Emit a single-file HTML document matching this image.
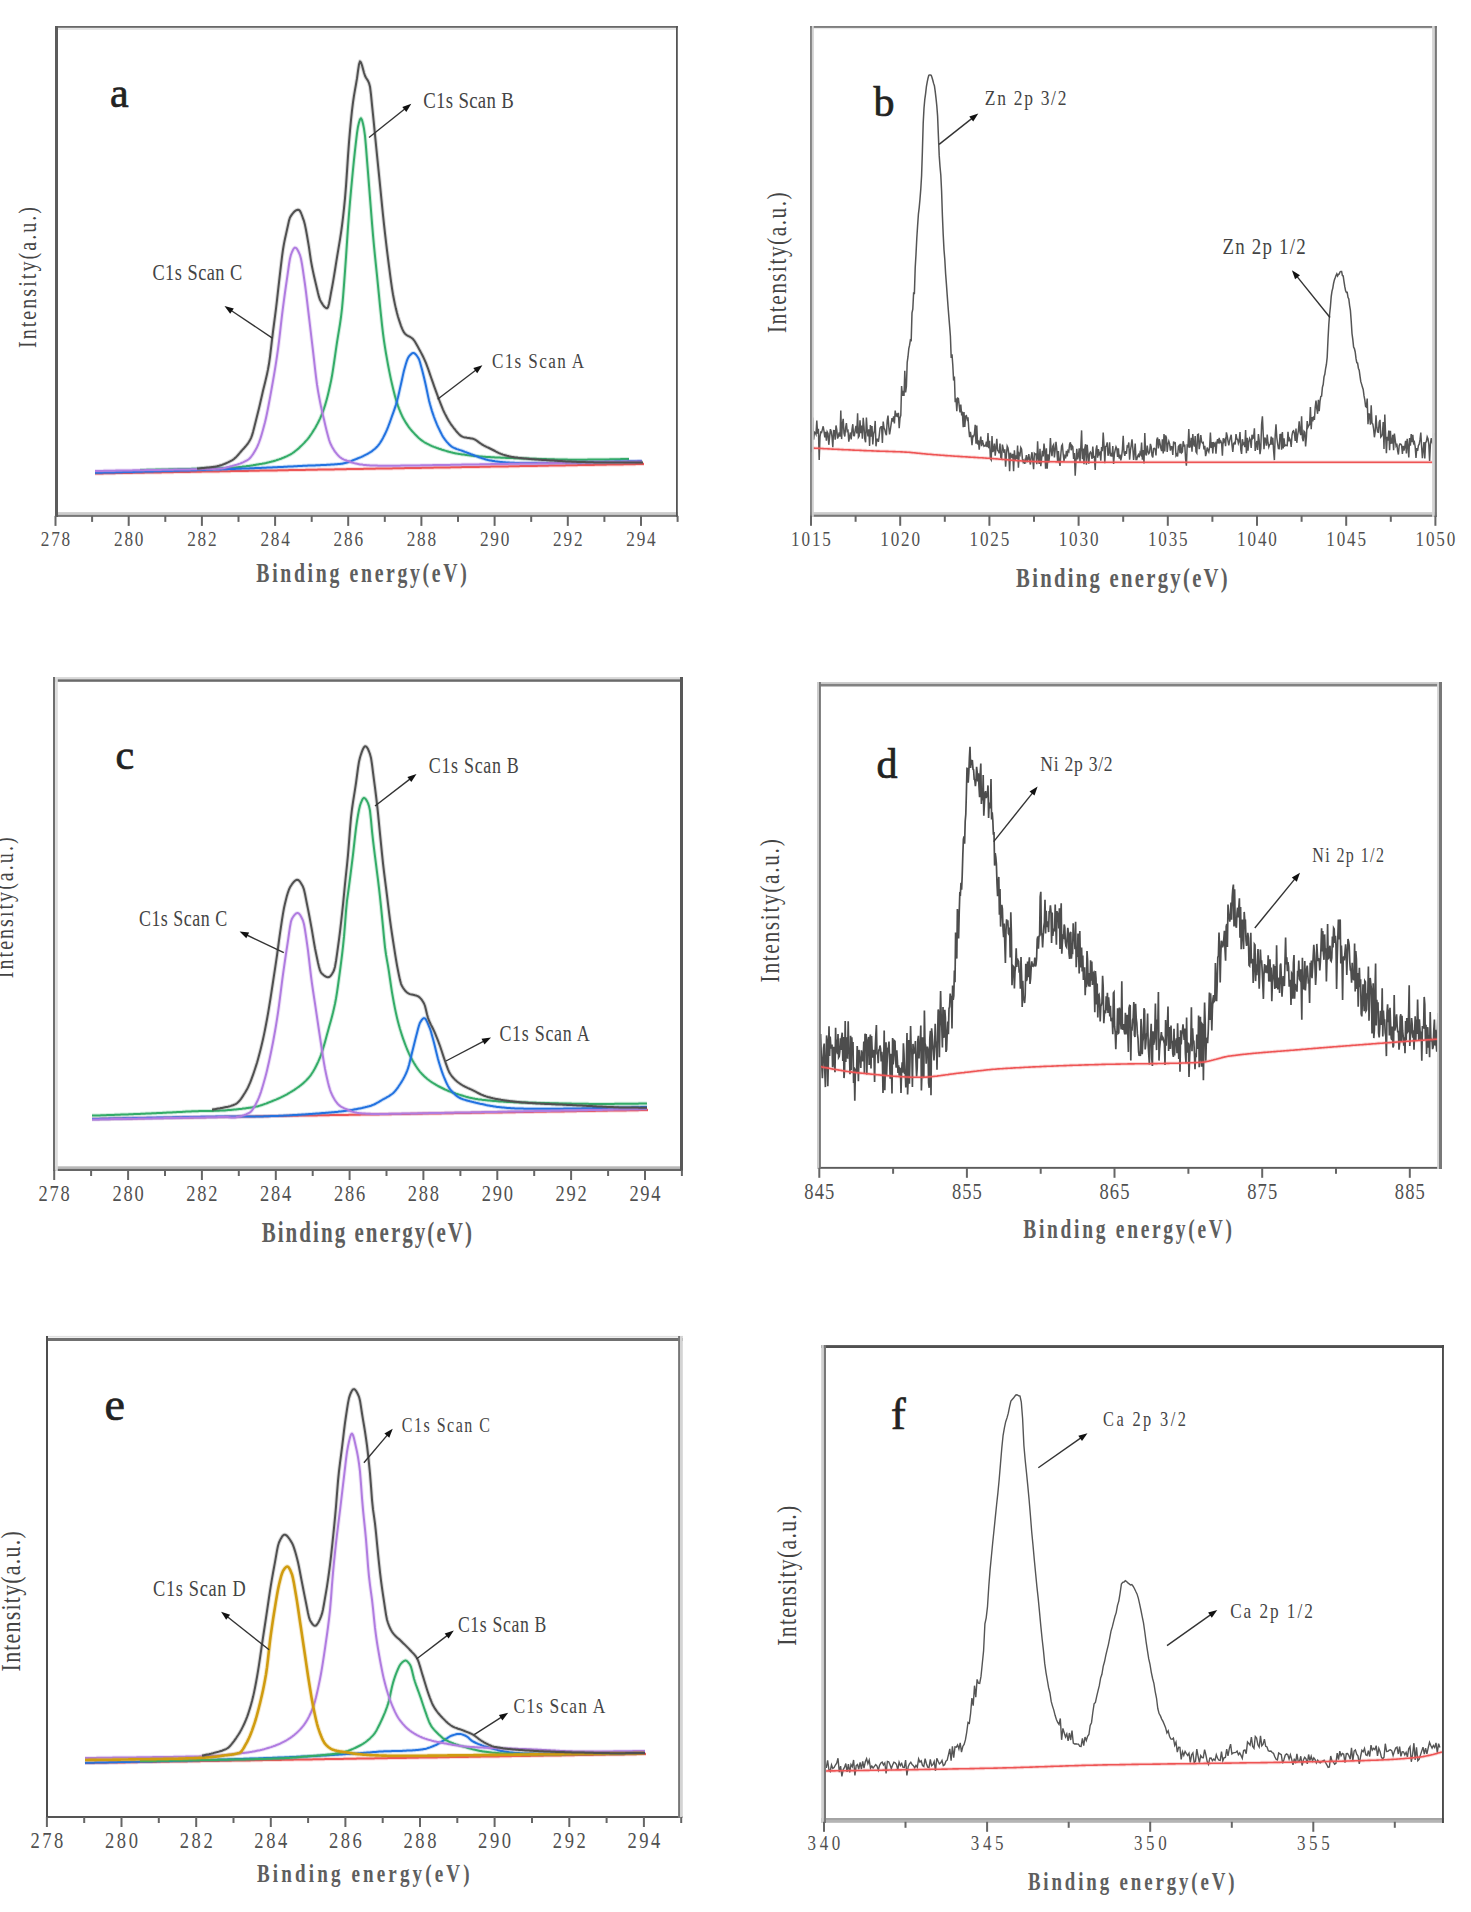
<!DOCTYPE html>
<html><head><meta charset="utf-8"><title>XPS spectra</title>
<style>html,body{margin:0;padding:0;background:#fff;width:1471px;height:1912px;overflow:hidden}svg{display:block}</style>
</head><body><div id="w">
<svg width="1471" height="1912" viewBox="0 0 1471 1912" font-family="Liberation Serif, serif">
<rect width="1471" height="1912" fill="#fff"/>
<defs><path id="p1" d="M95,473.5 L96,473.5 L97,473.5 L98,473.4 L99,473.4 L100,473.4 L101,473.4 L102,473.4 L103,473.4 L104,473.3 L105,473.3 L106,473.3 L107,473.3 L108,473.3 L109,473.3 L110,473.2 L111,473.2 L112,473.2 L113,473.2 L114,473.2 L115,473.2 L116,473.1 L117,473.1 L118,473.1 L119,473.1 L120,473.1 L121,473.1 L122,473 L123,473 L124,473 L125,473 L126,473 L127,472.9 L128,472.9 L129,472.9 L130,472.9 L131,472.9 L132,472.9 L133,472.8 L134,472.8 L135,472.8 L136,472.8 L137,472.8 L138,472.8 L139,472.7 L140,472.7 L141,472.7 L142,472.7 L143,472.7 L144,472.7 L145,472.6 L146,472.6 L147,472.6 L148,472.6 L149,472.6 L150,472.5 L151,472.5 L152,472.5 L153,472.5 L154,472.5 L155,472.5 L156,472.4 L157,472.4 L158,472.4 L159,472.4 L160,472.4 L161,472.4 L162,472.3 L163,472.3 L164,472.3 L165,472.3 L166,472.3 L167,472.3 L168,472.2 L169,472.2 L170,472.2 L171,472.2 L172,472.2 L173,472.2 L174,472.1 L175,472.1 L176,472.1 L177,472.1 L178,472.1 L179,472 L180,472 L181,472 L182,472 L183,472 L184,472 L185,471.9 L186,471.9 L187,471.9 L188,471.9 L189,471.9 L190,471.9 L191,471.8 L192,471.8 L193,471.8 L194,471.8 L195,471.8 L196,471.8 L197,471.7 L198,471.7 L199,471.7 L200,471.7 L201,471.7 L202,471.6 L203,471.6 L204,471.6 L205,471.6 L206,471.6 L207,471.6 L208,471.5 L209,471.5 L210,471.5 L211,471.5 L212,471.5 L213,471.5 L214,471.4 L215,471.4 L216,471.4 L217,471.4 L218,471.4 L219,471.4 L220,471.3 L221,471.3 L222,471.3 L223,471.3 L224,471.3 L225,471.3 L226,471.2 L227,471.2 L228,471.2 L229,471.2 L230,471.2 L231,471.1 L232,471.1 L233,471.1 L234,471.1 L235,471.1 L236,471.1 L237,471 L238,471 L239,471 L240,471 L241,471 L242,471 L243,470.9 L244,470.9 L245,470.9 L246,470.9 L247,470.9 L248,470.9 L249,470.8 L250,470.8 L251,470.8 L252,470.8 L253,470.8 L254,470.7 L255,470.7 L256,470.7 L257,470.7 L258,470.7 L259,470.7 L260,470.6 L261,470.6 L262,470.6 L263,470.6 L264,470.6 L265,470.6 L266,470.5 L267,470.5 L268,470.5 L269,470.5 L270,470.5 L271,470.5 L272,470.4 L273,470.4 L274,470.4 L275,470.4 L276,470.4 L277,470.4 L278,470.3 L279,470.3 L280,470.3 L281,470.3 L282,470.3 L283,470.2 L284,470.2 L285,470.2 L286,470.2 L287,470.2 L288,470.2 L289,470.1 L290,470.1 L291,470.1 L292,470.1 L293,470.1 L294,470.1 L295,470 L296,470 L297,470 L298,470 L299,470 L300,470 L301,469.9 L302,469.9 L303,469.9 L304,469.9 L305,469.9 L306,469.8 L307,469.8 L308,469.8 L309,469.8 L310,469.8 L311,469.8 L312,469.7 L313,469.7 L314,469.7 L315,469.7 L316,469.7 L317,469.7 L318,469.6 L319,469.6 L320,469.6 L321,469.6 L322,469.6 L323,469.6 L324,469.5 L325,469.5 L326,469.5 L327,469.5 L328,469.5 L329,469.5 L330,469.4 L331,469.4 L332,469.4 L333,469.4 L334,469.4 L335,469.3 L336,469.3 L337,469.3 L338,469.3 L339,469.3 L340,469.3 L341,469.2 L342,469.2 L343,469.2 L344,469.2 L345,469.2 L346,469.2 L347,469.1 L348,469.1 L349,469.1 L350,469.1 L351,469.1 L352,469.1 L353,469 L354,469 L355,469 L356,469 L357,469 L358,468.9 L359,468.9 L360,468.9 L361,468.9 L362,468.9 L363,468.9 L364,468.8 L365,468.8 L366,468.8 L367,468.8 L368,468.8 L369,468.8 L370,468.7 L371,468.7 L372,468.7 L373,468.7 L374,468.7 L375,468.7 L376,468.6 L377,468.6 L378,468.6 L379,468.6 L380,468.6 L381,468.6 L382,468.5 L383,468.5 L384,468.5 L385,468.5 L386,468.5 L387,468.4 L388,468.4 L389,468.4 L390,468.4 L391,468.4 L392,468.4 L393,468.3 L394,468.3 L395,468.3 L396,468.3 L397,468.3 L398,468.3 L399,468.2 L400,468.2 L401,468.2 L402,468.2 L403,468.2 L404,468.2 L405,468.1 L406,468.1 L407,468.1 L408,468.1 L409,468.1 L410,468 L411,468 L412,468 L413,468 L414,468 L415,468 L416,467.9 L417,467.9 L418,467.9 L419,467.9 L420,467.9 L421,467.9 L422,467.8 L423,467.8 L424,467.8 L425,467.8 L426,467.8 L427,467.8 L428,467.7 L429,467.7 L430,467.7 L431,467.7 L432,467.7 L433,467.7 L434,467.6 L435,467.6 L436,467.6 L437,467.6 L438,467.6 L439,467.5 L440,467.5 L441,467.5 L442,467.5 L443,467.5 L444,467.5 L445,467.4 L446,467.4 L447,467.4 L448,467.4 L449,467.4 L450,467.4 L451,467.3 L452,467.3 L453,467.3 L454,467.3 L455,467.3 L456,467.3 L457,467.2 L458,467.2 L459,467.2 L460,467.2 L461,467.2 L462,467.1 L463,467.1 L464,467.1 L465,467.1 L466,467.1 L467,467.1 L468,467 L469,467 L470,467 L471,467 L472,467 L473,467 L474,466.9 L475,466.9 L476,466.9 L477,466.9 L478,466.9 L479,466.9 L480,466.8 L481,466.8 L482,466.8 L483,466.8 L484,466.8 L485,466.8 L486,466.7 L487,466.7 L488,466.7 L489,466.7 L490,466.7 L491,466.6 L492,466.6 L493,466.6 L494,466.6 L495,466.6 L496,466.6 L497,466.5 L498,466.5 L499,466.5 L500,466.5 L501,466.5 L502,466.5 L503,466.4 L504,466.4 L505,466.4 L506,466.4 L507,466.4 L508,466.4 L509,466.3 L510,466.3 L511,466.3 L512,466.3 L513,466.3 L514,466.2 L515,466.2 L516,466.2 L517,466.2 L518,466.2 L519,466.2 L520,466.1 L521,466.1 L522,466.1 L523,466.1 L524,466.1 L525,466.1 L526,466 L527,466 L528,466 L529,466 L530,466 L531,466 L532,465.9 L533,465.9 L534,465.9 L535,465.9 L536,465.9 L537,465.9 L538,465.8 L539,465.8 L540,465.8 L541,465.8 L542,465.8 L543,465.7 L544,465.7 L545,465.7 L546,465.7 L547,465.7 L548,465.7 L549,465.6 L550,465.6 L551,465.6 L552,465.6 L553,465.6 L554,465.6 L555,465.5 L556,465.5 L557,465.5 L558,465.5 L559,465.5 L560,465.5 L561,465.4 L562,465.4 L563,465.4 L564,465.4 L565,465.4 L566,465.3 L567,465.3 L568,465.3 L569,465.3 L570,465.3 L571,465.3 L572,465.2 L573,465.2 L574,465.2 L575,465.2 L576,465.2 L577,465.2 L578,465.1 L579,465.1 L580,465.1 L581,465.1 L582,465.1 L583,465.1 L584,465 L585,465 L586,465 L587,465 L588,465 L589,465 L590,464.9 L591,464.9 L592,464.9 L593,464.9 L594,464.9 L595,464.8 L596,464.8 L597,464.8 L598,464.8 L599,464.8 L600,464.8 L601,464.7 L602,464.7 L603,464.7 L604,464.7 L605,464.7 L606,464.7 L607,464.6 L608,464.6 L609,464.6 L610,464.6 L611,464.6 L612,464.6 L613,464.5 L614,464.5 L615,464.5 L616,464.5 L617,464.5 L618,464.4 L619,464.4 L620,464.4 L621,464.4 L622,464.4 L623,464.4 L624,464.3 L625,464.3 L626,464.3 L627,464.3 L628,464.3 L629,464.3 L630,464.2 L631,464.2 L632,464.2 L633,464.2 L634,464.2 L635,464.2 L636,464.1 L637,464.1 L638,464.1 L639,464.1 L640,464.1 L641,464.1 L642,464 L643,464 L644,464" fill="none" stroke="#ee5555" stroke-linejoin="round"/></defs>
<use href="#p1" stroke-width="4" opacity="0.22"/>
<use href="#p1" stroke-width="2" opacity="1"/>
<defs><path id="p2" d="M140,470 L141,470 L142,470 L143,469.9 L144,469.9 L145,469.9 L146,469.9 L147,469.8 L148,469.8 L149,469.8 L150,469.8 L151,469.8 L152,469.7 L153,469.7 L154,469.7 L155,469.7 L156,469.6 L157,469.6 L158,469.6 L159,469.6 L160,469.6 L161,469.5 L162,469.5 L163,469.5 L164,469.5 L165,469.4 L166,469.4 L167,469.4 L168,469.4 L169,469.3 L170,469.3 L171,469.3 L172,469.3 L173,469.3 L174,469.2 L175,469.2 L176,469.2 L177,469.2 L178,469.1 L179,469.1 L180,469.1 L181,469.1 L182,469.1 L183,469 L184,469 L185,469 L186,469 L187,468.9 L188,468.9 L189,468.9 L190,468.9 L191,468.9 L192,468.8 L193,468.8 L194,468.8 L195,468.8 L196,468.7 L197,468.7 L198,468.7 L199,468.7 L200,468.7 L201,468.6 L202,468.6 L203,468.6 L204,468.6 L205,468.5 L206,468.5 L207,468.5 L208,468.5 L209,468.5 L210,468.4 L211,468.4 L212,468.4 L213,468.4 L214,468.3 L215,468.3 L216,468.3 L217,468.3 L218,468.2 L219,468.2 L220,468.2 L221,468.2 L222,468.1 L223,468.1 L224,468.1 L225,468.1 L226,468 L227,468 L228,468 L229,467.9 L230,467.9 L231,467.8 L232,467.8 L233,467.7 L234,467.6 L235,467.6 L236,467.4 L237,467.3 L238,467.2 L239,467.1 L240,467 L241,466.9 L242,466.8 L243,466.6 L244,466.5 L245,466.4 L246,466.3 L247,466.1 L248,466 L249,465.9 L250,465.7 L251,465.6 L252,465.4 L253,465.3 L254,465.1 L255,465 L256,464.8 L257,464.6 L258,464.5 L259,464.3 L260,464.1 L261,463.9 L262,463.8 L263,463.6 L264,463.4 L265,463.2 L266,463 L267,462.7 L268,462.5 L269,462.3 L270,462 L271,461.8 L272,461.5 L273,461.3 L274,461 L275,460.7 L276,460.4 L277,460 L278,459.7 L279,459.4 L280,459 L281,458.7 L282,458.3 L283,457.9 L284,457.5 L285,457 L286,456.6 L287,456.2 L288,455.7 L289,455.2 L290,454.7 L291,454.1 L292,453.5 L293,452.8 L294,452.1 L295,451.3 L296,450.5 L297,449.7 L298,448.9 L299,448 L300,447 L301,446.1 L302,445.1 L303,444.1 L304,443.1 L305,442 L306,440.9 L307,439.8 L308,438.6 L309,437.3 L310,435.9 L311,434.5 L312,433 L313,431.4 L314,429.8 L315,428.2 L316,426.4 L317,424.6 L318,422.7 L319,420.7 L320,418.6 L321,416.3 L322,413.9 L323,411.3 L324,408.5 L325,405.4 L326,402 L327,398.4 L328,394.5 L329,390.3 L330,385.8 L331,381.1 L332,375.8 L333,369.7 L334,363 L335,356.1 L336,349.1 L337,342.4 L338,336.1 L339,330.2 L340,324 L341,317 L342,308.5 L343,297.6 L344,284.8 L345,271.2 L346,257.3 L347,242.1 L348,227.1 L349,214 L350,202 L351,190.7 L352,180 L353,169.5 L354,159.6 L355,150.3 L356,141.6 L357,133.1 L358,126.7 L359,122.6 L360,119.4 L361,118.2 L362,119.9 L363,123.7 L364,128.8 L365,135.8 L366,147.2 L367,160 L368,172.3 L369,185.1 L370,197.9 L371,210.5 L372,223.1 L373,235.1 L374,246 L375,256.1 L376,265.8 L377,275.5 L378,285.6 L379,295.7 L380,305.8 L381,315.4 L382,324.8 L383,333.4 L384,340.8 L385,347.4 L386,353.5 L387,359.2 L388,364.7 L389,369.9 L390,374.9 L391,379.6 L392,384 L393,388.2 L394,392.3 L395,396.2 L396,399.8 L397,403 L398,405.9 L399,408.6 L400,411.1 L401,413.5 L402,415.7 L403,417.7 L404,419.5 L405,421.2 L406,422.9 L407,424.4 L408,425.9 L409,427.3 L410,428.6 L411,429.8 L412,431 L413,432.1 L414,433.2 L415,434.3 L416,435.3 L417,436.3 L418,437.3 L419,438.2 L420,439 L421,439.9 L422,440.6 L423,441.3 L424,442 L425,442.6 L426,443.1 L427,443.7 L428,444.2 L429,444.7 L430,445.2 L431,445.6 L432,446.1 L433,446.5 L434,446.9 L435,447.2 L436,447.6 L437,448 L438,448.3 L439,448.7 L440,449 L441,449.3 L442,449.7 L443,450 L444,450.3 L445,450.6 L446,450.9 L447,451.2 L448,451.5 L449,451.8 L450,452 L451,452.3 L452,452.5 L453,452.8 L454,453 L455,453.2 L456,453.4 L457,453.6 L458,453.7 L459,453.9 L460,454.1 L461,454.2 L462,454.4 L463,454.5 L464,454.6 L465,454.8 L466,454.9 L467,455.1 L468,455.2 L469,455.3 L470,455.4 L471,455.5 L472,455.7 L473,455.8 L474,455.9 L475,456 L476,456.1 L477,456.2 L478,456.3 L479,456.4 L480,456.5 L481,456.5 L482,456.6 L483,456.7 L484,456.8 L485,456.8 L486,456.9 L487,456.9 L488,457 L489,457.1 L490,457.1 L491,457.2 L492,457.2 L493,457.3 L494,457.3 L495,457.4 L496,457.4 L497,457.5 L498,457.5 L499,457.6 L500,457.6 L501,457.7 L502,457.7 L503,457.7 L504,457.8 L505,457.8 L506,457.9 L507,457.9 L508,457.9 L509,458 L510,458 L511,458.1 L512,458.1 L513,458.1 L514,458.2 L515,458.2 L516,458.2 L517,458.3 L518,458.3 L519,458.3 L520,458.4 L521,458.4 L522,458.4 L523,458.4 L524,458.5 L525,458.5 L526,458.5 L527,458.6 L528,458.6 L529,458.6 L530,458.7 L531,458.7 L532,458.7 L533,458.7 L534,458.8 L535,458.8 L536,458.8 L537,458.9 L538,458.9 L539,458.9 L540,459 L541,459 L542,459 L543,459.1 L544,459.1 L545,459.1 L546,459.1 L547,459.2 L548,459.2 L549,459.2 L550,459.2 L551,459.3 L552,459.3 L553,459.3 L554,459.3 L555,459.4 L556,459.4 L557,459.4 L558,459.4 L559,459.5 L560,459.5 L561,459.5 L562,459.5 L563,459.6 L564,459.6 L565,459.6 L566,459.6 L567,459.6 L568,459.7 L569,459.7 L570,459.7 L571,459.7 L572,459.7 L573,459.7 L574,459.7 L575,459.7 L576,459.7 L577,459.7 L578,459.7 L579,459.7 L580,459.7 L581,459.7 L582,459.7 L583,459.7 L584,459.7 L585,459.7 L586,459.7 L587,459.7 L588,459.6 L589,459.6 L590,459.6 L591,459.6 L592,459.6 L593,459.6 L594,459.6 L595,459.6 L596,459.6 L597,459.5 L598,459.5 L599,459.5 L600,459.5 L601,459.5 L602,459.5 L603,459.5 L604,459.4 L605,459.4 L606,459.4 L607,459.4 L608,459.4 L609,459.4 L610,459.3 L611,459.3 L612,459.3 L613,459.3 L614,459.3 L615,459.3 L616,459.2 L617,459.2 L618,459.2 L619,459.2 L620,459.2 L621,459.1 L622,459.1 L623,459.1 L624,459.1 L625,459.1 L626,459 L627,459 L628,459 L629,459" fill="none" stroke="#34ac68" stroke-linejoin="round"/></defs>
<use href="#p2" stroke-width="4" opacity="0.22"/>
<use href="#p2" stroke-width="2" opacity="1"/>
<defs><path id="p3" d="M95,472.8 L96,472.8 L97,472.8 L98,472.8 L99,472.7 L100,472.7 L101,472.7 L102,472.7 L103,472.6 L104,472.6 L105,472.6 L106,472.6 L107,472.5 L108,472.5 L109,472.5 L110,472.5 L111,472.4 L112,472.4 L113,472.4 L114,472.4 L115,472.3 L116,472.3 L117,472.3 L118,472.3 L119,472.2 L120,472.2 L121,472.2 L122,472.2 L123,472.1 L124,472.1 L125,472.1 L126,472.1 L127,472 L128,472 L129,472 L130,472 L131,471.9 L132,471.9 L133,471.9 L134,471.9 L135,471.8 L136,471.8 L137,471.8 L138,471.8 L139,471.7 L140,471.7 L141,471.7 L142,471.7 L143,471.6 L144,471.6 L145,471.6 L146,471.6 L147,471.5 L148,471.5 L149,471.5 L150,471.5 L151,471.4 L152,471.4 L153,471.4 L154,471.3 L155,471.3 L156,471.3 L157,471.3 L158,471.2 L159,471.2 L160,471.2 L161,471.2 L162,471.1 L163,471.1 L164,471.1 L165,471 L166,471 L167,471 L168,471 L169,470.9 L170,470.9 L171,470.9 L172,470.9 L173,470.8 L174,470.8 L175,470.8 L176,470.7 L177,470.7 L178,470.7 L179,470.7 L180,470.6 L181,470.6 L182,470.6 L183,470.5 L184,470.5 L185,470.5 L186,470.5 L187,470.4 L188,470.4 L189,470.4 L190,470.3 L191,470.3 L192,470.3 L193,470.2 L194,470.2 L195,470.2 L196,470.2 L197,470.1 L198,470.1 L199,470.1 L200,470 L201,470 L202,470 L203,469.9 L204,469.9 L205,469.9 L206,469.8 L207,469.8 L208,469.8 L209,469.8 L210,469.7 L211,469.7 L212,469.7 L213,469.6 L214,469.6 L215,469.6 L216,469.5 L217,469.5 L218,469.5 L219,469.4 L220,469.4 L221,469.4 L222,469.3 L223,469.3 L224,469.3 L225,469.2 L226,469.2 L227,469.2 L228,469.1 L229,469.1 L230,469.1 L231,469 L232,469 L233,468.9 L234,468.9 L235,468.9 L236,468.8 L237,468.8 L238,468.8 L239,468.7 L240,468.7 L241,468.7 L242,468.6 L243,468.6 L244,468.5 L245,468.5 L246,468.5 L247,468.4 L248,468.4 L249,468.4 L250,468.3 L251,468.3 L252,468.2 L253,468.2 L254,468.2 L255,468.1 L256,468.1 L257,468 L258,468 L259,468 L260,467.9 L261,467.9 L262,467.8 L263,467.8 L264,467.7 L265,467.7 L266,467.7 L267,467.6 L268,467.6 L269,467.5 L270,467.5 L271,467.4 L272,467.4 L273,467.3 L274,467.3 L275,467.3 L276,467.2 L277,467.2 L278,467.1 L279,467.1 L280,467 L281,467 L282,466.9 L283,466.9 L284,466.8 L285,466.8 L286,466.7 L287,466.7 L288,466.6 L289,466.6 L290,466.5 L291,466.5 L292,466.4 L293,466.4 L294,466.3 L295,466.3 L296,466.2 L297,466.2 L298,466.1 L299,466.1 L300,466 L301,465.9 L302,465.9 L303,465.8 L304,465.8 L305,465.8 L306,465.7 L307,465.7 L308,465.6 L309,465.6 L310,465.5 L311,465.5 L312,465.5 L313,465.4 L314,465.4 L315,465.4 L316,465.3 L317,465.3 L318,465.2 L319,465.2 L320,465.2 L321,465.1 L322,465.1 L323,465 L324,465 L325,464.9 L326,464.9 L327,464.8 L328,464.8 L329,464.7 L330,464.7 L331,464.6 L332,464.5 L333,464.5 L334,464.4 L335,464.3 L336,464.2 L337,464.2 L338,464.1 L339,464 L340,463.9 L341,463.8 L342,463.7 L343,463.5 L344,463.3 L345,463.1 L346,462.8 L347,462.5 L348,462.2 L349,461.8 L350,461.4 L351,461.1 L352,460.7 L353,460.3 L354,459.9 L355,459.5 L356,459.1 L357,458.7 L358,458.3 L359,457.9 L360,457.5 L361,457.1 L362,456.6 L363,456.2 L364,455.7 L365,455.2 L366,454.7 L367,454.2 L368,453.6 L369,453 L370,452.4 L371,451.8 L372,451.1 L373,450.3 L374,449.5 L375,448.7 L376,447.8 L377,446.8 L378,445.7 L379,444.4 L380,443 L381,441.4 L382,439.7 L383,437.9 L384,436 L385,434 L386,431.9 L387,429.7 L388,427.2 L389,424.5 L390,421.8 L391,419 L392,416.2 L393,413.4 L394,410.6 L395,407.6 L396,404.5 L397,401.1 L398,397.2 L399,392.9 L400,388.4 L401,384 L402,379.5 L403,374.9 L404,370.6 L405,366.9 L406,363.5 L407,360.4 L408,358 L409,356.4 L410,355.2 L411,354.2 L412,353.4 L413,353 L414,353.1 L415,353.7 L416,354.7 L417,356 L418,357.5 L419,359.3 L420,362.3 L421,365.9 L422,369.6 L423,373.4 L424,377.6 L425,381.8 L426,386.2 L427,391 L428,395.9 L429,400.4 L430,404.3 L431,407.8 L432,411.1 L433,414.1 L434,417 L435,419.7 L436,422.2 L437,424.6 L438,426.8 L439,428.9 L440,431 L441,433 L442,434.9 L443,436.7 L444,438.2 L445,439.6 L446,440.9 L447,442.1 L448,443.2 L449,444.3 L450,445.2 L451,446.1 L452,446.8 L453,447.4 L454,447.9 L455,448.3 L456,448.7 L457,449.1 L458,449.4 L459,449.8 L460,450.1 L461,450.4 L462,450.7 L463,451.1 L464,451.5 L465,451.9 L466,452.2 L467,452.6 L468,453 L469,453.4 L470,453.8 L471,454.2 L472,454.5 L473,454.9 L474,455.3 L475,455.7 L476,456.1 L477,456.4 L478,456.8 L479,457.2 L480,457.6 L481,457.9 L482,458.3 L483,458.6 L484,458.9 L485,459.2 L486,459.5 L487,459.7 L488,460 L489,460.2 L490,460.4 L491,460.6 L492,460.8 L493,461 L494,461.1 L495,461.3 L496,461.4 L497,461.5 L498,461.7 L499,461.8 L500,461.9 L501,462 L502,462.1 L503,462.2 L504,462.3 L505,462.3 L506,462.4 L507,462.5 L508,462.5 L509,462.6 L510,462.7 L511,462.7 L512,462.7 L513,462.8 L514,462.8 L515,462.9 L516,462.9 L517,462.9 L518,462.9 L519,463 L520,463 L521,463 L522,463 L523,463 L524,463 L525,463.1 L526,463.1 L527,463.1 L528,463.1 L529,463.1 L530,463.1 L531,463.1 L532,463.1 L533,463.1 L534,463.1 L535,463.1 L536,463.1 L537,463.1 L538,463.1 L539,463 L540,463 L541,463 L542,463 L543,463 L544,463 L545,463 L546,463 L547,463 L548,463 L549,462.9 L550,462.9 L551,462.9 L552,462.9 L553,462.9 L554,462.9 L555,462.8 L556,462.8 L557,462.8 L558,462.8 L559,462.8 L560,462.8 L561,462.7 L562,462.7 L563,462.7 L564,462.7 L565,462.7 L566,462.7 L567,462.6 L568,462.6 L569,462.6 L570,462.6 L571,462.6 L572,462.5 L573,462.5 L574,462.5 L575,462.5 L576,462.5 L577,462.4 L578,462.4 L579,462.4 L580,462.4 L581,462.4 L582,462.3 L583,462.3 L584,462.3 L585,462.3 L586,462.3 L587,462.2 L588,462.2 L589,462.2 L590,462.2 L591,462.1 L592,462.1 L593,462.1 L594,462.1 L595,462.1 L596,462 L597,462 L598,462 L599,462 L600,462 L601,461.9 L602,461.9 L603,461.9 L604,461.9 L605,461.8 L606,461.8 L607,461.8 L608,461.8 L609,461.8 L610,461.7 L611,461.7 L612,461.7 L613,461.7 L614,461.7 L615,461.6 L616,461.6 L617,461.6 L618,461.6 L619,461.5 L620,461.5 L621,461.5 L622,461.5 L623,461.5 L624,461.4 L625,461.4 L626,461.4 L627,461.4 L628,461.3 L629,461.3 L630,461.3 L631,461.3 L632,461.3 L633,461.2 L634,461.2 L635,461.2 L636,461.2 L637,461.2 L638,461.1 L639,461.1 L640,461.1 L641,461.1 L642,461" fill="none" stroke="#2272e0" stroke-linejoin="round"/></defs>
<use href="#p3" stroke-width="4" opacity="0.22"/>
<use href="#p3" stroke-width="2" opacity="1"/>
<defs><path id="p4" d="M95,471 L96,471 L97,471 L98,470.9 L99,470.9 L100,470.9 L101,470.9 L102,470.9 L103,470.9 L104,470.8 L105,470.8 L106,470.8 L107,470.8 L108,470.8 L109,470.8 L110,470.7 L111,470.7 L112,470.7 L113,470.7 L114,470.7 L115,470.7 L116,470.6 L117,470.6 L118,470.6 L119,470.6 L120,470.6 L121,470.6 L122,470.5 L123,470.5 L124,470.5 L125,470.5 L126,470.5 L127,470.4 L128,470.4 L129,470.4 L130,470.4 L131,470.4 L132,470.4 L133,470.3 L134,470.3 L135,470.3 L136,470.3 L137,470.3 L138,470.3 L139,470.2 L140,470.2 L141,470.2 L142,470.2 L143,470.2 L144,470.2 L145,470.1 L146,470.1 L147,470.1 L148,470.1 L149,470.1 L150,470 L151,470 L152,470 L153,470 L154,470 L155,470 L156,469.9 L157,469.9 L158,469.9 L159,469.9 L160,469.9 L161,469.9 L162,469.8 L163,469.8 L164,469.8 L165,469.8 L166,469.8 L167,469.8 L168,469.7 L169,469.7 L170,469.7 L171,469.7 L172,469.7 L173,469.7 L174,469.6 L175,469.6 L176,469.6 L177,469.6 L178,469.6 L179,469.5 L180,469.5 L181,469.5 L182,469.5 L183,469.5 L184,469.5 L185,469.4 L186,469.4 L187,469.4 L188,469.4 L189,469.4 L190,469.4 L191,469.3 L192,469.3 L193,469.3 L194,469.3 L195,469.3 L196,469.3 L197,469.2 L198,469.2 L199,469.2 L200,469.2 L201,469.2 L202,469.1 L203,469.1 L204,469.1 L205,469.1 L206,469.1 L207,469.1 L208,469 L209,469 L210,469 L211,469 L212,468.9 L213,468.9 L214,468.9 L215,468.9 L216,468.8 L217,468.8 L218,468.7 L219,468.7 L220,468.6 L221,468.5 L222,468.4 L223,468.3 L224,468.1 L225,467.9 L226,467.6 L227,467.3 L228,467 L229,466.8 L230,466.5 L231,466.2 L232,466 L233,465.7 L234,465.4 L235,465.1 L236,464.9 L237,464.6 L238,464.3 L239,463.9 L240,463.6 L241,463.2 L242,462.8 L243,462.4 L244,461.9 L245,461.4 L246,460.9 L247,460.4 L248,459.7 L249,459 L250,458 L251,456.8 L252,455.5 L253,454.1 L254,452.5 L255,450.9 L256,449.1 L257,447.2 L258,445 L259,442.5 L260,439.7 L261,436.6 L262,433.3 L263,429.8 L264,426.1 L265,422.3 L266,418 L267,413.3 L268,408.3 L269,403 L270,397.6 L271,392.1 L272,386.5 L273,380.9 L274,375.1 L275,369.1 L276,362.8 L277,356.2 L278,349.2 L279,341.4 L280,332.8 L281,323.9 L282,315.3 L283,307.4 L284,299.9 L285,292.5 L286,285.5 L287,278.7 L288,271.6 L289,264.5 L290,258.4 L291,254.6 L292,252 L293,249.8 L294,248.3 L295,247.6 L296,247.9 L297,249 L298,250.7 L299,252.8 L300,255.2 L301,258.8 L302,264.2 L303,270.7 L304,277.6 L305,284.5 L306,292.2 L307,300.4 L308,308.8 L309,317.1 L310,325.5 L311,334 L312,342.5 L313,350.9 L314,359.6 L315,368.5 L316,376.9 L317,384.5 L318,390.8 L319,396.4 L320,401.6 L321,406.5 L322,411 L323,415.4 L324,419.6 L325,423.9 L326,428.2 L327,432.3 L328,436.1 L329,439.6 L330,442.5 L331,444.8 L332,446.7 L333,448.4 L334,450.1 L335,451.6 L336,452.9 L337,454.2 L338,455.3 L339,456.3 L340,457.2 L341,457.9 L342,458.6 L343,459.1 L344,459.6 L345,460 L346,460.3 L347,460.7 L348,461 L349,461.4 L350,461.8 L351,462.2 L352,462.5 L353,462.8 L354,463.1 L355,463.4 L356,463.6 L357,463.8 L358,464 L359,464.2 L360,464.4 L361,464.5 L362,464.6 L363,464.8 L364,464.9 L365,465 L366,465.1 L367,465.2 L368,465.2 L369,465.3 L370,465.4 L371,465.4 L372,465.5 L373,465.5 L374,465.5 L375,465.6 L376,465.6 L377,465.6 L378,465.7 L379,465.7 L380,465.7 L381,465.7 L382,465.7 L383,465.7 L384,465.7 L385,465.7 L386,465.7 L387,465.7 L388,465.7 L389,465.7 L390,465.7 L391,465.7 L392,465.7 L393,465.7 L394,465.7 L395,465.7 L396,465.7 L397,465.7 L398,465.7 L399,465.7 L400,465.7 L401,465.6 L402,465.6 L403,465.6 L404,465.6 L405,465.6 L406,465.6 L407,465.6 L408,465.5 L409,465.5 L410,465.5 L411,465.5 L412,465.5 L413,465.5 L414,465.5 L415,465.4 L416,465.4 L417,465.4 L418,465.4 L419,465.4 L420,465.4 L421,465.3 L422,465.3 L423,465.3 L424,465.3 L425,465.3 L426,465.3 L427,465.2 L428,465.2 L429,465.2 L430,465.2 L431,465.2 L432,465.2 L433,465.1 L434,465.1 L435,465.1 L436,465.1 L437,465.1 L438,465.1 L439,465 L440,465 L441,465 L442,465 L443,465 L444,465 L445,464.9 L446,464.9 L447,464.9 L448,464.9 L449,464.9 L450,464.9 L451,464.8 L452,464.8 L453,464.8 L454,464.8 L455,464.8 L456,464.8 L457,464.7 L458,464.7 L459,464.7 L460,464.7 L461,464.7 L462,464.6 L463,464.6 L464,464.6 L465,464.6 L466,464.6 L467,464.6 L468,464.5 L469,464.5 L470,464.5 L471,464.5 L472,464.5 L473,464.5 L474,464.4 L475,464.4 L476,464.4 L477,464.4 L478,464.4 L479,464.4 L480,464.3 L481,464.3 L482,464.3 L483,464.3 L484,464.3 L485,464.3 L486,464.2 L487,464.2 L488,464.2 L489,464.2 L490,464.2 L491,464.1 L492,464.1 L493,464.1 L494,464.1 L495,464.1 L496,464.1 L497,464 L498,464 L499,464 L500,464 L501,464 L502,464 L503,463.9 L504,463.9 L505,463.9 L506,463.9 L507,463.9 L508,463.9 L509,463.8 L510,463.8 L511,463.8 L512,463.8 L513,463.8 L514,463.7 L515,463.7 L516,463.7 L517,463.7 L518,463.7 L519,463.7 L520,463.6 L521,463.6 L522,463.6 L523,463.6 L524,463.6 L525,463.6 L526,463.5 L527,463.5 L528,463.5 L529,463.5 L530,463.5 L531,463.5 L532,463.4 L533,463.4 L534,463.4 L535,463.4 L536,463.4 L537,463.4 L538,463.3 L539,463.3 L540,463.3 L541,463.3 L542,463.3 L543,463.2 L544,463.2 L545,463.2 L546,463.2 L547,463.2 L548,463.2 L549,463.1 L550,463.1 L551,463.1 L552,463.1 L553,463.1 L554,463.1 L555,463 L556,463 L557,463 L558,463 L559,463 L560,463 L561,462.9 L562,462.9 L563,462.9 L564,462.9 L565,462.9 L566,462.8 L567,462.8 L568,462.8 L569,462.8 L570,462.8 L571,462.8 L572,462.7 L573,462.7 L574,462.7 L575,462.7 L576,462.7 L577,462.7 L578,462.6 L579,462.6 L580,462.6 L581,462.6 L582,462.6 L583,462.6 L584,462.5 L585,462.5 L586,462.5 L587,462.5 L588,462.5 L589,462.5 L590,462.4 L591,462.4 L592,462.4 L593,462.4 L594,462.4 L595,462.3 L596,462.3 L597,462.3 L598,462.3 L599,462.3 L600,462.3 L601,462.2 L602,462.2 L603,462.2 L604,462.2 L605,462.2 L606,462.2 L607,462.1 L608,462.1 L609,462.1 L610,462.1 L611,462.1 L612,462.1 L613,462 L614,462 L615,462 L616,462 L617,462 L618,461.9 L619,461.9 L620,461.9 L621,461.9 L622,461.9 L623,461.9 L624,461.8 L625,461.8 L626,461.8 L627,461.8 L628,461.8 L629,461.8 L630,461.7 L631,461.7 L632,461.7 L633,461.7 L634,461.7 L635,461.7 L636,461.6 L637,461.6 L638,461.6 L639,461.6 L640,461.6 L641,461.6 L642,461.5" fill="none" stroke="#b07ce0" stroke-linejoin="round"/></defs>
<use href="#p4" stroke-width="4" opacity="0.22"/>
<use href="#p4" stroke-width="2" opacity="1"/>
<defs><path id="p5" d="M197,468.6 L198,468.5 L199,468.4 L200,468.3 L201,468.2 L202,468.1 L203,468 L204,467.9 L205,467.8 L206,467.7 L207,467.6 L208,467.5 L209,467.4 L210,467.3 L211,467.2 L212,467.1 L213,467 L214,466.8 L215,466.7 L216,466.5 L217,466.3 L218,466 L219,465.8 L220,465.5 L221,465.2 L222,464.9 L223,464.5 L224,464.1 L225,463.7 L226,463.3 L227,462.8 L228,462.4 L229,461.9 L230,461.4 L231,460.8 L232,460.3 L233,459.7 L234,459 L235,458.1 L236,457.2 L237,456.1 L238,455 L239,453.8 L240,452.7 L241,451.5 L242,450.3 L243,449.2 L244,448.2 L245,447 L246,445.9 L247,444.6 L248,443.3 L249,441.8 L250,440 L251,438.1 L252,435.4 L253,432.1 L254,428.3 L255,424.3 L256,420.3 L257,416.3 L258,412.3 L259,408.2 L260,403.9 L261,399.6 L262,395.2 L263,390.8 L264,386.7 L265,382.7 L266,378.6 L267,374.2 L268,369.4 L269,363.8 L270,356.8 L271,348.4 L272,339.8 L273,331.7 L274,324 L275,316.4 L276,308.6 L277,300.2 L278,291.2 L279,282.3 L280,273.7 L281,265.1 L282,256.8 L283,249.5 L284,243.6 L285,238.7 L286,234.2 L287,229.8 L288,225.2 L289,220.6 L290,217.5 L291,215.9 L292,214.4 L293,213.1 L294,212 L295,211.1 L296,210.4 L297,210 L298,209.7 L299,209.9 L300,211 L301,213 L302,215.5 L303,218.3 L304,221.2 L305,225.1 L306,230 L307,235.5 L308,241.3 L309,247.4 L310,254.4 L311,261.1 L312,266.5 L313,271.4 L314,276 L315,280.3 L316,284.4 L317,288.7 L318,293 L319,296.9 L320,299.9 L321,301.8 L322,303.4 L323,305 L324,306.3 L325,307.3 L326,308 L327,308.3 L328,307.3 L329,303.7 L330,298.6 L331,292.9 L332,287.6 L333,282.1 L334,276.2 L335,270 L336,263.6 L337,257.3 L338,251.3 L339,245.4 L340,239.4 L341,232.9 L342,225.6 L343,217.5 L344,208.4 L345,198.3 L346,186.2 L347,171.4 L348,156 L349,142.2 L350,130.7 L351,120 L352,110.5 L353,102.4 L354,95.6 L355,89.8 L356,84.3 L357,78.4 L358,71 L359,64.3 L360,61.4 L361,62.5 L362,65.3 L363,69 L364,72.8 L365,75.8 L366,77.8 L367,79.3 L368,80.9 L369,83.1 L370,86.7 L371,94.6 L372,104.8 L373,114.5 L374,124.5 L375,134.9 L376,145 L377,155 L378,165 L379,174.9 L380,184.9 L381,195 L382,205.1 L383,215 L384,224.4 L385,233.4 L386,242 L387,250.4 L388,258.4 L389,266.2 L390,273.9 L391,281.4 L392,288.4 L393,294.5 L394,299.7 L395,304.6 L396,309.1 L397,313.1 L398,316.7 L399,319.9 L400,322.9 L401,325.8 L402,328.4 L403,330.6 L404,332.4 L405,333.7 L406,334.6 L407,335.3 L408,335.9 L409,336.4 L410,336.9 L411,337.5 L412,338.2 L413,339.1 L414,340.3 L415,341.8 L416,343.5 L417,345.3 L418,347.1 L419,348.9 L420,350.7 L421,352.6 L422,354.5 L423,356.5 L424,358.6 L425,360.8 L426,363.2 L427,365.8 L428,368.5 L429,371.4 L430,374.3 L431,377.3 L432,380.1 L433,382.9 L434,385.8 L435,388.6 L436,391.4 L437,394.2 L438,396.9 L439,399.5 L440,402.1 L441,404.7 L442,407.2 L443,409.6 L444,411.8 L445,413.9 L446,415.8 L447,417.7 L448,419.5 L449,421.2 L450,422.8 L451,424.3 L452,425.7 L453,427 L454,428.3 L455,429.5 L456,430.8 L457,432 L458,433.1 L459,434.2 L460,435.1 L461,435.9 L462,436.5 L463,436.9 L464,437.2 L465,437.4 L466,437.6 L467,437.8 L468,437.9 L469,438 L470,438.2 L471,438.4 L472,438.6 L473,438.8 L474,439.1 L475,439.6 L476,440.2 L477,440.9 L478,441.6 L479,442.4 L480,443.1 L481,443.8 L482,444.5 L483,445 L484,445.6 L485,446.1 L486,446.6 L487,447.1 L488,447.5 L489,448 L490,448.5 L491,449 L492,449.5 L493,450 L494,450.5 L495,451 L496,451.6 L497,452.1 L498,452.6 L499,453.1 L500,453.5 L501,453.9 L502,454.2 L503,454.6 L504,454.9 L505,455.2 L506,455.5 L507,455.8 L508,456 L509,456.3 L510,456.5 L511,456.7 L512,456.9 L513,457 L514,457.2 L515,457.4 L516,457.5 L517,457.6 L518,457.8 L519,457.9 L520,458 L521,458.1 L522,458.2 L523,458.3 L524,458.4 L525,458.5 L526,458.6 L527,458.7 L528,458.8 L529,458.9 L530,459 L531,459.1 L532,459.2 L533,459.2 L534,459.3 L535,459.4 L536,459.5 L537,459.6 L538,459.6 L539,459.7 L540,459.8 L541,459.8 L542,459.9 L543,460 L544,460 L545,460.1 L546,460.1 L547,460.2 L548,460.3 L549,460.3 L550,460.4 L551,460.4 L552,460.5 L553,460.6 L554,460.6 L555,460.7 L556,460.7 L557,460.8 L558,460.9 L559,460.9 L560,461 L561,461.1 L562,461.1 L563,461.2 L564,461.3 L565,461.3 L566,461.4 L567,461.4 L568,461.5 L569,461.5 L570,461.6 L571,461.6 L572,461.7 L573,461.7 L574,461.8 L575,461.8 L576,461.8 L577,461.9 L578,461.9 L579,461.9 L580,462 L581,462 L582,462.1 L583,462.1 L584,462.1 L585,462.1 L586,462.2 L587,462.2 L588,462.2 L589,462.2 L590,462.3 L591,462.3 L592,462.3 L593,462.3 L594,462.4 L595,462.4 L596,462.4 L597,462.4 L598,462.4 L599,462.4 L600,462.5 L601,462.5 L602,462.5 L603,462.5 L604,462.5 L605,462.5 L606,462.5 L607,462.5 L608,462.6 L609,462.6 L610,462.6 L611,462.6 L612,462.6 L613,462.6 L614,462.6 L615,462.6 L616,462.6 L617,462.6 L618,462.6 L619,462.6 L620,462.6 L621,462.6 L622,462.6 L623,462.6 L624,462.6 L625,462.6 L626,462.6 L627,462.6 L628,462.6 L629,462.6 L630,462.6 L631,462.6 L632,462.6 L633,462.6 L634,462.6 L635,462.6 L636,462.6 L637,462.6 L638,462.6 L639,462.6 L640,462.6 L641,462.6 L642,462.6 L643,462.6" fill="none" stroke="#505050" stroke-linejoin="round"/></defs>
<use href="#p5" stroke-width="4" opacity="0.22"/>
<use href="#p5" stroke-width="2" opacity="1"/>
<line x1="369" y1="137.5" x2="405" y2="108.8" stroke="#333" stroke-width="1.4"/>
<polygon points="411.3,103.8 406.3,111.9 402.3,106.9" fill="#111"/>
<line x1="272.4" y1="338.1" x2="231.2" y2="310.5" stroke="#333" stroke-width="1.4"/>
<polygon points="224.5,306.1 233.8,308.4 230.2,313.8" fill="#111"/>
<line x1="437.6" y1="399.3" x2="476" y2="370" stroke="#333" stroke-width="1.4"/>
<polygon points="482.4,365.2 477.2,373.2 473.3,368.1" fill="#111"/>
<text transform="translate(423.3,107.6) scale(0.8,1)" x="0" y="0" font-size="23.51" fill="#444" textLength="113.0" lengthAdjust="spacing">C1s Scan B</text>
<text transform="translate(152.4,279.5) scale(0.8,1)" x="0" y="0" font-size="22.90" fill="#444" textLength="112.4" lengthAdjust="spacing">C1s Scan C</text>
<text transform="translate(491.9,367.6) scale(0.8,1)" x="0" y="0" font-size="21.37" fill="#444" textLength="115.4" lengthAdjust="spacing">C1s Scan A</text>
<text x="110" y="107" font-size="42" fill="#222" text-anchor="start" stroke="#222" stroke-width="0.7">a</text>
<text transform="translate(40.8,545.6) scale(0.82,1)" x="0" y="0" font-size="21.01" fill="#505050" textLength="35.9" lengthAdjust="spacing">278</text>
<text transform="translate(114.0,545.6) scale(0.82,1)" x="0" y="0" font-size="21.01" fill="#505050" textLength="35.9" lengthAdjust="spacing">280</text>
<text transform="translate(187.2,545.6) scale(0.82,1)" x="0" y="0" font-size="21.01" fill="#505050" textLength="35.9" lengthAdjust="spacing">282</text>
<text transform="translate(260.4,545.6) scale(0.82,1)" x="0" y="0" font-size="21.01" fill="#505050" textLength="35.9" lengthAdjust="spacing">284</text>
<text transform="translate(333.6,545.6) scale(0.82,1)" x="0" y="0" font-size="21.01" fill="#505050" textLength="35.9" lengthAdjust="spacing">286</text>
<text transform="translate(406.7,545.6) scale(0.82,1)" x="0" y="0" font-size="21.01" fill="#505050" textLength="35.9" lengthAdjust="spacing">288</text>
<text transform="translate(479.9,545.6) scale(0.82,1)" x="0" y="0" font-size="21.01" fill="#505050" textLength="35.9" lengthAdjust="spacing">290</text>
<text transform="translate(553.1,545.6) scale(0.82,1)" x="0" y="0" font-size="21.01" fill="#505050" textLength="35.9" lengthAdjust="spacing">292</text>
<text transform="translate(626.3,545.6) scale(0.82,1)" x="0" y="0" font-size="21.01" fill="#505050" textLength="35.9" lengthAdjust="spacing">294</text>
<text transform="translate(256.3,581.8) scale(0.74,1)" x="0" y="0" font-size="26.7" font-weight="bold" fill="#5e5e5e" textLength="284.5" lengthAdjust="spacing">Binding energy(eV)</text>
<text transform="translate(35.8,348.0) rotate(-90) scale(0.8,1)" x="0" y="0" font-size="25.04" fill="#444" textLength="176.2" lengthAdjust="spacing">Intensity(a.u.)</text>
<rect x="55" y="26" width="623" height="1.9" fill="#686868"/>
<rect x="55" y="27.9" width="623" height="2.1" fill="#e6e6e6"/>
<rect x="55" y="512.1" width="623" height="2.7" fill="#cccccc"/>
<rect x="55" y="514.8" width="623" height="2.1" fill="#777777"/>
<rect x="55" y="26" width="3" height="491" fill="#5c5c5c"/>
<rect x="676" y="26" width="1.8" height="491" fill="#555555"/>
<rect x="54.5" y="515.9" width="2" height="10" fill="#666666"/>
<rect x="91.1" y="515.9" width="2" height="6" fill="#666666"/>
<rect x="127.7" y="515.9" width="2" height="10" fill="#666666"/>
<rect x="164.3" y="515.9" width="2" height="6" fill="#666666"/>
<rect x="200.9" y="515.9" width="2" height="10" fill="#666666"/>
<rect x="237.5" y="515.9" width="2" height="6" fill="#666666"/>
<rect x="274.1" y="515.9" width="2" height="10" fill="#666666"/>
<rect x="310.7" y="515.9" width="2" height="6" fill="#666666"/>
<rect x="347.2" y="515.9" width="2" height="10" fill="#666666"/>
<rect x="383.8" y="515.9" width="2" height="6" fill="#666666"/>
<rect x="420.4" y="515.9" width="2" height="10" fill="#666666"/>
<rect x="457" y="515.9" width="2" height="6" fill="#666666"/>
<rect x="493.6" y="515.9" width="2" height="10" fill="#666666"/>
<rect x="530.2" y="515.9" width="2" height="6" fill="#666666"/>
<rect x="566.8" y="515.9" width="2" height="10" fill="#666666"/>
<rect x="603.4" y="515.9" width="2" height="6" fill="#666666"/>
<rect x="640" y="515.9" width="2" height="10" fill="#666666"/>
<rect x="676.6" y="515.9" width="2" height="6" fill="#666666"/>
<polyline points="812.0,452.3 812.8,417.6 813.6,439.7 814.4,432.1 815.2,432.7 816.0,434.3 816.8,420.6 817.6,433.8 818.4,428.8 819.2,460.0 820.0,436.6 820.8,432.1 821.6,432.4 822.4,429.4 823.2,426.3 824.0,431.1 824.8,437.5 825.6,431.9 826.4,440.8 827.2,431.9 828.0,433.5 828.8,444.8 829.6,437.1 830.4,429.2 831.2,431.5 832.0,436.8 832.8,447.1 833.6,430.5 834.4,430.6 835.2,439.8 836.0,425.5 836.8,429.9 837.6,438.6 838.4,436.2 839.2,432.4 840.0,436.7 840.8,410.4 841.6,439.1 842.4,424.2 843.2,418.8 844.0,433.3 844.8,436.5 845.6,427.8 846.4,423.0 847.2,431.3 848.0,430.6 848.8,441.6 849.6,436.6 850.4,432.5 851.2,439.4 852.0,429.5 852.8,424.2 853.6,435.6 854.4,435.7 855.2,429.9 856.0,425.8 856.8,433.5 857.6,413.3 858.4,437.3 859.2,436.0 860.0,420.2 860.8,433.1 861.6,425.6 862.4,438.7 863.2,417.9 864.0,426.5 864.8,438.8 865.6,442.3 866.4,417.6 867.2,430.1 868.0,436.4 868.8,429.4 869.6,445.9 870.4,425.1 871.2,436.6 872.0,426.1 872.8,444.5 873.6,433.7 874.4,431.0 875.2,420.9 876.0,446.3 876.8,439.2 877.6,439.1 878.4,441.9 879.2,435.9 880.0,428.3 880.8,427.0 881.6,426.8 882.4,442.9 883.2,421.5 884.0,427.8 884.8,429.6 885.6,433.4 886.4,435.3 887.2,420.5 888.0,415.6 888.8,427.0 889.6,434.5 890.4,429.4 891.2,423.7 892.0,418.2 892.8,421.5 893.6,416.4 894.4,423.4 895.2,410.5 896.0,416.5 896.8,413.5 897.6,417.0 898.4,412.8 899.2,428.2 900.0,417.9 900.8,415.4 901.6,386.1 902.4,396.0 903.2,390.8 904.0,395.9 904.8,370.8 905.6,392.3 906.4,386.4 907.2,362.4 908.0,356.7 908.8,348.7 909.6,345.2 910.4,339.9 911.2,340.4 912.0,312.9 912.8,309.1 913.6,293.1 914.4,293.3 915.2,267.9 916.0,254.3 916.8,238.2 917.6,225.7 918.4,214.2 919.2,207.6 920.0,199.0 920.8,188.9 921.6,175.5 922.4,151.1 923.2,123.3 924.0,108.2 924.8,99.3 925.6,93.6 926.4,86.6 927.2,82.2 928.0,78.2 928.8,75.3 929.6,75.1 930.4,75.0 931.2,75.3 932.0,77.6 932.8,80.2 933.6,83.4 934.4,85.7 935.2,91.4 936.0,98.2 936.8,105.7 937.6,116.1 938.4,136.0 939.2,155.4 940.0,166.5 940.8,175.0 941.6,191.2 942.4,215.4 943.2,234.5 944.0,249.8 944.8,259.5 945.6,273.5 946.4,283.9 947.2,295.1 948.0,306.0 948.8,316.1 949.6,325.9 950.4,336.3 951.2,357.9 952.0,354.3 952.8,365.3 953.6,380.5 954.4,376.6 955.2,402.2 956.0,398.4 956.8,411.1 957.6,398.2 958.4,398.6 959.2,405.5 960.0,412.3 960.8,404.6 961.6,414.0 962.4,413.0 963.2,427.2 964.0,412.1 964.8,426.9 965.6,416.2 966.4,415.7 967.2,419.3 968.0,417.4 968.8,429.0 969.6,437.1 970.4,431.9 971.2,436.5 972.0,445.2 972.8,436.1 973.6,436.5 974.4,434.0 975.2,424.9 976.0,443.6 976.8,425.6 977.6,444.5 978.4,440.3 979.2,449.7 980.0,441.5 980.8,436.6 981.6,446.2 982.4,440.1 983.2,443.8 984.0,446.2 984.8,445.6 985.6,445.9 986.4,441.7 987.2,447.1 988.0,433.0 988.8,448.3 989.6,440.9 990.4,458.5 991.2,459.9 992.0,436.0 992.8,452.0 993.6,450.2 994.4,443.5 995.2,455.6 996.0,448.3 996.8,438.7 997.6,450.2 998.4,451.3 999.2,453.3 1000.0,443.5 1000.8,457.5 1001.6,458.5 1002.4,444.6 1003.2,448.3 1004.0,452.8 1004.8,449.3 1005.6,466.7 1006.4,455.3 1007.2,446.2 1008.0,447.9 1008.8,453.5 1009.6,471.2 1010.4,452.7 1011.2,455.0 1012.0,458.0 1012.8,453.9 1013.6,471.3 1014.4,450.3 1015.2,459.9 1016.0,455.5 1016.8,459.0 1017.6,445.6 1018.4,467.7 1019.2,453.6 1020.0,454.8 1020.8,447.5 1021.6,449.1 1022.4,458.9 1023.2,462.1 1024.0,460.3 1024.8,463.8 1025.6,460.1 1026.4,455.0 1027.2,461.1 1028.0,459.3 1028.8,454.1 1029.6,460.3 1030.4,464.5 1031.2,456.7 1032.0,452.2 1032.8,460.3 1033.6,469.2 1034.4,453.4 1035.2,454.3 1036.0,454.0 1036.8,464.2 1037.6,441.2 1038.4,457.7 1039.2,463.9 1040.0,448.9 1040.8,466.2 1041.6,459.0 1042.4,450.9 1043.2,456.5 1044.0,443.5 1044.8,450.7 1045.6,468.6 1046.4,448.2 1047.2,468.7 1048.0,454.3 1048.8,462.3 1049.6,455.2 1050.4,438.0 1051.2,450.5 1052.0,456.2 1052.8,446.1 1053.6,444.6 1054.4,457.4 1055.2,449.8 1056.0,441.9 1056.8,449.5 1057.6,461.0 1058.4,451.0 1059.2,461.5 1060.0,465.9 1060.8,454.7 1061.6,445.9 1062.4,444.6 1063.2,454.1 1064.0,460.9 1064.8,456.3 1065.6,458.3 1066.4,450.8 1067.2,456.4 1068.0,450.6 1068.8,451.6 1069.6,444.3 1070.4,442.2 1071.2,450.3 1072.0,445.6 1072.8,446.7 1073.6,458.9 1074.4,453.0 1075.2,475.6 1076.0,460.6 1076.8,448.9 1077.6,459.4 1078.4,456.2 1079.2,448.4 1080.0,461.7 1080.8,447.6 1081.6,430.4 1082.4,459.2 1083.2,448.6 1084.0,464.3 1084.8,448.2 1085.6,444.2 1086.4,464.6 1087.2,444.9 1088.0,454.4 1088.8,463.7 1089.6,453.6 1090.4,452.1 1091.2,453.4 1092.0,458.9 1092.8,446.5 1093.6,457.1 1094.4,456.7 1095.2,469.9 1096.0,449.8 1096.8,445.4 1097.6,457.7 1098.4,449.1 1099.2,454.2 1100.0,453.0 1100.8,460.7 1101.6,447.0 1102.4,451.1 1103.2,432.6 1104.0,445.0 1104.8,463.2 1105.6,446.5 1106.4,446.2 1107.2,442.3 1108.0,455.7 1108.8,452.6 1109.6,442.3 1110.4,456.2 1111.2,453.0 1112.0,456.7 1112.8,446.1 1113.6,463.9 1114.4,453.9 1115.2,449.9 1116.0,446.8 1116.8,448.8 1117.6,457.0 1118.4,448.4 1119.2,458.5 1120.0,454.7 1120.8,460.3 1121.6,456.3 1122.4,449.6 1123.2,435.7 1124.0,452.2 1124.8,455.8 1125.6,451.0 1126.4,453.9 1127.2,446.1 1128.0,446.7 1128.8,442.5 1129.6,459.7 1130.4,450.6 1131.2,445.6 1132.0,439.3 1132.8,448.0 1133.6,459.9 1134.4,452.5 1135.2,443.6 1136.0,459.6 1136.8,459.6 1137.6,456.2 1138.4,454.7 1139.2,457.3 1140.0,452.7 1140.8,454.4 1141.6,442.6 1142.4,459.7 1143.2,450.1 1144.0,463.5 1144.8,433.0 1145.6,453.5 1146.4,455.5 1147.2,445.6 1148.0,451.5 1148.8,453.6 1149.6,452.3 1150.4,443.9 1151.2,446.8 1152.0,455.5 1152.8,457.4 1153.6,448.5 1154.4,448.3 1155.2,449.2 1156.0,455.5 1156.8,439.7 1157.6,437.6 1158.4,448.5 1159.2,439.2 1160.0,443.1 1160.8,448.1 1161.6,451.1 1162.4,439.4 1163.2,453.4 1164.0,434.0 1164.8,451.4 1165.6,435.4 1166.4,437.7 1167.2,452.0 1168.0,444.1 1168.8,441.2 1169.6,443.8 1170.4,450.6 1171.2,446.7 1172.0,446.8 1172.8,454.9 1173.6,441.6 1174.4,443.4 1175.2,443.0 1176.0,455.6 1176.8,454.3 1177.6,456.4 1178.4,446.5 1179.2,445.5 1180.0,453.1 1180.8,443.7 1181.6,452.8 1182.4,452.0 1183.2,441.2 1184.0,445.8 1184.8,445.5 1185.6,459.3 1186.4,465.7 1187.2,445.5 1188.0,446.3 1188.8,429.0 1189.6,447.6 1190.4,445.9 1191.2,437.9 1192.0,451.7 1192.8,434.0 1193.6,444.1 1194.4,446.6 1195.2,436.1 1196.0,451.7 1196.8,453.0 1197.6,434.6 1198.4,434.2 1199.2,449.1 1200.0,444.1 1200.8,435.1 1201.6,441.7 1202.4,442.9 1203.2,442.4 1204.0,449.5 1204.8,445.9 1205.6,456.1 1206.4,452.9 1207.2,447.5 1208.0,450.3 1208.8,452.0 1209.6,447.2 1210.4,432.5 1211.2,448.0 1212.0,442.0 1212.8,453.5 1213.6,442.0 1214.4,445.2 1215.2,443.7 1216.0,453.8 1216.8,442.5 1217.6,439.2 1218.4,443.5 1219.2,437.9 1220.0,442.4 1220.8,441.1 1221.6,443.2 1222.4,455.6 1223.2,438.2 1224.0,441.5 1224.8,439.7 1225.6,446.2 1226.4,432.3 1227.2,436.0 1228.0,440.9 1228.8,445.3 1229.6,440.9 1230.4,437.4 1231.2,434.7 1232.0,445.0 1232.8,452.0 1233.6,443.6 1234.4,442.6 1235.2,444.5 1236.0,434.1 1236.8,438.9 1237.6,439.2 1238.4,443.4 1239.2,441.0 1240.0,432.1 1240.8,449.6 1241.6,453.9 1242.4,439.2 1243.2,444.2 1244.0,443.2 1244.8,447.1 1245.6,430.1 1246.4,453.3 1247.2,437.7 1248.0,450.7 1248.8,441.8 1249.6,438.3 1250.4,440.1 1251.2,447.9 1252.0,434.7 1252.8,438.4 1253.6,437.6 1254.4,428.3 1255.2,451.0 1256.0,445.5 1256.8,441.0 1257.6,449.9 1258.4,434.0 1259.2,440.6 1260.0,454.1 1260.8,448.5 1261.6,424.5 1262.4,416.2 1263.2,433.4 1264.0,449.1 1264.8,437.6 1265.6,439.5 1266.4,445.7 1267.2,434.5 1268.0,442.7 1268.8,447.0 1269.6,444.6 1270.4,444.0 1271.2,436.5 1272.0,444.8 1272.8,437.7 1273.6,450.7 1274.4,460.1 1275.2,435.2 1276.0,424.4 1276.8,437.5 1277.6,443.5 1278.4,448.5 1279.2,448.6 1280.0,434.6 1280.8,434.4 1281.6,449.8 1282.4,432.1 1283.2,448.4 1284.0,438.4 1284.8,445.8 1285.6,445.2 1286.4,445.6 1287.2,445.7 1288.0,431.9 1288.8,441.2 1289.6,438.7 1290.4,440.5 1291.2,447.0 1292.0,435.3 1292.8,431.5 1293.6,430.8 1294.4,433.4 1295.2,440.9 1296.0,428.5 1296.8,442.8 1297.6,435.5 1298.4,430.6 1299.2,421.4 1300.0,432.3 1300.8,435.0 1301.6,416.2 1302.4,438.0 1303.2,441.2 1304.0,431.2 1304.8,432.2 1305.6,446.4 1306.4,437.3 1307.2,421.0 1308.0,427.2 1308.8,425.5 1309.6,424.7 1310.4,407.0 1311.2,429.1 1312.0,417.1 1312.8,421.4 1313.6,416.3 1314.4,419.9 1315.2,407.2 1316.0,400.5 1316.8,408.6 1317.6,413.8 1318.4,399.7 1319.2,411.1 1320.0,401.3 1320.8,396.5 1321.6,396.1 1322.4,387.4 1323.2,384.5 1324.0,376.9 1324.8,374.3 1325.6,368.5 1326.4,364.5 1327.2,357.1 1328.0,339.5 1328.8,324.7 1329.6,314.2 1330.4,306.8 1331.2,296.6 1332.0,291.1 1332.8,288.1 1333.6,283.2 1334.4,279.9 1335.2,277.8 1336.0,275.5 1336.8,273.9 1337.6,275.9 1338.4,274.3 1339.2,274.1 1340.0,272.0 1340.8,271.4 1341.6,271.4 1342.4,275.5 1343.2,276.0 1344.0,281.6 1344.8,286.7 1345.6,290.8 1346.4,292.4 1347.2,292.3 1348.0,297.3 1348.8,298.9 1349.6,305.5 1350.4,310.4 1351.2,321.0 1352.0,333.5 1352.8,339.3 1353.6,347.1 1354.4,348.6 1355.2,352.0 1356.0,358.4 1356.8,362.7 1357.6,363.1 1358.4,368.2 1359.2,370.1 1360.0,376.1 1360.8,381.7 1361.6,384.1 1362.4,387.1 1363.2,389.5 1364.0,395.7 1364.8,399.8 1365.6,406.4 1366.4,407.1 1367.2,398.6 1368.0,424.2 1368.8,413.3 1369.6,415.4 1370.4,424.6 1371.2,405.3 1372.0,423.0 1372.8,424.0 1373.6,429.0 1374.4,437.3 1375.2,431.7 1376.0,415.2 1376.8,427.2 1377.6,432.0 1378.4,432.2 1379.2,422.1 1380.0,419.9 1380.8,437.1 1381.6,436.2 1382.4,434.2 1383.2,422.1 1384.0,449.0 1384.8,414.5 1385.6,434.2 1386.4,453.2 1387.2,436.9 1388.0,440.5 1388.8,430.5 1389.6,450.1 1390.4,430.8 1391.2,443.1 1392.0,442.9 1392.8,434.7 1393.6,450.1 1394.4,433.6 1395.2,440.0 1396.0,445.6 1396.8,443.5 1397.6,450.6 1398.4,454.5 1399.2,445.7 1400.0,443.9 1400.8,444.1 1401.6,445.2 1402.4,453.9 1403.2,446.0 1404.0,450.5 1404.8,446.6 1405.6,440.8 1406.4,453.4 1407.2,438.9 1408.0,446.6 1408.8,457.5 1409.6,438.0 1410.4,445.7 1411.2,434.1 1412.0,442.2 1412.8,434.8 1413.6,443.3 1414.4,442.0 1415.2,447.0 1416.0,457.9 1416.8,448.1 1417.6,450.9 1418.4,445.6 1419.2,444.2 1420.0,439.7 1420.8,432.5 1421.6,446.5 1422.4,458.2 1423.2,449.6 1424.0,442.0 1424.8,458.4 1425.6,442.8 1426.4,441.4 1427.2,436.9 1428.0,438.8 1428.8,444.2 1429.6,461.0 1430.4,444.5 1431.2,438.3 1432.0,441.5 1432.8,444.3 1433.6,433.2" fill="none" stroke="#555" stroke-width="1.5" stroke-linejoin="miter" opacity="1.0"/>
<defs><path id="p6" d="M812,448 L813,448.1 L814,448.1 L815,448.2 L816,448.2 L817,448.3 L818,448.3 L819,448.4 L820,448.4 L821,448.5 L822,448.5 L823,448.6 L824,448.7 L825,448.7 L826,448.8 L827,448.8 L828,448.9 L829,448.9 L830,449 L831,449 L832,449.1 L833,449.1 L834,449.2 L835,449.2 L836,449.3 L837,449.3 L838,449.4 L839,449.4 L840,449.5 L841,449.5 L842,449.6 L843,449.6 L844,449.7 L845,449.7 L846,449.8 L847,449.8 L848,449.8 L849,449.9 L850,449.9 L851,450 L852,450 L853,450.1 L854,450.1 L855,450.2 L856,450.2 L857,450.2 L858,450.3 L859,450.3 L860,450.4 L861,450.4 L862,450.5 L863,450.5 L864,450.6 L865,450.6 L866,450.6 L867,450.7 L868,450.7 L869,450.8 L870,450.8 L871,450.8 L872,450.9 L873,450.9 L874,451 L875,451 L876,451 L877,451.1 L878,451.1 L879,451.1 L880,451.2 L881,451.2 L882,451.2 L883,451.3 L884,451.3 L885,451.3 L886,451.4 L887,451.4 L888,451.4 L889,451.5 L890,451.5 L891,451.5 L892,451.5 L893,451.6 L894,451.6 L895,451.6 L896,451.7 L897,451.7 L898,451.8 L899,451.8 L900,451.8 L901,451.9 L902,451.9 L903,452 L904,452 L905,452.1 L906,452.1 L907,452.2 L908,452.3 L909,452.3 L910,452.4 L911,452.5 L912,452.6 L913,452.7 L914,452.8 L915,452.9 L916,453 L917,453.1 L918,453.2 L919,453.3 L920,453.4 L921,453.5 L922,453.6 L923,453.7 L924,453.8 L925,453.9 L926,454 L927,454.1 L928,454.2 L929,454.2 L930,454.3 L931,454.4 L932,454.5 L933,454.6 L934,454.7 L935,454.7 L936,454.8 L937,454.9 L938,455 L939,455 L940,455.1 L941,455.2 L942,455.3 L943,455.3 L944,455.4 L945,455.5 L946,455.6 L947,455.6 L948,455.7 L949,455.8 L950,455.8 L951,455.9 L952,456 L953,456 L954,456.1 L955,456.2 L956,456.2 L957,456.3 L958,456.4 L959,456.4 L960,456.5 L961,456.6 L962,456.6 L963,456.7 L964,456.8 L965,456.8 L966,456.9 L967,456.9 L968,457 L969,457.1 L970,457.1 L971,457.2 L972,457.2 L973,457.3 L974,457.4 L975,457.4 L976,457.5 L977,457.5 L978,457.6 L979,457.7 L980,457.7 L981,457.8 L982,457.8 L983,457.9 L984,458 L985,458 L986,458.1 L987,458.2 L988,458.2 L989,458.3 L990,458.4 L991,458.5 L992,458.5 L993,458.6 L994,458.7 L995,458.8 L996,458.9 L997,458.9 L998,459 L999,459.1 L1000,459.2 L1001,459.3 L1002,459.4 L1003,459.5 L1004,459.5 L1005,459.6 L1006,459.7 L1007,459.8 L1008,459.9 L1009,460 L1010,460.1 L1011,460.1 L1012,460.2 L1013,460.3 L1014,460.4 L1015,460.5 L1016,460.5 L1017,460.6 L1018,460.7 L1019,460.8 L1020,460.8 L1021,460.9 L1022,461 L1023,461 L1024,461.1 L1025,461.2 L1026,461.2 L1027,461.3 L1028,461.3 L1029,461.4 L1030,461.4 L1031,461.4 L1032,461.5 L1033,461.5 L1034,461.5 L1035,461.6 L1036,461.6 L1037,461.6 L1038,461.6 L1039,461.6 L1040,461.6 L1041,461.7 L1042,461.7 L1043,461.7 L1044,461.7 L1045,461.7 L1046,461.7 L1047,461.7 L1048,461.8 L1049,461.8 L1050,461.8 L1051,461.8 L1052,461.8 L1053,461.8 L1054,461.8 L1055,461.8 L1056,461.9 L1057,461.9 L1058,461.9 L1059,461.9 L1060,461.9 L1061,461.9 L1062,461.9 L1063,461.9 L1064,461.9 L1065,462 L1066,462 L1067,462 L1068,462 L1069,462 L1070,462 L1071,462 L1072,462 L1073,462 L1074,462 L1075,462 L1076,462.1 L1077,462.1 L1078,462.1 L1079,462.1 L1080,462.1 L1081,462.1 L1082,462.1 L1083,462.1 L1084,462.1 L1085,462.1 L1086,462.1 L1087,462.1 L1088,462.2 L1089,462.2 L1090,462.2 L1091,462.2 L1092,462.2 L1093,462.2 L1094,462.2 L1095,462.2 L1096,462.2 L1097,462.2 L1098,462.2 L1099,462.2 L1100,462.2 L1101,462.2 L1102,462.2 L1103,462.2 L1104,462.2 L1105,462.2 L1106,462.3 L1107,462.3 L1108,462.3 L1109,462.3 L1110,462.3 L1111,462.3 L1112,462.3 L1113,462.3 L1114,462.3 L1115,462.3 L1116,462.3 L1117,462.3 L1118,462.3 L1119,462.3 L1120,462.3 L1121,462.3 L1122,462.3 L1123,462.3 L1124,462.3 L1125,462.3 L1126,462.3 L1127,462.3 L1128,462.3 L1129,462.3 L1130,462.3 L1131,462.3 L1132,462.3 L1133,462.3 L1134,462.3 L1135,462.3 L1136,462.3 L1137,462.3 L1138,462.3 L1139,462.3 L1140,462.3 L1141,462.3 L1142,462.3 L1143,462.3 L1144,462.3 L1145,462.3 L1146,462.3 L1147,462.3 L1148,462.3 L1149,462.3 L1150,462.3 L1151,462.3 L1152,462.3 L1153,462.3 L1154,462.3 L1155,462.3 L1156,462.3 L1157,462.3 L1158,462.3 L1159,462.3 L1160,462.3 L1161,462.3 L1162,462.3 L1163,462.3 L1164,462.3 L1165,462.3 L1166,462.3 L1167,462.3 L1168,462.3 L1169,462.3 L1170,462.3 L1171,462.3 L1172,462.3 L1173,462.3 L1174,462.3 L1175,462.3 L1176,462.3 L1177,462.3 L1178,462.3 L1179,462.3 L1180,462.3 L1181,462.3 L1182,462.3 L1183,462.3 L1184,462.3 L1185,462.3 L1186,462.3 L1187,462.3 L1188,462.3 L1189,462.3 L1190,462.3 L1191,462.3 L1192,462.3 L1193,462.3 L1194,462.3 L1195,462.3 L1196,462.3 L1197,462.3 L1198,462.3 L1199,462.3 L1200,462.3 L1201,462.3 L1202,462.3 L1203,462.3 L1204,462.3 L1205,462.3 L1206,462.3 L1207,462.3 L1208,462.3 L1209,462.3 L1210,462.3 L1211,462.3 L1212,462.3 L1213,462.3 L1214,462.3 L1215,462.3 L1216,462.3 L1217,462.3 L1218,462.3 L1219,462.3 L1220,462.3 L1221,462.3 L1222,462.3 L1223,462.3 L1224,462.3 L1225,462.3 L1226,462.3 L1227,462.3 L1228,462.3 L1229,462.3 L1230,462.3 L1231,462.3 L1232,462.3 L1233,462.3 L1234,462.3 L1235,462.3 L1236,462.3 L1237,462.3 L1238,462.3 L1239,462.3 L1240,462.3 L1241,462.3 L1242,462.3 L1243,462.3 L1244,462.3 L1245,462.3 L1246,462.3 L1247,462.3 L1248,462.3 L1249,462.3 L1250,462.3 L1251,462.3 L1252,462.3 L1253,462.3 L1254,462.3 L1255,462.3 L1256,462.3 L1257,462.3 L1258,462.3 L1259,462.3 L1260,462.3 L1261,462.3 L1262,462.3 L1263,462.3 L1264,462.3 L1265,462.3 L1266,462.3 L1267,462.3 L1268,462.3 L1269,462.3 L1270,462.3 L1271,462.3 L1272,462.3 L1273,462.3 L1274,462.3 L1275,462.3 L1276,462.3 L1277,462.3 L1278,462.3 L1279,462.3 L1280,462.3 L1281,462.3 L1282,462.3 L1283,462.3 L1284,462.3 L1285,462.3 L1286,462.3 L1287,462.3 L1288,462.3 L1289,462.3 L1290,462.3 L1291,462.3 L1292,462.3 L1293,462.3 L1294,462.3 L1295,462.3 L1296,462.3 L1297,462.3 L1298,462.3 L1299,462.3 L1300,462.3 L1301,462.3 L1302,462.3 L1303,462.3 L1304,462.3 L1305,462.3 L1306,462.3 L1307,462.3 L1308,462.3 L1309,462.3 L1310,462.3 L1311,462.3 L1312,462.3 L1313,462.3 L1314,462.3 L1315,462.3 L1316,462.3 L1317,462.3 L1318,462.3 L1319,462.3 L1320,462.3 L1321,462.3 L1322,462.3 L1323,462.3 L1324,462.3 L1325,462.3 L1326,462.3 L1327,462.3 L1328,462.3 L1329,462.3 L1330,462.3 L1331,462.3 L1332,462.3 L1333,462.3 L1334,462.3 L1335,462.3 L1336,462.3 L1337,462.3 L1338,462.3 L1339,462.3 L1340,462.3 L1341,462.3 L1342,462.3 L1343,462.3 L1344,462.3 L1345,462.3 L1346,462.3 L1347,462.3 L1348,462.3 L1349,462.3 L1350,462.3 L1351,462.3 L1352,462.3 L1353,462.3 L1354,462.3 L1355,462.3 L1356,462.3 L1357,462.3 L1358,462.3 L1359,462.3 L1360,462.3 L1361,462.3 L1362,462.3 L1363,462.3 L1364,462.3 L1365,462.3 L1366,462.3 L1367,462.3 L1368,462.3 L1369,462.3 L1370,462.3 L1371,462.3 L1372,462.3 L1373,462.3 L1374,462.3 L1375,462.3 L1376,462.3 L1377,462.3 L1378,462.3 L1379,462.3 L1380,462.3 L1381,462.3 L1382,462.3 L1383,462.3 L1384,462.3 L1385,462.3 L1386,462.3 L1387,462.3 L1388,462.3 L1389,462.3 L1390,462.3 L1391,462.3 L1392,462.3 L1393,462.3 L1394,462.3 L1395,462.3 L1396,462.3 L1397,462.3 L1398,462.3 L1399,462.3 L1400,462.3 L1401,462.3 L1402,462.3 L1403,462.3 L1404,462.3 L1405,462.3 L1406,462.3 L1407,462.3 L1408,462.3 L1409,462.3 L1410,462.3 L1411,462.3 L1412,462.3 L1413,462.3 L1414,462.3 L1415,462.3 L1416,462.3 L1417,462.3 L1418,462.3 L1419,462.3 L1420,462.3 L1421,462.3 L1422,462.3 L1423,462.3 L1424,462.3 L1425,462.3 L1426,462.3 L1427,462.3 L1428,462.3 L1429,462.3 L1430,462.3 L1431,462.3 L1432,462.3 L1433,462.3 L1434,462.3" fill="none" stroke="#ee5555" stroke-linejoin="round"/></defs>
<use href="#p6" stroke-width="3.6" opacity="0.22"/>
<use href="#p6" stroke-width="1.6" opacity="1"/>
<line x1="939.1" y1="144.4" x2="972" y2="118.4" stroke="#333" stroke-width="1.4"/>
<polygon points="978.3,113.4 973.2,121.5 969.3,116.5" fill="#111"/>
<line x1="1330" y1="317.5" x2="1296.9" y2="276.4" stroke="#333" stroke-width="1.4"/>
<polygon points="1291.9,270.2 1300,275.2 1295.1,279.2" fill="#111"/>
<text transform="translate(984.8,105.3) scale(0.8,1)" x="0" y="0" font-size="21.83" fill="#444" textLength="102.0" lengthAdjust="spacing">Zn 2p 3/2</text>
<text transform="translate(1222.5,254.0) scale(0.8,1)" x="0" y="0" font-size="23.66" fill="#444" textLength="104.0" lengthAdjust="spacing">Zn 2p 1/2</text>
<text x="873.5" y="115.9" font-size="42" fill="#222" text-anchor="start" stroke="#222" stroke-width="0.7">b</text>
<text transform="translate(791.1,545.7) scale(0.82,1)" x="0" y="0" font-size="20.86" fill="#505050" textLength="48.5" lengthAdjust="spacing">1015</text>
<text transform="translate(880.3,545.7) scale(0.82,1)" x="0" y="0" font-size="20.86" fill="#505050" textLength="48.5" lengthAdjust="spacing">1020</text>
<text transform="translate(969.5,545.7) scale(0.82,1)" x="0" y="0" font-size="20.86" fill="#505050" textLength="48.5" lengthAdjust="spacing">1025</text>
<text transform="translate(1058.7,545.7) scale(0.82,1)" x="0" y="0" font-size="20.86" fill="#505050" textLength="48.5" lengthAdjust="spacing">1030</text>
<text transform="translate(1147.9,545.7) scale(0.82,1)" x="0" y="0" font-size="20.86" fill="#505050" textLength="48.5" lengthAdjust="spacing">1035</text>
<text transform="translate(1237.1,545.7) scale(0.82,1)" x="0" y="0" font-size="20.86" fill="#505050" textLength="48.5" lengthAdjust="spacing">1040</text>
<text transform="translate(1326.3,545.7) scale(0.82,1)" x="0" y="0" font-size="20.86" fill="#505050" textLength="48.5" lengthAdjust="spacing">1045</text>
<text transform="translate(1415.5,545.7) scale(0.82,1)" x="0" y="0" font-size="20.86" fill="#505050" textLength="48.5" lengthAdjust="spacing">1050</text>
<text transform="translate(1016.1,587.4) scale(0.74,1)" x="0" y="0" font-size="27.9" font-weight="bold" fill="#5e5e5e" textLength="285.9" lengthAdjust="spacing">Binding energy(eV)</text>
<text transform="translate(785.8,333.0) rotate(-90) scale(0.8,1)" x="0" y="0" font-size="26.56" fill="#444" textLength="175.7" lengthAdjust="spacing">Intensity(a.u.)</text>
<rect x="810" y="26.1" width="627" height="1.8" fill="#707070"/>
<rect x="810" y="27.9" width="627" height="1.3" fill="#e8e8e8"/>
<rect x="810" y="512.1" width="627" height="2.5" fill="#cccccc"/>
<rect x="810" y="514.6" width="627" height="2.2" fill="#777777"/>
<rect x="810.1" y="26" width="1.8" height="491" fill="#777777"/>
<rect x="811.9" y="26" width="1.9" height="491" fill="#d0d0d0"/>
<rect x="1432.1" y="26" width="2.7" height="491" fill="#d4d4d4"/>
<rect x="1434.8" y="26" width="2.1" height="491" fill="#777777"/>
<rect x="810" y="515.8" width="2" height="10" fill="#666666"/>
<rect x="854.6" y="515.8" width="2" height="6" fill="#666666"/>
<rect x="899.2" y="515.8" width="2" height="10" fill="#666666"/>
<rect x="943.8" y="515.8" width="2" height="6" fill="#666666"/>
<rect x="988.4" y="515.8" width="2" height="10" fill="#666666"/>
<rect x="1033" y="515.8" width="2" height="6" fill="#666666"/>
<rect x="1077.6" y="515.8" width="2" height="10" fill="#666666"/>
<rect x="1122.2" y="515.8" width="2" height="6" fill="#666666"/>
<rect x="1166.8" y="515.8" width="2" height="10" fill="#666666"/>
<rect x="1211.4" y="515.8" width="2" height="6" fill="#666666"/>
<rect x="1256" y="515.8" width="2" height="10" fill="#666666"/>
<rect x="1300.6" y="515.8" width="2" height="6" fill="#666666"/>
<rect x="1345.2" y="515.8" width="2" height="10" fill="#666666"/>
<rect x="1389.8" y="515.8" width="2" height="6" fill="#666666"/>
<rect x="1434.4" y="515.8" width="2" height="10" fill="#666666"/>
<defs><path id="p7" d="M92,1119 L93,1119 L94,1119 L95,1119 L96,1118.9 L97,1118.9 L98,1118.9 L99,1118.9 L100,1118.9 L101,1118.9 L102,1118.8 L103,1118.8 L104,1118.8 L105,1118.8 L106,1118.8 L107,1118.8 L108,1118.7 L109,1118.7 L110,1118.7 L111,1118.7 L112,1118.7 L113,1118.7 L114,1118.6 L115,1118.6 L116,1118.6 L117,1118.6 L118,1118.6 L119,1118.6 L120,1118.5 L121,1118.5 L122,1118.5 L123,1118.5 L124,1118.5 L125,1118.5 L126,1118.4 L127,1118.4 L128,1118.4 L129,1118.4 L130,1118.4 L131,1118.4 L132,1118.4 L133,1118.3 L134,1118.3 L135,1118.3 L136,1118.3 L137,1118.3 L138,1118.3 L139,1118.2 L140,1118.2 L141,1118.2 L142,1118.2 L143,1118.2 L144,1118.2 L145,1118.1 L146,1118.1 L147,1118.1 L148,1118.1 L149,1118.1 L150,1118.1 L151,1118 L152,1118 L153,1118 L154,1118 L155,1118 L156,1118 L157,1117.9 L158,1117.9 L159,1117.9 L160,1117.9 L161,1117.9 L162,1117.9 L163,1117.9 L164,1117.8 L165,1117.8 L166,1117.8 L167,1117.8 L168,1117.8 L169,1117.8 L170,1117.7 L171,1117.7 L172,1117.7 L173,1117.7 L174,1117.7 L175,1117.7 L176,1117.6 L177,1117.6 L178,1117.6 L179,1117.6 L180,1117.6 L181,1117.6 L182,1117.5 L183,1117.5 L184,1117.5 L185,1117.5 L186,1117.5 L187,1117.5 L188,1117.4 L189,1117.4 L190,1117.4 L191,1117.4 L192,1117.4 L193,1117.4 L194,1117.3 L195,1117.3 L196,1117.3 L197,1117.3 L198,1117.3 L199,1117.3 L200,1117.3 L201,1117.2 L202,1117.2 L203,1117.2 L204,1117.2 L205,1117.2 L206,1117.2 L207,1117.1 L208,1117.1 L209,1117.1 L210,1117.1 L211,1117.1 L212,1117.1 L213,1117 L214,1117 L215,1117 L216,1117 L217,1117 L218,1117 L219,1116.9 L220,1116.9 L221,1116.9 L222,1116.9 L223,1116.9 L224,1116.9 L225,1116.8 L226,1116.8 L227,1116.8 L228,1116.8 L229,1116.8 L230,1116.8 L231,1116.8 L232,1116.7 L233,1116.7 L234,1116.7 L235,1116.7 L236,1116.7 L237,1116.7 L238,1116.6 L239,1116.6 L240,1116.6 L241,1116.6 L242,1116.6 L243,1116.6 L244,1116.5 L245,1116.5 L246,1116.5 L247,1116.5 L248,1116.5 L249,1116.5 L250,1116.4 L251,1116.4 L252,1116.4 L253,1116.4 L254,1116.4 L255,1116.4 L256,1116.3 L257,1116.3 L258,1116.3 L259,1116.3 L260,1116.3 L261,1116.3 L262,1116.2 L263,1116.2 L264,1116.2 L265,1116.2 L266,1116.2 L267,1116.2 L268,1116.2 L269,1116.1 L270,1116.1 L271,1116.1 L272,1116.1 L273,1116.1 L274,1116.1 L275,1116 L276,1116 L277,1116 L278,1116 L279,1116 L280,1116 L281,1115.9 L282,1115.9 L283,1115.9 L284,1115.9 L285,1115.9 L286,1115.9 L287,1115.8 L288,1115.8 L289,1115.8 L290,1115.8 L291,1115.8 L292,1115.8 L293,1115.7 L294,1115.7 L295,1115.7 L296,1115.7 L297,1115.7 L298,1115.7 L299,1115.6 L300,1115.6 L301,1115.6 L302,1115.6 L303,1115.6 L304,1115.6 L305,1115.6 L306,1115.5 L307,1115.5 L308,1115.5 L309,1115.5 L310,1115.5 L311,1115.5 L312,1115.4 L313,1115.4 L314,1115.4 L315,1115.4 L316,1115.4 L317,1115.4 L318,1115.3 L319,1115.3 L320,1115.3 L321,1115.3 L322,1115.3 L323,1115.3 L324,1115.2 L325,1115.2 L326,1115.2 L327,1115.2 L328,1115.2 L329,1115.2 L330,1115.1 L331,1115.1 L332,1115.1 L333,1115.1 L334,1115.1 L335,1115.1 L336,1115.1 L337,1115 L338,1115 L339,1115 L340,1115 L341,1115 L342,1115 L343,1114.9 L344,1114.9 L345,1114.9 L346,1114.9 L347,1114.9 L348,1114.9 L349,1114.8 L350,1114.8 L351,1114.8 L352,1114.8 L353,1114.8 L354,1114.8 L355,1114.7 L356,1114.7 L357,1114.7 L358,1114.7 L359,1114.7 L360,1114.7 L361,1114.6 L362,1114.6 L363,1114.6 L364,1114.6 L365,1114.6 L366,1114.6 L367,1114.5 L368,1114.5 L369,1114.5 L370,1114.5 L371,1114.5 L372,1114.5 L373,1114.5 L374,1114.4 L375,1114.4 L376,1114.4 L377,1114.4 L378,1114.4 L379,1114.4 L380,1114.3 L381,1114.3 L382,1114.3 L383,1114.3 L384,1114.3 L385,1114.3 L386,1114.2 L387,1114.2 L388,1114.2 L389,1114.2 L390,1114.2 L391,1114.2 L392,1114.1 L393,1114.1 L394,1114.1 L395,1114.1 L396,1114.1 L397,1114.1 L398,1114 L399,1114 L400,1114 L401,1114 L402,1114 L403,1114 L404,1113.9 L405,1113.9 L406,1113.9 L407,1113.9 L408,1113.9 L409,1113.9 L410,1113.9 L411,1113.8 L412,1113.8 L413,1113.8 L414,1113.8 L415,1113.8 L416,1113.8 L417,1113.7 L418,1113.7 L419,1113.7 L420,1113.7 L421,1113.7 L422,1113.7 L423,1113.6 L424,1113.6 L425,1113.6 L426,1113.6 L427,1113.6 L428,1113.6 L429,1113.5 L430,1113.5 L431,1113.5 L432,1113.5 L433,1113.5 L434,1113.5 L435,1113.4 L436,1113.4 L437,1113.4 L438,1113.4 L439,1113.4 L440,1113.4 L441,1113.4 L442,1113.3 L443,1113.3 L444,1113.3 L445,1113.3 L446,1113.3 L447,1113.3 L448,1113.2 L449,1113.2 L450,1113.2 L451,1113.2 L452,1113.2 L453,1113.2 L454,1113.1 L455,1113.1 L456,1113.1 L457,1113.1 L458,1113.1 L459,1113.1 L460,1113 L461,1113 L462,1113 L463,1113 L464,1113 L465,1113 L466,1112.9 L467,1112.9 L468,1112.9 L469,1112.9 L470,1112.9 L471,1112.9 L472,1112.8 L473,1112.8 L474,1112.8 L475,1112.8 L476,1112.8 L477,1112.8 L478,1112.8 L479,1112.7 L480,1112.7 L481,1112.7 L482,1112.7 L483,1112.7 L484,1112.7 L485,1112.6 L486,1112.6 L487,1112.6 L488,1112.6 L489,1112.6 L490,1112.6 L491,1112.5 L492,1112.5 L493,1112.5 L494,1112.5 L495,1112.5 L496,1112.5 L497,1112.4 L498,1112.4 L499,1112.4 L500,1112.4 L501,1112.4 L502,1112.4 L503,1112.3 L504,1112.3 L505,1112.3 L506,1112.3 L507,1112.3 L508,1112.3 L509,1112.2 L510,1112.2 L511,1112.2 L512,1112.2 L513,1112.2 L514,1112.2 L515,1112.2 L516,1112.1 L517,1112.1 L518,1112.1 L519,1112.1 L520,1112.1 L521,1112.1 L522,1112 L523,1112 L524,1112 L525,1112 L526,1112 L527,1112 L528,1111.9 L529,1111.9 L530,1111.9 L531,1111.9 L532,1111.9 L533,1111.9 L534,1111.8 L535,1111.8 L536,1111.8 L537,1111.8 L538,1111.8 L539,1111.8 L540,1111.7 L541,1111.7 L542,1111.7 L543,1111.7 L544,1111.7 L545,1111.7 L546,1111.7 L547,1111.6 L548,1111.6 L549,1111.6 L550,1111.6 L551,1111.6 L552,1111.6 L553,1111.5 L554,1111.5 L555,1111.5 L556,1111.5 L557,1111.5 L558,1111.5 L559,1111.4 L560,1111.4 L561,1111.4 L562,1111.4 L563,1111.4 L564,1111.4 L565,1111.3 L566,1111.3 L567,1111.3 L568,1111.3 L569,1111.3 L570,1111.3 L571,1111.2 L572,1111.2 L573,1111.2 L574,1111.2 L575,1111.2 L576,1111.2 L577,1111.1 L578,1111.1 L579,1111.1 L580,1111.1 L581,1111.1 L582,1111.1 L583,1111.1 L584,1111 L585,1111 L586,1111 L587,1111 L588,1111 L589,1111 L590,1110.9 L591,1110.9 L592,1110.9 L593,1110.9 L594,1110.9 L595,1110.9 L596,1110.8 L597,1110.8 L598,1110.8 L599,1110.8 L600,1110.8 L601,1110.8 L602,1110.7 L603,1110.7 L604,1110.7 L605,1110.7 L606,1110.7 L607,1110.7 L608,1110.6 L609,1110.6 L610,1110.6 L611,1110.6 L612,1110.6 L613,1110.6 L614,1110.6 L615,1110.5 L616,1110.5 L617,1110.5 L618,1110.5 L619,1110.5 L620,1110.5 L621,1110.4 L622,1110.4 L623,1110.4 L624,1110.4 L625,1110.4 L626,1110.4 L627,1110.3 L628,1110.3 L629,1110.3 L630,1110.3 L631,1110.3 L632,1110.3 L633,1110.2 L634,1110.2 L635,1110.2 L636,1110.2 L637,1110.2 L638,1110.2 L639,1110.1 L640,1110.1 L641,1110.1 L642,1110.1 L643,1110.1 L644,1110.1 L645,1110 L646,1110 L647,1110 L648,1110" fill="none" stroke="#ee5555" stroke-linejoin="round"/></defs>
<use href="#p7" stroke-width="4" opacity="0.22"/>
<use href="#p7" stroke-width="2" opacity="1"/>
<defs><path id="p8" d="M92,1115.6 L93,1115.6 L94,1115.6 L95,1115.5 L96,1115.5 L97,1115.5 L98,1115.4 L99,1115.4 L100,1115.4 L101,1115.3 L102,1115.3 L103,1115.3 L104,1115.2 L105,1115.2 L106,1115.2 L107,1115.1 L108,1115.1 L109,1115.1 L110,1115 L111,1115 L112,1115 L113,1114.9 L114,1114.9 L115,1114.8 L116,1114.8 L117,1114.8 L118,1114.7 L119,1114.7 L120,1114.7 L121,1114.6 L122,1114.6 L123,1114.5 L124,1114.5 L125,1114.5 L126,1114.4 L127,1114.4 L128,1114.4 L129,1114.3 L130,1114.3 L131,1114.2 L132,1114.2 L133,1114.2 L134,1114.1 L135,1114.1 L136,1114 L137,1114 L138,1114 L139,1113.9 L140,1113.9 L141,1113.8 L142,1113.8 L143,1113.7 L144,1113.7 L145,1113.7 L146,1113.6 L147,1113.6 L148,1113.5 L149,1113.5 L150,1113.4 L151,1113.4 L152,1113.3 L153,1113.3 L154,1113.3 L155,1113.2 L156,1113.2 L157,1113.1 L158,1113.1 L159,1113 L160,1113 L161,1112.9 L162,1112.9 L163,1112.8 L164,1112.8 L165,1112.7 L166,1112.7 L167,1112.6 L168,1112.6 L169,1112.5 L170,1112.5 L171,1112.4 L172,1112.4 L173,1112.3 L174,1112.3 L175,1112.2 L176,1112.2 L177,1112.1 L178,1112.1 L179,1112 L180,1112 L181,1111.9 L182,1111.9 L183,1111.8 L184,1111.7 L185,1111.7 L186,1111.6 L187,1111.6 L188,1111.5 L189,1111.5 L190,1111.4 L191,1111.4 L192,1111.3 L193,1111.3 L194,1111.3 L195,1111.2 L196,1111.2 L197,1111.2 L198,1111.2 L199,1111.1 L200,1111.1 L201,1111.1 L202,1111.1 L203,1111.1 L204,1111.1 L205,1111 L206,1111 L207,1111 L208,1111 L209,1111 L210,1110.9 L211,1110.9 L212,1110.9 L213,1110.9 L214,1110.8 L215,1110.8 L216,1110.8 L217,1110.7 L218,1110.7 L219,1110.7 L220,1110.6 L221,1110.6 L222,1110.5 L223,1110.5 L224,1110.4 L225,1110.4 L226,1110.3 L227,1110.2 L228,1110.1 L229,1110.1 L230,1110 L231,1109.9 L232,1109.8 L233,1109.7 L234,1109.6 L235,1109.5 L236,1109.4 L237,1109.3 L238,1109.2 L239,1109.1 L240,1109 L241,1108.9 L242,1108.8 L243,1108.6 L244,1108.5 L245,1108.4 L246,1108.2 L247,1108.1 L248,1108 L249,1107.8 L250,1107.7 L251,1107.5 L252,1107.4 L253,1107.2 L254,1107 L255,1106.8 L256,1106.6 L257,1106.4 L258,1106.2 L259,1105.9 L260,1105.6 L261,1105.3 L262,1105 L263,1104.6 L264,1104.3 L265,1103.9 L266,1103.6 L267,1103.2 L268,1102.8 L269,1102.4 L270,1102 L271,1101.6 L272,1101.2 L273,1100.8 L274,1100.4 L275,1100 L276,1099.6 L277,1099.1 L278,1098.7 L279,1098.3 L280,1097.8 L281,1097.3 L282,1096.8 L283,1096.4 L284,1095.8 L285,1095.3 L286,1094.8 L287,1094.3 L288,1093.7 L289,1093.1 L290,1092.5 L291,1091.9 L292,1091.3 L293,1090.7 L294,1090.1 L295,1089.4 L296,1088.7 L297,1088 L298,1087.3 L299,1086.6 L300,1085.8 L301,1085.1 L302,1084.2 L303,1083.4 L304,1082.5 L305,1081.6 L306,1080.6 L307,1079.5 L308,1078.5 L309,1077.3 L310,1076.1 L311,1074.8 L312,1073.3 L313,1071.8 L314,1070.1 L315,1068.2 L316,1066.3 L317,1064.2 L318,1062.1 L319,1059.8 L320,1057.5 L321,1054.9 L322,1051.9 L323,1048.8 L324,1045.4 L325,1041.9 L326,1038.3 L327,1034.6 L328,1031 L329,1027.3 L330,1023.8 L331,1020.2 L332,1016.5 L333,1012.6 L334,1008.3 L335,1003.7 L336,998.5 L337,992.4 L338,985.5 L339,978.2 L340,970.8 L341,963.1 L342,955.1 L343,946.3 L344,936.7 L345,924.4 L346,911.1 L347,900.7 L348,893.5 L349,886.2 L350,878.5 L351,870.7 L352,862.7 L353,854.6 L354,845.7 L355,836.6 L356,828.2 L357,821.2 L358,815.2 L359,809.8 L360,805.5 L361,802.7 L362,800.3 L363,798.5 L364,797.8 L365,798.3 L366,799.5 L367,801.1 L368,803.1 L369,806.1 L370,810.8 L371,820 L372,831 L373,840.2 L374,848.4 L375,856.3 L376,864.2 L377,872.1 L378,879.9 L379,888.1 L380,897 L381,906.7 L382,916.7 L383,926.9 L384,937.7 L385,947.3 L386,954.5 L387,960.3 L388,965.9 L389,972.1 L390,979 L391,985.9 L392,992.3 L393,998 L394,1003.5 L395,1008.6 L396,1013.3 L397,1017.7 L398,1021.7 L399,1025.4 L400,1029 L401,1032.3 L402,1035.4 L403,1038.4 L404,1041.2 L405,1043.9 L406,1046.5 L407,1049 L408,1051.3 L409,1053.6 L410,1055.7 L411,1057.6 L412,1059.5 L413,1061.3 L414,1063 L415,1064.6 L416,1066.2 L417,1067.7 L418,1069.2 L419,1070.5 L420,1071.8 L421,1072.9 L422,1074 L423,1075 L424,1076 L425,1076.9 L426,1077.8 L427,1078.7 L428,1079.5 L429,1080.2 L430,1081 L431,1081.7 L432,1082.4 L433,1083 L434,1083.6 L435,1084.2 L436,1084.8 L437,1085.4 L438,1086 L439,1086.5 L440,1087 L441,1087.5 L442,1088 L443,1088.5 L444,1089 L445,1089.5 L446,1089.9 L447,1090.3 L448,1090.8 L449,1091.2 L450,1091.6 L451,1091.9 L452,1092.3 L453,1092.7 L454,1093 L455,1093.3 L456,1093.7 L457,1094 L458,1094.3 L459,1094.6 L460,1094.9 L461,1095.2 L462,1095.5 L463,1095.8 L464,1096.1 L465,1096.4 L466,1096.7 L467,1096.9 L468,1097.2 L469,1097.5 L470,1097.7 L471,1097.9 L472,1098.1 L473,1098.4 L474,1098.6 L475,1098.8 L476,1098.9 L477,1099.1 L478,1099.3 L479,1099.4 L480,1099.5 L481,1099.6 L482,1099.8 L483,1099.9 L484,1100 L485,1100.1 L486,1100.2 L487,1100.3 L488,1100.4 L489,1100.5 L490,1100.6 L491,1100.7 L492,1100.8 L493,1100.9 L494,1101 L495,1101.1 L496,1101.1 L497,1101.2 L498,1101.3 L499,1101.4 L500,1101.4 L501,1101.5 L502,1101.6 L503,1101.6 L504,1101.7 L505,1101.7 L506,1101.8 L507,1101.9 L508,1101.9 L509,1102 L510,1102 L511,1102.1 L512,1102.1 L513,1102.1 L514,1102.2 L515,1102.2 L516,1102.3 L517,1102.3 L518,1102.3 L519,1102.4 L520,1102.4 L521,1102.4 L522,1102.5 L523,1102.5 L524,1102.5 L525,1102.6 L526,1102.6 L527,1102.6 L528,1102.6 L529,1102.7 L530,1102.7 L531,1102.7 L532,1102.7 L533,1102.8 L534,1102.8 L535,1102.8 L536,1102.8 L537,1102.9 L538,1102.9 L539,1102.9 L540,1102.9 L541,1103 L542,1103 L543,1103 L544,1103 L545,1103 L546,1103.1 L547,1103.1 L548,1103.1 L549,1103.1 L550,1103.2 L551,1103.2 L552,1103.2 L553,1103.2 L554,1103.2 L555,1103.3 L556,1103.3 L557,1103.3 L558,1103.3 L559,1103.4 L560,1103.4 L561,1103.4 L562,1103.5 L563,1103.5 L564,1103.5 L565,1103.5 L566,1103.5 L567,1103.6 L568,1103.6 L569,1103.6 L570,1103.6 L571,1103.6 L572,1103.7 L573,1103.7 L574,1103.7 L575,1103.7 L576,1103.7 L577,1103.7 L578,1103.8 L579,1103.8 L580,1103.8 L581,1103.8 L582,1103.8 L583,1103.8 L584,1103.8 L585,1103.8 L586,1103.8 L587,1103.8 L588,1103.8 L589,1103.9 L590,1103.9 L591,1103.9 L592,1103.9 L593,1103.9 L594,1103.9 L595,1103.9 L596,1103.9 L597,1103.9 L598,1103.9 L599,1103.9 L600,1103.9 L601,1103.9 L602,1103.9 L603,1103.9 L604,1103.9 L605,1103.9 L606,1103.9 L607,1103.9 L608,1103.9 L609,1103.9 L610,1103.9 L611,1103.9 L612,1103.9 L613,1103.9 L614,1103.9 L615,1103.8 L616,1103.8 L617,1103.8 L618,1103.8 L619,1103.8 L620,1103.8 L621,1103.8 L622,1103.8 L623,1103.8 L624,1103.8 L625,1103.8 L626,1103.8 L627,1103.8 L628,1103.8 L629,1103.7 L630,1103.7 L631,1103.7 L632,1103.7 L633,1103.7 L634,1103.7 L635,1103.7 L636,1103.7 L637,1103.7 L638,1103.7 L639,1103.6 L640,1103.6 L641,1103.6 L642,1103.6 L643,1103.6 L644,1103.6 L645,1103.6 L646,1103.6 L647,1103.5" fill="none" stroke="#34ac68" stroke-linejoin="round"/></defs>
<use href="#p8" stroke-width="4" opacity="0.22"/>
<use href="#p8" stroke-width="2" opacity="1"/>
<defs><path id="p9" d="M92,1119 L93,1119 L94,1119 L95,1118.9 L96,1118.9 L97,1118.9 L98,1118.9 L99,1118.9 L100,1118.8 L101,1118.8 L102,1118.8 L103,1118.8 L104,1118.8 L105,1118.7 L106,1118.7 L107,1118.7 L108,1118.7 L109,1118.6 L110,1118.6 L111,1118.6 L112,1118.6 L113,1118.6 L114,1118.5 L115,1118.5 L116,1118.5 L117,1118.5 L118,1118.5 L119,1118.4 L120,1118.4 L121,1118.4 L122,1118.4 L123,1118.3 L124,1118.3 L125,1118.3 L126,1118.3 L127,1118.3 L128,1118.2 L129,1118.2 L130,1118.2 L131,1118.2 L132,1118.2 L133,1118.1 L134,1118.1 L135,1118.1 L136,1118.1 L137,1118.1 L138,1118 L139,1118 L140,1118 L141,1118 L142,1118 L143,1117.9 L144,1117.9 L145,1117.9 L146,1117.9 L147,1117.8 L148,1117.8 L149,1117.8 L150,1117.8 L151,1117.8 L152,1117.7 L153,1117.7 L154,1117.7 L155,1117.7 L156,1117.7 L157,1117.6 L158,1117.6 L159,1117.6 L160,1117.6 L161,1117.6 L162,1117.5 L163,1117.5 L164,1117.5 L165,1117.5 L166,1117.5 L167,1117.4 L168,1117.4 L169,1117.4 L170,1117.4 L171,1117.4 L172,1117.4 L173,1117.3 L174,1117.3 L175,1117.3 L176,1117.3 L177,1117.3 L178,1117.2 L179,1117.2 L180,1117.2 L181,1117.2 L182,1117.2 L183,1117.1 L184,1117.1 L185,1117.1 L186,1117.1 L187,1117.1 L188,1117.1 L189,1117 L190,1117 L191,1117 L192,1117 L193,1117 L194,1117 L195,1116.9 L196,1116.9 L197,1116.9 L198,1116.9 L199,1116.9 L200,1116.9 L201,1116.8 L202,1116.8 L203,1116.8 L204,1116.8 L205,1116.8 L206,1116.8 L207,1116.8 L208,1116.7 L209,1116.7 L210,1116.7 L211,1116.7 L212,1116.7 L213,1116.7 L214,1116.7 L215,1116.7 L216,1116.6 L217,1116.6 L218,1116.6 L219,1116.6 L220,1116.6 L221,1116.6 L222,1116.6 L223,1116.6 L224,1116.6 L225,1116.5 L226,1116.5 L227,1116.5 L228,1116.5 L229,1116.5 L230,1116.5 L231,1116.5 L232,1116.5 L233,1116.5 L234,1116.5 L235,1116.5 L236,1116.5 L237,1116.5 L238,1116.5 L239,1116.5 L240,1116.5 L241,1116.5 L242,1116.5 L243,1116.5 L244,1116.5 L245,1116.5 L246,1116.5 L247,1116.5 L248,1116.5 L249,1116.5 L250,1116.5 L251,1116.5 L252,1116.5 L253,1116.5 L254,1116.5 L255,1116.5 L256,1116.5 L257,1116.5 L258,1116.4 L259,1116.4 L260,1116.4 L261,1116.4 L262,1116.4 L263,1116.4 L264,1116.3 L265,1116.3 L266,1116.3 L267,1116.3 L268,1116.2 L269,1116.2 L270,1116.2 L271,1116.1 L272,1116.1 L273,1116.1 L274,1116 L275,1116 L276,1116 L277,1115.9 L278,1115.9 L279,1115.8 L280,1115.8 L281,1115.8 L282,1115.7 L283,1115.7 L284,1115.6 L285,1115.6 L286,1115.5 L287,1115.5 L288,1115.4 L289,1115.4 L290,1115.3 L291,1115.3 L292,1115.2 L293,1115.1 L294,1115.1 L295,1115 L296,1115 L297,1114.9 L298,1114.8 L299,1114.8 L300,1114.7 L301,1114.7 L302,1114.6 L303,1114.5 L304,1114.5 L305,1114.4 L306,1114.3 L307,1114.3 L308,1114.2 L309,1114.1 L310,1114 L311,1114 L312,1113.9 L313,1113.8 L314,1113.7 L315,1113.7 L316,1113.6 L317,1113.5 L318,1113.4 L319,1113.4 L320,1113.3 L321,1113.2 L322,1113.1 L323,1113.1 L324,1113 L325,1112.9 L326,1112.8 L327,1112.7 L328,1112.7 L329,1112.6 L330,1112.5 L331,1112.4 L332,1112.3 L333,1112.2 L334,1112.2 L335,1112.1 L336,1112 L337,1111.9 L338,1111.8 L339,1111.6 L340,1111.5 L341,1111.4 L342,1111.3 L343,1111.2 L344,1111 L345,1110.9 L346,1110.8 L347,1110.6 L348,1110.5 L349,1110.3 L350,1110.2 L351,1110 L352,1109.9 L353,1109.7 L354,1109.5 L355,1109.3 L356,1109.2 L357,1109 L358,1108.8 L359,1108.6 L360,1108.4 L361,1108.2 L362,1108 L363,1107.7 L364,1107.5 L365,1107.3 L366,1107 L367,1106.8 L368,1106.5 L369,1106.3 L370,1106 L371,1105.7 L372,1105.3 L373,1104.9 L374,1104.5 L375,1104 L376,1103.5 L377,1102.9 L378,1102.4 L379,1101.8 L380,1101.2 L381,1100.6 L382,1100 L383,1099.4 L384,1098.9 L385,1098.3 L386,1097.8 L387,1097.2 L388,1096.7 L389,1096.1 L390,1095.4 L391,1094.7 L392,1094 L393,1093.2 L394,1092.3 L395,1091.2 L396,1090 L397,1088.7 L398,1087.3 L399,1085.8 L400,1084.3 L401,1082.7 L402,1081.1 L403,1079.4 L404,1077.6 L405,1075.6 L406,1073.5 L407,1071.1 L408,1068.4 L409,1065 L410,1061.1 L411,1057 L412,1052.8 L413,1048.8 L414,1044.8 L415,1040.7 L416,1036.8 L417,1033 L418,1029.1 L419,1025.5 L420,1022.7 L421,1021.1 L422,1019.7 L423,1018.6 L424,1018.1 L425,1018.4 L426,1019.7 L427,1021.6 L428,1023.8 L429,1026.3 L430,1028.7 L431,1031.8 L432,1035.4 L433,1039 L434,1042.7 L435,1046.7 L436,1050.9 L437,1055 L438,1058.9 L439,1062.4 L440,1065.7 L441,1068.9 L442,1071.9 L443,1074.7 L444,1077.2 L445,1079.5 L446,1081.8 L447,1084 L448,1085.9 L449,1087.6 L450,1089.1 L451,1090.3 L452,1091.5 L453,1092.5 L454,1093.6 L455,1094.5 L456,1095.4 L457,1096.1 L458,1096.9 L459,1097.5 L460,1098 L461,1098.5 L462,1098.9 L463,1099.3 L464,1099.6 L465,1099.9 L466,1100.2 L467,1100.5 L468,1100.8 L469,1101 L470,1101.3 L471,1101.5 L472,1101.8 L473,1102 L474,1102.3 L475,1102.5 L476,1102.8 L477,1103 L478,1103.2 L479,1103.4 L480,1103.7 L481,1103.9 L482,1104.1 L483,1104.3 L484,1104.5 L485,1104.7 L486,1105 L487,1105.2 L488,1105.4 L489,1105.6 L490,1105.8 L491,1106 L492,1106.1 L493,1106.3 L494,1106.5 L495,1106.6 L496,1106.7 L497,1106.9 L498,1107 L499,1107.1 L500,1107.2 L501,1107.3 L502,1107.4 L503,1107.5 L504,1107.6 L505,1107.7 L506,1107.8 L507,1107.9 L508,1108 L509,1108 L510,1108.1 L511,1108.2 L512,1108.2 L513,1108.3 L514,1108.3 L515,1108.4 L516,1108.4 L517,1108.4 L518,1108.5 L519,1108.5 L520,1108.6 L521,1108.6 L522,1108.6 L523,1108.6 L524,1108.7 L525,1108.7 L526,1108.7 L527,1108.7 L528,1108.7 L529,1108.8 L530,1108.8 L531,1108.8 L532,1108.8 L533,1108.8 L534,1108.8 L535,1108.8 L536,1108.8 L537,1108.8 L538,1108.8 L539,1108.8 L540,1108.8 L541,1108.8 L542,1108.8 L543,1108.8 L544,1108.8 L545,1108.8 L546,1108.8 L547,1108.8 L548,1108.8 L549,1108.8 L550,1108.8 L551,1108.8 L552,1108.8 L553,1108.8 L554,1108.8 L555,1108.8 L556,1108.7 L557,1108.7 L558,1108.7 L559,1108.7 L560,1108.7 L561,1108.7 L562,1108.7 L563,1108.7 L564,1108.6 L565,1108.6 L566,1108.6 L567,1108.6 L568,1108.6 L569,1108.6 L570,1108.6 L571,1108.5 L572,1108.5 L573,1108.5 L574,1108.5 L575,1108.5 L576,1108.5 L577,1108.4 L578,1108.4 L579,1108.4 L580,1108.4 L581,1108.4 L582,1108.3 L583,1108.3 L584,1108.3 L585,1108.3 L586,1108.3 L587,1108.3 L588,1108.2 L589,1108.2 L590,1108.2 L591,1108.2 L592,1108.2 L593,1108.1 L594,1108.1 L595,1108.1 L596,1108.1 L597,1108.1 L598,1108 L599,1108 L600,1108 L601,1108 L602,1108 L603,1107.9 L604,1107.9 L605,1107.9 L606,1107.9 L607,1107.9 L608,1107.8 L609,1107.8 L610,1107.8 L611,1107.8 L612,1107.8 L613,1107.7 L614,1107.7 L615,1107.7 L616,1107.7 L617,1107.7 L618,1107.6 L619,1107.6 L620,1107.6 L621,1107.6 L622,1107.5 L623,1107.5 L624,1107.5 L625,1107.5 L626,1107.5 L627,1107.4 L628,1107.4 L629,1107.4 L630,1107.4 L631,1107.4 L632,1107.3 L633,1107.3 L634,1107.3 L635,1107.3 L636,1107.3 L637,1107.2 L638,1107.2 L639,1107.2 L640,1107.2 L641,1107.1 L642,1107.1 L643,1107.1 L644,1107.1 L645,1107.1 L646,1107 L647,1107" fill="none" stroke="#2272e0" stroke-linejoin="round"/></defs>
<use href="#p9" stroke-width="4" opacity="0.22"/>
<use href="#p9" stroke-width="2" opacity="1"/>
<defs><path id="p10" d="M92,1119.5 L93,1119.5 L94,1119.5 L95,1119.4 L96,1119.4 L97,1119.4 L98,1119.4 L99,1119.4 L100,1119.3 L101,1119.3 L102,1119.3 L103,1119.3 L104,1119.3 L105,1119.3 L106,1119.2 L107,1119.2 L108,1119.2 L109,1119.2 L110,1119.2 L111,1119.1 L112,1119.1 L113,1119.1 L114,1119.1 L115,1119.1 L116,1119 L117,1119 L118,1119 L119,1119 L120,1119 L121,1119 L122,1118.9 L123,1118.9 L124,1118.9 L125,1118.9 L126,1118.9 L127,1118.8 L128,1118.8 L129,1118.8 L130,1118.8 L131,1118.8 L132,1118.7 L133,1118.7 L134,1118.7 L135,1118.7 L136,1118.7 L137,1118.7 L138,1118.6 L139,1118.6 L140,1118.6 L141,1118.6 L142,1118.6 L143,1118.5 L144,1118.5 L145,1118.5 L146,1118.5 L147,1118.5 L148,1118.4 L149,1118.4 L150,1118.4 L151,1118.4 L152,1118.4 L153,1118.3 L154,1118.3 L155,1118.3 L156,1118.3 L157,1118.3 L158,1118.3 L159,1118.2 L160,1118.2 L161,1118.2 L162,1118.2 L163,1118.2 L164,1118.1 L165,1118.1 L166,1118.1 L167,1118.1 L168,1118.1 L169,1118 L170,1118 L171,1118 L172,1118 L173,1118 L174,1118 L175,1117.9 L176,1117.9 L177,1117.9 L178,1117.9 L179,1117.9 L180,1117.8 L181,1117.8 L182,1117.8 L183,1117.8 L184,1117.8 L185,1117.7 L186,1117.7 L187,1117.7 L188,1117.7 L189,1117.7 L190,1117.6 L191,1117.6 L192,1117.6 L193,1117.6 L194,1117.6 L195,1117.6 L196,1117.5 L197,1117.5 L198,1117.5 L199,1117.5 L200,1117.5 L201,1117.4 L202,1117.4 L203,1117.4 L204,1117.4 L205,1117.4 L206,1117.3 L207,1117.3 L208,1117.3 L209,1117.3 L210,1117.3 L211,1117.3 L212,1117.2 L213,1117.2 L214,1117.2 L215,1117.2 L216,1117.2 L217,1117.2 L218,1117.1 L219,1117.1 L220,1117.1 L221,1117.1 L222,1117.1 L223,1117.1 L224,1117.1 L225,1117.1 L226,1117.1 L227,1117.1 L228,1117.1 L229,1117.2 L230,1117.3 L231,1117.4 L232,1117.5 L233,1117.5 L234,1117.5 L235,1117.4 L236,1117.3 L237,1117.1 L238,1116.9 L239,1116.7 L240,1116.5 L241,1116.2 L242,1115.9 L243,1115.5 L244,1115.2 L245,1114.8 L246,1114.4 L247,1113.9 L248,1113.4 L249,1113 L250,1112.4 L251,1111.5 L252,1110.3 L253,1108.9 L254,1107.3 L255,1105.6 L256,1103.7 L257,1101.7 L258,1099.7 L259,1097.4 L260,1094.7 L261,1091.8 L262,1088.6 L263,1085.2 L264,1081.8 L265,1078.2 L266,1074.4 L267,1070.4 L268,1066.1 L269,1061.7 L270,1057 L271,1052.2 L272,1047.3 L273,1042.2 L274,1036.8 L275,1031.2 L276,1025.3 L277,1019.1 L278,1012.6 L279,1005.4 L280,997.7 L281,989.8 L282,981.9 L283,974.4 L284,967.4 L285,960.5 L286,953.7 L287,947.2 L288,940.7 L289,933.5 L290,926.7 L291,921.4 L292,918.7 L293,917 L294,915.6 L295,914.4 L296,913.5 L297,913.1 L298,913.1 L299,913.7 L300,914.8 L301,916.5 L302,918.5 L303,920.7 L304,924.3 L305,929.8 L306,936.4 L307,943.3 L308,950.6 L309,958.9 L310,967.7 L311,976.1 L312,983.6 L313,990.5 L314,997.1 L315,1003.7 L316,1010.3 L317,1017.1 L318,1023.9 L319,1030.6 L320,1037.1 L321,1043.8 L322,1050.5 L323,1057 L324,1063.2 L325,1068.8 L326,1073.7 L327,1078.2 L328,1082.5 L329,1086.4 L330,1089.8 L331,1092.5 L332,1094.7 L333,1096.7 L334,1098.5 L335,1100.2 L336,1101.7 L337,1103 L338,1104.2 L339,1105.1 L340,1105.9 L341,1106.6 L342,1107.2 L343,1107.7 L344,1108.2 L345,1108.6 L346,1109 L347,1109.4 L348,1109.9 L349,1110.4 L350,1110.8 L351,1111.2 L352,1111.6 L353,1111.9 L354,1112.1 L355,1112.4 L356,1112.6 L357,1112.8 L358,1112.9 L359,1113.1 L360,1113.2 L361,1113.3 L362,1113.4 L363,1113.5 L364,1113.6 L365,1113.6 L366,1113.7 L367,1113.7 L368,1113.8 L369,1113.8 L370,1113.8 L371,1113.9 L372,1113.9 L373,1113.9 L374,1113.9 L375,1113.9 L376,1113.9 L377,1113.9 L378,1113.9 L379,1113.9 L380,1113.9 L381,1113.9 L382,1113.9 L383,1113.9 L384,1113.9 L385,1113.9 L386,1113.9 L387,1113.9 L388,1113.9 L389,1113.8 L390,1113.8 L391,1113.8 L392,1113.8 L393,1113.8 L394,1113.8 L395,1113.8 L396,1113.7 L397,1113.7 L398,1113.7 L399,1113.7 L400,1113.7 L401,1113.7 L402,1113.6 L403,1113.6 L404,1113.6 L405,1113.6 L406,1113.6 L407,1113.5 L408,1113.5 L409,1113.5 L410,1113.5 L411,1113.5 L412,1113.5 L413,1113.4 L414,1113.4 L415,1113.4 L416,1113.4 L417,1113.4 L418,1113.3 L419,1113.3 L420,1113.3 L421,1113.3 L422,1113.3 L423,1113.2 L424,1113.2 L425,1113.2 L426,1113.2 L427,1113.2 L428,1113.2 L429,1113.1 L430,1113.1 L431,1113.1 L432,1113.1 L433,1113.1 L434,1113 L435,1113 L436,1113 L437,1113 L438,1113 L439,1112.9 L440,1112.9 L441,1112.9 L442,1112.9 L443,1112.9 L444,1112.9 L445,1112.8 L446,1112.8 L447,1112.8 L448,1112.8 L449,1112.8 L450,1112.7 L451,1112.7 L452,1112.7 L453,1112.7 L454,1112.7 L455,1112.6 L456,1112.6 L457,1112.6 L458,1112.6 L459,1112.6 L460,1112.6 L461,1112.5 L462,1112.5 L463,1112.5 L464,1112.5 L465,1112.5 L466,1112.4 L467,1112.4 L468,1112.4 L469,1112.4 L470,1112.4 L471,1112.3 L472,1112.3 L473,1112.3 L474,1112.3 L475,1112.3 L476,1112.2 L477,1112.2 L478,1112.2 L479,1112.2 L480,1112.2 L481,1112.2 L482,1112.1 L483,1112.1 L484,1112.1 L485,1112.1 L486,1112.1 L487,1112 L488,1112 L489,1112 L490,1112 L491,1112 L492,1111.9 L493,1111.9 L494,1111.9 L495,1111.9 L496,1111.9 L497,1111.9 L498,1111.8 L499,1111.8 L500,1111.8 L501,1111.8 L502,1111.8 L503,1111.7 L504,1111.7 L505,1111.7 L506,1111.7 L507,1111.7 L508,1111.6 L509,1111.6 L510,1111.6 L511,1111.6 L512,1111.6 L513,1111.5 L514,1111.5 L515,1111.5 L516,1111.5 L517,1111.5 L518,1111.5 L519,1111.4 L520,1111.4 L521,1111.4 L522,1111.4 L523,1111.4 L524,1111.3 L525,1111.3 L526,1111.3 L527,1111.3 L528,1111.3 L529,1111.2 L530,1111.2 L531,1111.2 L532,1111.2 L533,1111.2 L534,1111.2 L535,1111.1 L536,1111.1 L537,1111.1 L538,1111.1 L539,1111.1 L540,1111 L541,1111 L542,1111 L543,1111 L544,1111 L545,1110.9 L546,1110.9 L547,1110.9 L548,1110.9 L549,1110.9 L550,1110.9 L551,1110.8 L552,1110.8 L553,1110.8 L554,1110.8 L555,1110.8 L556,1110.7 L557,1110.7 L558,1110.7 L559,1110.7 L560,1110.7 L561,1110.6 L562,1110.6 L563,1110.6 L564,1110.6 L565,1110.6 L566,1110.5 L567,1110.5 L568,1110.5 L569,1110.5 L570,1110.5 L571,1110.5 L572,1110.4 L573,1110.4 L574,1110.4 L575,1110.4 L576,1110.4 L577,1110.3 L578,1110.3 L579,1110.3 L580,1110.3 L581,1110.3 L582,1110.2 L583,1110.2 L584,1110.2 L585,1110.2 L586,1110.2 L587,1110.2 L588,1110.1 L589,1110.1 L590,1110.1 L591,1110.1 L592,1110.1 L593,1110 L594,1110 L595,1110 L596,1110 L597,1110 L598,1109.9 L599,1109.9 L600,1109.9 L601,1109.9 L602,1109.9 L603,1109.8 L604,1109.8 L605,1109.8 L606,1109.8 L607,1109.8 L608,1109.8 L609,1109.7 L610,1109.7 L611,1109.7 L612,1109.7 L613,1109.7 L614,1109.6 L615,1109.6 L616,1109.6 L617,1109.6 L618,1109.6 L619,1109.5 L620,1109.5 L621,1109.5 L622,1109.5 L623,1109.5 L624,1109.5 L625,1109.4 L626,1109.4 L627,1109.4 L628,1109.4 L629,1109.4 L630,1109.3 L631,1109.3 L632,1109.3 L633,1109.3 L634,1109.3 L635,1109.2 L636,1109.2 L637,1109.2 L638,1109.2 L639,1109.2 L640,1109.2 L641,1109.1 L642,1109.1 L643,1109.1 L644,1109.1 L645,1109.1 L646,1109 L647,1109" fill="none" stroke="#b07ce0" stroke-linejoin="round"/></defs>
<use href="#p10" stroke-width="4" opacity="0.22"/>
<use href="#p10" stroke-width="2" opacity="1"/>
<defs><path id="p11" d="M212,1109.6 L213,1109.5 L214,1109.3 L215,1109.2 L216,1109 L217,1108.8 L218,1108.6 L219,1108.4 L220,1108.3 L221,1108.1 L222,1107.9 L223,1107.7 L224,1107.5 L225,1107.3 L226,1107.1 L227,1106.9 L228,1106.7 L229,1106.4 L230,1106.2 L231,1105.9 L232,1105.5 L233,1105.2 L234,1104.8 L235,1104.4 L236,1103.9 L237,1103.2 L238,1102.3 L239,1101.3 L240,1100.1 L241,1098.8 L242,1097.4 L243,1095.9 L244,1094.3 L245,1092.7 L246,1091 L247,1089.3 L248,1087.4 L249,1085.2 L250,1082.9 L251,1080.3 L252,1077.6 L253,1074.8 L254,1072 L255,1069 L256,1065.9 L257,1062.7 L258,1059.2 L259,1055.5 L260,1051.7 L261,1047.7 L262,1043.6 L263,1039.2 L264,1034.6 L265,1029.7 L266,1024.5 L267,1019.2 L268,1013.6 L269,1007.7 L270,1001.5 L271,995.1 L272,988.5 L273,982 L274,975.4 L275,968.9 L276,962.2 L277,955.3 L278,948 L279,940.5 L280,933.3 L281,926.6 L282,919.9 L283,913.6 L284,908 L285,903.5 L286,899.4 L287,895.6 L288,892.3 L289,889.5 L290,887.3 L291,885.7 L292,884.2 L293,882.9 L294,881.7 L295,880.8 L296,880.1 L297,879.8 L298,879.9 L299,880.6 L300,881.7 L301,883.2 L302,884.9 L303,886.8 L304,889.7 L305,894 L306,899.1 L307,904.2 L308,909.1 L309,914.3 L310,919.6 L311,925.1 L312,930.6 L313,936.6 L314,942.7 L315,948.3 L316,953.2 L317,958 L318,962.7 L319,966.9 L320,970.4 L321,972.6 L322,973.7 L323,974.6 L324,975.5 L325,976.1 L326,976.7 L327,977 L328,977.2 L329,977.1 L330,976.5 L331,975.4 L332,974 L333,972.2 L334,970.2 L335,966.7 L336,961 L337,954.1 L338,946.8 L339,939.6 L340,931.6 L341,923 L342,914 L343,904.6 L344,894.5 L345,884.2 L346,874.5 L347,865.2 L348,854.9 L349,842.4 L350,829.1 L351,817.5 L352,809 L353,802.1 L354,795.8 L355,789.7 L356,783 L357,775.5 L358,768 L359,761.7 L360,757.5 L361,754.3 L362,751.4 L363,749 L364,747.2 L365,746.3 L366,746.4 L367,747.4 L368,749.1 L369,751.5 L370,754.2 L371,757.9 L372,764.3 L373,772.3 L374,780.1 L375,787.7 L376,795.7 L377,804.1 L378,813.4 L379,823.6 L380,833.9 L381,843.9 L382,853.9 L383,863.3 L384,871.8 L385,879.8 L386,887.6 L387,895.7 L388,904 L389,912.2 L390,920 L391,927.2 L392,934 L393,940.5 L394,946.9 L395,953.3 L396,959.5 L397,965.3 L398,970.5 L399,975.5 L400,980.1 L401,983.8 L402,986 L403,987.7 L404,989.2 L405,990.5 L406,991.6 L407,992.5 L408,993.2 L409,993.7 L410,994.1 L411,994.4 L412,994.6 L413,994.8 L414,995 L415,995.3 L416,995.5 L417,995.9 L418,996.3 L419,996.9 L420,997.8 L421,998.9 L422,1000.2 L423,1001.8 L424,1003.5 L425,1006 L426,1009.9 L427,1014.2 L428,1017.8 L429,1020.5 L430,1022.8 L431,1024.9 L432,1026.8 L433,1028.8 L434,1030.9 L435,1033.2 L436,1035.7 L437,1038.1 L438,1040.7 L439,1043.3 L440,1046 L441,1049 L442,1052 L443,1055.1 L444,1058.1 L445,1061 L446,1063.8 L447,1066.6 L448,1069.3 L449,1071.7 L450,1073.5 L451,1075 L452,1076.3 L453,1077.5 L454,1078.6 L455,1079.7 L456,1080.6 L457,1081.5 L458,1082.3 L459,1083 L460,1083.7 L461,1084.4 L462,1085 L463,1085.6 L464,1086.1 L465,1086.7 L466,1087.1 L467,1087.6 L468,1088.1 L469,1088.5 L470,1089 L471,1089.4 L472,1089.9 L473,1090.4 L474,1090.9 L475,1091.4 L476,1091.9 L477,1092.5 L478,1093 L479,1093.5 L480,1094 L481,1094.5 L482,1094.9 L483,1095.3 L484,1095.7 L485,1096 L486,1096.4 L487,1096.7 L488,1097 L489,1097.2 L490,1097.5 L491,1097.8 L492,1098 L493,1098.3 L494,1098.5 L495,1098.7 L496,1098.9 L497,1099.1 L498,1099.3 L499,1099.5 L500,1099.6 L501,1099.8 L502,1099.9 L503,1100.1 L504,1100.2 L505,1100.4 L506,1100.5 L507,1100.7 L508,1100.8 L509,1100.9 L510,1101.1 L511,1101.2 L512,1101.3 L513,1101.4 L514,1101.5 L515,1101.7 L516,1101.8 L517,1101.9 L518,1102 L519,1102.1 L520,1102.2 L521,1102.3 L522,1102.4 L523,1102.4 L524,1102.5 L525,1102.6 L526,1102.7 L527,1102.8 L528,1102.9 L529,1102.9 L530,1103 L531,1103.1 L532,1103.1 L533,1103.2 L534,1103.3 L535,1103.3 L536,1103.4 L537,1103.4 L538,1103.5 L539,1103.6 L540,1103.6 L541,1103.7 L542,1103.7 L543,1103.8 L544,1103.8 L545,1103.9 L546,1103.9 L547,1104 L548,1104 L549,1104.1 L550,1104.1 L551,1104.1 L552,1104.2 L553,1104.2 L554,1104.3 L555,1104.3 L556,1104.4 L557,1104.4 L558,1104.5 L559,1104.5 L560,1104.5 L561,1104.6 L562,1104.6 L563,1104.7 L564,1104.7 L565,1104.8 L566,1104.8 L567,1104.9 L568,1104.9 L569,1105 L570,1105 L571,1105.1 L572,1105.1 L573,1105.2 L574,1105.2 L575,1105.3 L576,1105.3 L577,1105.4 L578,1105.4 L579,1105.5 L580,1105.5 L581,1105.6 L582,1105.6 L583,1105.7 L584,1105.7 L585,1105.8 L586,1105.8 L587,1105.9 L588,1105.9 L589,1106 L590,1106 L591,1106.1 L592,1106.1 L593,1106.2 L594,1106.2 L595,1106.3 L596,1106.3 L597,1106.4 L598,1106.4 L599,1106.5 L600,1106.5 L601,1106.6 L602,1106.6 L603,1106.7 L604,1106.7 L605,1106.8 L606,1106.8 L607,1106.9 L608,1106.9 L609,1107 L610,1107 L611,1107 L612,1107.1 L613,1107.1 L614,1107.2 L615,1107.2 L616,1107.3 L617,1107.3 L618,1107.3 L619,1107.4 L620,1107.4 L621,1107.4 L622,1107.4 L623,1107.5 L624,1107.5 L625,1107.5 L626,1107.5 L627,1107.5 L628,1107.6 L629,1107.6 L630,1107.6 L631,1107.6 L632,1107.6 L633,1107.6 L634,1107.6 L635,1107.6 L636,1107.6 L637,1107.6 L638,1107.6 L639,1107.7 L640,1107.7 L641,1107.7 L642,1107.7 L643,1107.7 L644,1107.7 L645,1107.7 L646,1107.7 L647,1107.7" fill="none" stroke="#505050" stroke-linejoin="round"/></defs>
<use href="#p11" stroke-width="4" opacity="0.22"/>
<use href="#p11" stroke-width="2" opacity="1"/>
<line x1="375" y1="806" x2="410.2" y2="778.9" stroke="#333" stroke-width="1.4"/>
<polygon points="416.5,774 411.3,782 407.4,777" fill="#111"/>
<line x1="283.8" y1="952.7" x2="246.8" y2="935" stroke="#333" stroke-width="1.4"/>
<polygon points="239.6,931.5 249.1,932.5 246.3,938.3" fill="#111"/>
<line x1="446" y1="1061" x2="483.9" y2="1041.2" stroke="#333" stroke-width="1.4"/>
<polygon points="491,1037.5 484.5,1044.5 481.5,1038.8" fill="#111"/>
<text transform="translate(428.7,772.5) scale(0.8,1)" x="0" y="0" font-size="22.44" fill="#444" textLength="112.7" lengthAdjust="spacing">C1s Scan B</text>
<text transform="translate(138.9,926.2) scale(0.8,1)" x="0" y="0" font-size="22.44" fill="#444" textLength="110.5" lengthAdjust="spacing">C1s Scan C</text>
<text transform="translate(499.4,1041.1) scale(0.8,1)" x="0" y="0" font-size="22.44" fill="#444" textLength="112.8" lengthAdjust="spacing">C1s Scan A</text>
<text x="115.5" y="769" font-size="42" fill="#222" text-anchor="start" stroke="#222" stroke-width="0.7">c</text>
<text transform="translate(38.6,1200.9) scale(0.82,1)" x="0" y="0" font-size="22.49" fill="#505050" textLength="38.0" lengthAdjust="spacing">278</text>
<text transform="translate(112.5,1200.9) scale(0.82,1)" x="0" y="0" font-size="22.49" fill="#505050" textLength="38.0" lengthAdjust="spacing">280</text>
<text transform="translate(186.3,1200.9) scale(0.82,1)" x="0" y="0" font-size="22.49" fill="#505050" textLength="38.0" lengthAdjust="spacing">282</text>
<text transform="translate(260.1,1200.9) scale(0.82,1)" x="0" y="0" font-size="22.49" fill="#505050" textLength="38.0" lengthAdjust="spacing">284</text>
<text transform="translate(334.0,1200.9) scale(0.82,1)" x="0" y="0" font-size="22.49" fill="#505050" textLength="38.0" lengthAdjust="spacing">286</text>
<text transform="translate(407.8,1200.9) scale(0.82,1)" x="0" y="0" font-size="22.49" fill="#505050" textLength="38.0" lengthAdjust="spacing">288</text>
<text transform="translate(481.7,1200.9) scale(0.82,1)" x="0" y="0" font-size="22.49" fill="#505050" textLength="38.0" lengthAdjust="spacing">290</text>
<text transform="translate(555.5,1200.9) scale(0.82,1)" x="0" y="0" font-size="22.49" fill="#505050" textLength="38.0" lengthAdjust="spacing">292</text>
<text transform="translate(629.4,1200.9) scale(0.82,1)" x="0" y="0" font-size="22.49" fill="#505050" textLength="38.0" lengthAdjust="spacing">294</text>
<text transform="translate(261.7,1241.8) scale(0.74,1)" x="0" y="0" font-size="28.4" font-weight="bold" fill="#5e5e5e" textLength="284.2" lengthAdjust="spacing">Binding energy(eV)</text>
<text transform="translate(12.7,978.2) rotate(-90) scale(0.8,1)" x="0" y="0" font-size="25.04" fill="#444" textLength="176.0" lengthAdjust="spacing">Intensity(a.u.)</text>
<rect x="53" y="677.1" width="630" height="2.2" fill="#d8d8d8"/>
<rect x="53" y="679.3" width="630" height="2.5" fill="#6a6a6a"/>
<rect x="53" y="1166.3" width="630" height="2.5" fill="#b8b8b8"/>
<rect x="53" y="1168.8" width="630" height="2.2" fill="#666666"/>
<rect x="53" y="677" width="2.1" height="494" fill="#6e6e6e"/>
<rect x="55.1" y="677" width="2.7" height="494" fill="#dcdcdc"/>
<rect x="680" y="677" width="3" height="494" fill="#585858"/>
<rect x="53.2" y="1170" width="2" height="10" fill="#666666"/>
<rect x="90.1" y="1170" width="2" height="6" fill="#666666"/>
<rect x="127.1" y="1170" width="2" height="10" fill="#666666"/>
<rect x="164" y="1170" width="2" height="6" fill="#666666"/>
<rect x="200.9" y="1170" width="2" height="10" fill="#666666"/>
<rect x="237.8" y="1170" width="2" height="6" fill="#666666"/>
<rect x="274.8" y="1170" width="2" height="10" fill="#666666"/>
<rect x="311.7" y="1170" width="2" height="6" fill="#666666"/>
<rect x="348.6" y="1170" width="2" height="10" fill="#666666"/>
<rect x="385.5" y="1170" width="2" height="6" fill="#666666"/>
<rect x="422.4" y="1170" width="2" height="10" fill="#666666"/>
<rect x="459.4" y="1170" width="2" height="6" fill="#666666"/>
<rect x="496.3" y="1170" width="2" height="10" fill="#666666"/>
<rect x="533.2" y="1170" width="2" height="6" fill="#666666"/>
<rect x="570.1" y="1170" width="2" height="10" fill="#666666"/>
<rect x="607.1" y="1170" width="2" height="6" fill="#666666"/>
<rect x="644" y="1170" width="2" height="10" fill="#666666"/>
<rect x="680.9" y="1170" width="2" height="6" fill="#666666"/>
<polyline points="820.0,1043.6 820.6,1034.1 821.2,1053.4 821.8,1065.4 822.4,1078.3 823.0,1059.8 823.6,1047.8 824.2,1043.6 824.8,1071.2 825.4,1087.1 826.0,1062.5 826.6,1035.4 827.2,1040.3 827.8,1086.3 828.4,1061.1 829.0,1026.3 829.6,1055.9 830.2,1036.5 830.8,1046.1 831.4,1048.6 832.0,1044.5 832.6,1067.3 833.2,1056.2 833.8,1046.7 834.4,1064.6 835.0,1072.2 835.6,1027.7 836.2,1052.6 836.8,1039.5 837.4,1054.1 838.0,1034.0 838.6,1057.5 839.2,1056.5 839.8,1051.7 840.4,1038.3 841.0,1050.0 841.6,1037.5 842.2,1032.7 842.8,1061.1 843.4,1037.1 844.0,1078.1 844.6,1070.0 845.2,1021.1 845.8,1061.9 846.4,1037.2 847.0,1057.6 847.6,1057.8 848.2,1021.2 848.8,1052.8 849.4,1052.4 850.0,1074.3 850.6,1035.7 851.2,1070.3 851.8,1037.2 852.4,1051.0 853.0,1041.9 853.6,1083.1 854.2,1067.2 854.8,1100.8 855.4,1068.6 856.0,1072.2 856.6,1072.1 857.2,1046.1 857.8,1055.7 858.4,1081.3 859.0,1049.9 859.6,1060.4 860.2,1056.6 860.8,1068.0 861.4,1050.4 862.0,1054.3 862.6,1061.4 863.2,1058.9 863.8,1041.5 864.4,1073.2 865.0,1033.8 865.6,1035.5 866.2,1034.1 866.8,1074.6 867.4,1050.8 868.0,1039.8 868.6,1036.9 869.2,1065.0 869.8,1038.5 870.4,1034.6 871.0,1068.6 871.6,1036.1 872.2,1051.9 872.8,1057.6 873.4,1049.8 874.0,1056.9 874.6,1082.0 875.2,1048.7 875.8,1035.4 876.4,1025.0 877.0,1054.5 877.6,1051.9 878.2,1063.1 878.8,1050.0 879.4,1049.8 880.0,1045.5 880.6,1049.2 881.2,1061.5 881.8,1051.9 882.4,1060.6 883.0,1093.1 883.6,1067.5 884.2,1030.6 884.8,1090.2 885.4,1065.4 886.0,1042.2 886.6,1075.5 887.2,1059.6 887.8,1048.3 888.4,1048.0 889.0,1041.6 889.6,1060.4 890.2,1078.8 890.8,1053.7 891.4,1067.2 892.0,1093.4 892.6,1037.9 893.2,1064.4 893.8,1054.3 894.4,1040.8 895.0,1041.4 895.6,1059.6 896.2,1067.7 896.8,1050.4 897.4,1060.9 898.0,1073.0 898.6,1065.3 899.2,1075.6 899.8,1068.3 900.4,1068.8 901.0,1092.9 901.6,1071.2 902.2,1062.3 902.8,1072.7 903.4,1043.3 904.0,1053.7 904.6,1074.0 905.2,1071.0 905.8,1087.5 906.4,1059.7 907.0,1033.1 907.6,1094.4 908.2,1078.9 908.8,1040.0 909.4,1083.7 910.0,1059.4 910.6,1026.1 911.2,1051.0 911.8,1049.3 912.4,1086.9 913.0,1043.9 913.6,1053.4 914.2,1052.8 914.8,1050.8 915.4,1041.0 916.0,1061.2 916.6,1076.5 917.2,1068.2 917.8,1040.0 918.4,1035.8 919.0,1058.5 919.6,1043.4 920.2,1044.6 920.8,1025.5 921.4,1090.5 922.0,1071.6 922.6,1037.2 923.2,1070.7 923.8,1078.1 924.4,1010.4 925.0,1043.1 925.6,1045.5 926.2,1063.6 926.8,1049.1 927.4,1046.6 928.0,1049.1 928.6,1082.9 929.2,1087.8 929.8,1038.8 930.4,1030.9 931.0,1095.2 931.6,1028.3 932.2,1034.7 932.8,1044.6 933.4,1051.6 934.0,1060.4 934.6,1047.7 935.2,1023.8 935.8,1047.4 936.4,1041.6 937.0,1069.7 937.6,1034.4 938.2,1009.4 938.8,1013.5 939.4,1057.2 940.0,1020.3 940.6,991.1 941.2,1017.5 941.8,1027.0 942.4,1047.5 943.0,1006.9 943.6,1036.3 944.2,1037.6 944.8,1009.7 945.4,1017.8 946.0,1051.9 946.6,1049.7 947.2,1032.6 947.8,1021.6 948.4,1034.2 949.0,1008.7 949.6,1006.5 950.2,993.6 950.8,1001.0 951.4,995.7 952.0,1028.5 952.6,985.5 953.2,1000.0 953.8,995.6 954.4,970.5 955.0,982.2 955.6,932.4 956.2,955.4 956.8,958.5 957.4,909.1 958.0,917.7 958.6,938.6 959.2,913.3 959.8,893.7 960.4,894.3 961.0,882.9 961.6,889.7 962.2,875.8 962.8,855.4 963.4,839.3 964.0,836.4 964.6,843.8 965.2,821.2 965.8,814.2 966.4,792.9 967.0,768.3 967.6,768.5 968.2,782.6 968.8,773.0 969.4,757.8 970.0,746.7 970.6,767.8 971.2,761.1 971.8,760.5 972.4,760.8 973.0,769.1 973.6,769.9 974.2,779.4 974.8,780.0 975.4,786.2 976.0,780.5 976.6,766.9 977.2,772.3 977.8,781.5 978.4,773.3 979.0,786.8 979.6,797.1 980.2,774.0 980.8,763.5 981.4,804.0 982.0,790.2 982.6,800.4 983.2,775.0 983.8,815.8 984.4,803.7 985.0,793.3 985.6,791.1 986.2,798.1 986.8,795.4 987.4,795.1 988.0,785.4 988.6,817.9 989.2,802.6 989.8,805.9 990.4,808.3 991.0,779.0 991.6,819.5 992.2,812.2 992.8,820.0 993.4,834.6 994.0,832.0 994.6,865.6 995.2,853.2 995.8,857.1 996.4,863.9 997.0,883.1 997.6,896.3 998.2,884.0 998.8,876.9 999.4,914.8 1000.0,889.0 1000.6,926.6 1001.2,911.3 1001.8,904.9 1002.4,908.8 1003.0,928.2 1003.6,937.3 1004.2,923.6 1004.8,943.4 1005.4,963.0 1006.0,931.0 1006.6,919.3 1007.2,923.0 1007.8,920.2 1008.4,933.6 1009.0,934.5 1009.6,927.5 1010.2,957.4 1010.8,912.2 1011.4,933.4 1012.0,985.2 1012.6,972.3 1013.2,966.3 1013.8,967.1 1014.4,988.4 1015.0,971.6 1015.6,966.3 1016.2,948.2 1016.8,967.0 1017.4,958.6 1018.0,960.4 1018.6,961.5 1019.2,972.8 1019.8,969.7 1020.4,988.8 1021.0,957.0 1021.6,975.5 1022.2,1007.1 1022.8,980.9 1023.4,999.4 1024.0,999.4 1024.6,1003.0 1025.2,995.0 1025.8,963.8 1026.4,980.9 1027.0,979.3 1027.6,961.6 1028.2,977.3 1028.8,964.6 1029.4,957.2 1030.0,983.9 1030.6,978.5 1031.2,967.2 1031.8,961.4 1032.4,965.7 1033.0,966.1 1033.6,963.7 1034.2,966.4 1034.8,957.5 1035.4,966.4 1036.0,964.8 1036.6,958.5 1037.2,939.4 1037.8,936.5 1038.4,948.8 1039.0,936.2 1039.6,935.8 1040.2,896.9 1040.8,891.8 1041.4,935.4 1042.0,933.3 1042.6,947.5 1043.2,935.7 1043.8,926.7 1044.4,922.3 1045.0,899.7 1045.6,933.6 1046.2,910.8 1046.8,927.1 1047.4,922.2 1048.0,923.0 1048.6,932.1 1049.2,911.1 1049.8,912.5 1050.4,905.3 1051.0,912.4 1051.6,943.0 1052.2,912.6 1052.8,935.9 1053.4,930.7 1054.0,929.6 1054.6,931.2 1055.2,904.5 1055.8,925.9 1056.4,944.7 1057.0,911.1 1057.6,921.6 1058.2,912.6 1058.8,928.4 1059.4,908.2 1060.0,949.1 1060.6,920.0 1061.2,903.2 1061.8,953.8 1062.4,942.2 1063.0,936.2 1063.6,937.1 1064.2,924.5 1064.8,927.3 1065.4,942.3 1066.0,946.1 1066.6,947.1 1067.2,937.1 1067.8,927.8 1068.4,932.8 1069.0,953.2 1069.6,959.0 1070.2,933.2 1070.8,932.0 1071.4,958.8 1072.0,951.9 1072.6,952.5 1073.2,923.3 1073.8,938.4 1074.4,937.3 1075.0,949.2 1075.6,921.8 1076.2,967.2 1076.8,953.7 1077.4,956.8 1078.0,933.6 1078.6,952.0 1079.2,973.6 1079.8,931.1 1080.4,960.3 1081.0,967.4 1081.6,947.6 1082.2,971.4 1082.8,955.4 1083.4,980.0 1084.0,970.7 1084.6,967.3 1085.2,995.3 1085.8,978.9 1086.4,987.3 1087.0,951.1 1087.6,960.4 1088.2,983.9 1088.8,986.2 1089.4,973.0 1090.0,986.7 1090.6,960.3 1091.2,980.6 1091.8,961.5 1092.4,985.0 1093.0,973.9 1093.6,972.8 1094.2,984.5 1094.8,1012.2 1095.4,971.0 1096.0,978.4 1096.6,1004.6 1097.2,983.5 1097.8,1017.5 1098.4,995.5 1099.0,994.6 1099.6,999.7 1100.2,1021.5 1100.8,1006.2 1101.4,1005.1 1102.0,1002.1 1102.6,975.8 1103.2,986.9 1103.8,1023.3 1104.4,1014.3 1105.0,1010.4 1105.6,1013.3 1106.2,996.4 1106.8,1010.5 1107.4,992.8 1108.0,1013.0 1108.6,997.3 1109.2,1005.6 1109.8,1016.5 1110.4,1005.7 1111.0,1021.2 1111.6,1019.3 1112.2,1018.7 1112.8,1034.2 1113.4,993.1 1114.0,992.2 1114.6,1026.4 1115.2,1032.1 1115.8,1049.1 1116.4,1031.1 1117.0,1033.1 1117.6,1008.2 1118.2,1033.4 1118.8,1032.9 1119.4,1007.6 1120.0,1010.6 1120.6,1022.8 1121.2,1029.3 1121.8,981.3 1122.4,1027.0 1123.0,1029.8 1123.6,1024.1 1124.2,1031.2 1124.8,1034.4 1125.4,1012.7 1126.0,1034.5 1126.6,1024.9 1127.2,1014.8 1127.8,1032.4 1128.4,1051.9 1129.0,1008.0 1129.6,1005.5 1130.2,1005.8 1130.8,1060.5 1131.4,1027.4 1132.0,1030.6 1132.6,1020.0 1133.2,1018.0 1133.8,1002.0 1134.4,1035.2 1135.0,1036.9 1135.6,1003.7 1136.2,1018.0 1136.8,1022.8 1137.4,1033.9 1138.0,1038.3 1138.6,1051.9 1139.2,1055.8 1139.8,1051.7 1140.4,1056.1 1141.0,1018.9 1141.6,1028.4 1142.2,1054.2 1142.8,1041.7 1143.4,1037.9 1144.0,1008.2 1144.6,1010.3 1145.2,1049.4 1145.8,1043.9 1146.4,1034.5 1147.0,1033.0 1147.6,1013.5 1148.2,1045.2 1148.8,1055.3 1149.4,1064.5 1150.0,1040.7 1150.6,1037.0 1151.2,1023.8 1151.8,1058.6 1152.4,1066.0 1153.0,1031.3 1153.6,1044.9 1154.2,1042.0 1154.8,1032.2 1155.4,1003.4 1156.0,1035.4 1156.6,1050.1 1157.2,1019.4 1157.8,1028.6 1158.4,992.0 1159.0,1060.6 1159.6,1048.9 1160.2,1042.1 1160.8,1037.5 1161.4,1032.0 1162.0,1040.4 1162.6,1037.0 1163.2,1038.0 1163.8,1041.3 1164.4,1043.7 1165.0,1065.1 1165.6,1020.1 1166.2,1045.8 1166.8,1032.6 1167.4,1024.9 1168.0,1006.5 1168.6,1051.1 1169.2,1027.1 1169.8,1030.6 1170.4,1048.9 1171.0,1025.6 1171.6,1042.2 1172.2,1040.7 1172.8,1053.8 1173.4,1056.9 1174.0,1028.8 1174.6,1055.5 1175.2,1040.2 1175.8,1043.5 1176.4,1038.4 1177.0,1053.2 1177.6,1023.3 1178.2,1045.4 1178.8,1059.0 1179.4,1037.1 1180.0,1071.7 1180.6,1030.2 1181.2,1044.4 1181.8,1033.8 1182.4,1031.7 1183.0,1024.2 1183.6,1032.7 1184.2,1040.0 1184.8,1028.6 1185.4,1053.8 1186.0,1063.3 1186.6,1017.5 1187.2,1052.8 1187.8,1043.0 1188.4,1043.8 1189.0,1076.9 1189.6,1058.0 1190.2,1044.8 1190.8,1042.4 1191.4,1007.2 1192.0,1051.2 1192.6,1028.2 1193.2,1041.9 1193.8,1040.6 1194.4,1053.3 1195.0,1069.2 1195.6,1053.2 1196.2,1057.3 1196.8,1034.4 1197.4,1044.5 1198.0,1048.9 1198.6,1015.5 1199.2,1067.3 1199.8,1025.6 1200.4,1016.8 1201.0,1060.0 1201.6,1066.8 1202.2,1024.0 1202.8,1024.9 1203.4,1080.2 1204.0,1034.7 1204.6,1002.6 1205.2,1022.6 1205.8,1060.7 1206.4,1039.0 1207.0,1038.5 1207.6,1043.2 1208.2,1032.4 1208.8,1014.4 1209.4,992.5 1210.0,1020.0 1210.6,993.4 1211.2,1006.2 1211.8,1030.4 1212.4,1009.1 1213.0,998.6 1213.6,995.2 1214.2,1001.4 1214.8,1000.5 1215.4,963.1 1216.0,981.9 1216.6,1001.3 1217.2,983.4 1217.8,957.5 1218.4,955.9 1219.0,932.5 1219.6,948.9 1220.2,982.4 1220.8,954.8 1221.4,940.7 1222.0,942.6 1222.6,947.3 1223.2,945.1 1223.8,939.2 1224.4,930.7 1225.0,949.5 1225.6,960.7 1226.2,926.4 1226.8,924.0 1227.4,947.1 1228.0,904.5 1228.6,914.9 1229.2,915.6 1229.8,921.6 1230.4,913.1 1231.0,902.6 1231.6,919.8 1232.2,897.2 1232.8,888.9 1233.4,884.6 1234.0,926.4 1234.6,889.2 1235.2,922.0 1235.8,925.5 1236.4,927.7 1237.0,913.1 1237.6,907.7 1238.2,917.4 1238.8,907.7 1239.4,898.3 1240.0,937.8 1240.6,907.1 1241.2,949.3 1241.8,932.1 1242.4,919.6 1243.0,935.1 1243.6,949.1 1244.2,911.9 1244.8,920.5 1245.4,920.4 1246.0,940.4 1246.6,945.9 1247.2,942.2 1247.8,932.8 1248.4,937.7 1249.0,965.3 1249.6,966.0 1250.2,952.9 1250.8,932.8 1251.4,963.3 1252.0,959.3 1252.6,959.8 1253.2,982.9 1253.8,970.2 1254.4,944.2 1255.0,945.1 1255.6,981.1 1256.2,964.3 1256.8,975.2 1257.4,961.0 1258.0,949.0 1258.6,968.7 1259.2,988.8 1259.8,971.0 1260.4,949.6 1261.0,962.5 1261.6,960.2 1262.2,970.9 1262.8,984.1 1263.4,998.9 1264.0,973.3 1264.6,964.0 1265.2,972.1 1265.8,971.6 1266.4,965.4 1267.0,972.5 1267.6,972.6 1268.2,955.3 1268.8,981.6 1269.4,968.3 1270.0,959.3 1270.6,981.8 1271.2,967.4 1271.8,1001.2 1272.4,982.4 1273.0,976.7 1273.6,964.4 1274.2,969.9 1274.8,989.0 1275.4,966.1 1276.0,988.0 1276.6,945.3 1277.2,980.0 1277.8,989.5 1278.4,982.5 1279.0,977.6 1279.6,993.0 1280.2,965.3 1280.8,963.5 1281.4,980.1 1282.0,996.7 1282.6,985.3 1283.2,976.1 1283.8,983.7 1284.4,986.0 1285.0,960.8 1285.6,937.5 1286.2,964.4 1286.8,957.4 1287.4,971.2 1288.0,962.0 1288.6,967.1 1289.2,986.6 1289.8,981.6 1290.4,979.8 1291.0,1005.0 1291.6,973.2 1292.2,974.3 1292.8,998.8 1293.4,963.0 1294.0,955.0 1294.6,998.8 1295.2,984.0 1295.8,987.7 1296.4,988.0 1297.0,991.7 1297.6,970.7 1298.2,976.4 1298.8,960.5 1299.4,979.0 1300.0,980.1 1300.6,969.4 1301.2,985.9 1301.8,1019.8 1302.4,957.7 1303.0,987.0 1303.6,988.2 1304.2,989.5 1304.8,960.9 1305.4,990.4 1306.0,981.7 1306.6,969.4 1307.2,965.6 1307.8,973.8 1308.4,983.6 1309.0,982.3 1309.6,1002.9 1310.2,962.7 1310.8,976.8 1311.4,960.5 1312.0,978.2 1312.6,967.8 1313.2,956.3 1313.8,944.8 1314.4,952.6 1315.0,967.1 1315.6,985.0 1316.2,974.0 1316.8,943.9 1317.4,954.0 1318.0,961.2 1318.6,958.2 1319.2,960.4 1319.8,970.5 1320.4,961.4 1321.0,947.3 1321.6,928.3 1322.2,951.5 1322.8,930.9 1323.4,953.1 1324.0,959.8 1324.6,934.4 1325.2,951.8 1325.8,948.3 1326.4,981.5 1327.0,959.4 1327.6,923.9 1328.2,958.6 1328.8,957.9 1329.4,948.5 1330.0,945.8 1330.6,960.3 1331.2,961.2 1331.8,957.8 1332.4,936.4 1333.0,947.5 1333.6,927.9 1334.2,928.9 1334.8,943.0 1335.4,935.7 1336.0,945.4 1336.6,988.9 1337.2,959.2 1337.8,938.6 1338.4,919.6 1339.0,939.5 1339.6,930.7 1340.2,919.4 1340.8,963.4 1341.4,945.6 1342.0,959.8 1342.6,1000.0 1343.2,958.2 1343.8,956.4 1344.4,960.5 1345.0,951.9 1345.6,944.2 1346.2,954.1 1346.8,975.1 1347.4,954.7 1348.0,939.0 1348.6,941.6 1349.2,945.7 1349.8,962.1 1350.4,970.0 1351.0,971.0 1351.6,982.6 1352.2,962.9 1352.8,979.7 1353.4,973.4 1354.0,980.5 1354.6,943.6 1355.2,991.4 1355.8,951.0 1356.4,958.8 1357.0,988.9 1357.6,972.9 1358.2,1006.7 1358.8,984.1 1359.4,967.8 1360.0,987.2 1360.6,979.2 1361.2,1013.8 1361.8,1016.4 1362.4,1002.6 1363.0,984.3 1363.6,993.8 1364.2,1011.3 1364.8,980.9 1365.4,981.9 1366.0,1010.8 1366.6,1009.7 1367.2,994.1 1367.8,994.3 1368.4,966.6 1369.0,1020.7 1369.6,999.4 1370.2,977.9 1370.8,983.8 1371.4,988.5 1372.0,1033.4 1372.6,1016.9 1373.2,983.2 1373.8,1038.1 1374.4,1030.0 1375.0,990.0 1375.6,963.4 1376.2,1025.6 1376.8,999.7 1377.4,1008.2 1378.0,1002.2 1378.6,1033.1 1379.2,1037.4 1379.8,1026.6 1380.4,1010.8 1381.0,1018.4 1381.6,1025.0 1382.2,988.2 1382.8,1036.6 1383.4,1010.6 1384.0,1021.0 1384.6,1019.4 1385.2,1033.0 1385.8,1036.2 1386.4,1056.1 1387.0,1013.1 1387.6,1004.2 1388.2,1022.3 1388.8,1009.4 1389.4,1035.6 1390.0,1007.7 1390.6,1024.1 1391.2,1038.2 1391.8,1039.9 1392.4,1026.5 1393.0,1047.4 1393.6,1045.6 1394.2,995.1 1394.8,1030.5 1395.4,1027.7 1396.0,1019.9 1396.6,1014.4 1397.2,1026.3 1397.8,1032.4 1398.4,1030.8 1399.0,1049.6 1399.6,1043.5 1400.2,1016.9 1400.8,1014.2 1401.4,1041.8 1402.0,1015.8 1402.6,1030.7 1403.2,1036.1 1403.8,1045.7 1404.4,1037.2 1405.0,1053.2 1405.6,1021.0 1406.2,1040.4 1406.8,1017.9 1407.4,1032.4 1408.0,1031.5 1408.6,1013.7 1409.2,985.3 1409.8,1045.9 1410.4,1035.9 1411.0,1032.2 1411.6,1018.0 1412.2,1024.3 1412.8,1037.7 1413.4,1030.4 1414.0,1049.8 1414.6,1032.2 1415.2,1016.3 1415.8,1040.6 1416.4,1019.5 1417.0,1034.0 1417.6,999.6 1418.2,1024.4 1418.8,1039.9 1419.4,1019.3 1420.0,1030.0 1420.6,1040.5 1421.2,1031.6 1421.8,1060.8 1422.4,1026.1 1423.0,1027.4 1423.6,1027.7 1424.2,996.9 1424.8,1004.4 1425.4,1039.5 1426.0,1024.8 1426.6,1054.0 1427.2,1029.0 1427.8,1027.4 1428.4,1047.7 1429.0,1034.9 1429.6,1057.3 1430.2,1012.0 1430.8,1037.3 1431.4,1041.3 1432.0,1039.0 1432.6,1049.1 1433.2,1046.8 1433.8,1029.8 1434.4,1019.6 1435.0,1045.6 1435.6,1029.7 1436.2,1045.0 1436.8,1051.6 1437.4,1031.9 1438.0,1013.1 1438.6,1023.9" fill="none" stroke="#4d4d4d" stroke-width="1.7" stroke-linejoin="miter" opacity="1.0"/>
<defs><path id="p12" d="M820,1066.6 L821,1066.8 L822,1067 L823,1067.2 L824,1067.4 L825,1067.6 L826,1067.8 L827,1067.9 L828,1068.1 L829,1068.3 L830,1068.5 L831,1068.7 L832,1068.9 L833,1069.1 L834,1069.2 L835,1069.4 L836,1069.6 L837,1069.8 L838,1069.9 L839,1070.1 L840,1070.3 L841,1070.4 L842,1070.6 L843,1070.8 L844,1070.9 L845,1071.1 L846,1071.2 L847,1071.4 L848,1071.5 L849,1071.7 L850,1071.8 L851,1071.9 L852,1072.1 L853,1072.2 L854,1072.3 L855,1072.4 L856,1072.6 L857,1072.7 L858,1072.8 L859,1072.9 L860,1073 L861,1073.1 L862,1073.2 L863,1073.3 L864,1073.4 L865,1073.5 L866,1073.6 L867,1073.7 L868,1073.8 L869,1073.9 L870,1074 L871,1074.1 L872,1074.2 L873,1074.3 L874,1074.4 L875,1074.5 L876,1074.6 L877,1074.7 L878,1074.8 L879,1074.9 L880,1075 L881,1075.1 L882,1075.2 L883,1075.3 L884,1075.4 L885,1075.5 L886,1075.6 L887,1075.7 L888,1075.7 L889,1075.8 L890,1075.9 L891,1076 L892,1076.1 L893,1076.2 L894,1076.2 L895,1076.3 L896,1076.4 L897,1076.4 L898,1076.5 L899,1076.6 L900,1076.6 L901,1076.7 L902,1076.8 L903,1076.8 L904,1076.9 L905,1076.9 L906,1077 L907,1077 L908,1077 L909,1077.1 L910,1077.1 L911,1077.2 L912,1077.2 L913,1077.2 L914,1077.2 L915,1077.3 L916,1077.3 L917,1077.3 L918,1077.3 L919,1077.3 L920,1077.3 L921,1077.3 L922,1077.3 L923,1077.3 L924,1077.2 L925,1077.2 L926,1077.1 L927,1077.1 L928,1077 L929,1076.9 L930,1076.8 L931,1076.7 L932,1076.6 L933,1076.5 L934,1076.4 L935,1076.3 L936,1076.2 L937,1076.1 L938,1075.9 L939,1075.8 L940,1075.7 L941,1075.5 L942,1075.4 L943,1075.3 L944,1075.1 L945,1075 L946,1074.8 L947,1074.7 L948,1074.6 L949,1074.4 L950,1074.3 L951,1074.1 L952,1074 L953,1073.9 L954,1073.7 L955,1073.6 L956,1073.5 L957,1073.3 L958,1073.2 L959,1073.1 L960,1073 L961,1072.9 L962,1072.8 L963,1072.7 L964,1072.6 L965,1072.4 L966,1072.3 L967,1072.2 L968,1072.1 L969,1072 L970,1071.9 L971,1071.7 L972,1071.6 L973,1071.5 L974,1071.4 L975,1071.3 L976,1071.2 L977,1071 L978,1070.9 L979,1070.8 L980,1070.7 L981,1070.6 L982,1070.5 L983,1070.4 L984,1070.2 L985,1070.1 L986,1070 L987,1069.9 L988,1069.8 L989,1069.7 L990,1069.6 L991,1069.5 L992,1069.4 L993,1069.3 L994,1069.3 L995,1069.2 L996,1069.1 L997,1069 L998,1068.9 L999,1068.9 L1000,1068.8 L1001,1068.7 L1002,1068.7 L1003,1068.6 L1004,1068.5 L1005,1068.5 L1006,1068.4 L1007,1068.4 L1008,1068.3 L1009,1068.2 L1010,1068.2 L1011,1068.1 L1012,1068.1 L1013,1068 L1014,1067.9 L1015,1067.9 L1016,1067.8 L1017,1067.8 L1018,1067.7 L1019,1067.7 L1020,1067.6 L1021,1067.6 L1022,1067.5 L1023,1067.5 L1024,1067.4 L1025,1067.3 L1026,1067.3 L1027,1067.2 L1028,1067.2 L1029,1067.1 L1030,1067.1 L1031,1067 L1032,1067 L1033,1066.9 L1034,1066.9 L1035,1066.9 L1036,1066.8 L1037,1066.8 L1038,1066.7 L1039,1066.7 L1040,1066.6 L1041,1066.6 L1042,1066.5 L1043,1066.5 L1044,1066.4 L1045,1066.4 L1046,1066.4 L1047,1066.3 L1048,1066.3 L1049,1066.2 L1050,1066.2 L1051,1066.2 L1052,1066.1 L1053,1066.1 L1054,1066 L1055,1066 L1056,1066 L1057,1065.9 L1058,1065.9 L1059,1065.8 L1060,1065.8 L1061,1065.8 L1062,1065.7 L1063,1065.7 L1064,1065.6 L1065,1065.6 L1066,1065.6 L1067,1065.5 L1068,1065.5 L1069,1065.5 L1070,1065.4 L1071,1065.4 L1072,1065.4 L1073,1065.3 L1074,1065.3 L1075,1065.3 L1076,1065.2 L1077,1065.2 L1078,1065.2 L1079,1065.1 L1080,1065.1 L1081,1065.1 L1082,1065 L1083,1065 L1084,1065 L1085,1064.9 L1086,1064.9 L1087,1064.9 L1088,1064.9 L1089,1064.8 L1090,1064.8 L1091,1064.8 L1092,1064.7 L1093,1064.7 L1094,1064.7 L1095,1064.6 L1096,1064.6 L1097,1064.6 L1098,1064.6 L1099,1064.5 L1100,1064.5 L1101,1064.5 L1102,1064.4 L1103,1064.4 L1104,1064.4 L1105,1064.4 L1106,1064.3 L1107,1064.3 L1108,1064.3 L1109,1064.3 L1110,1064.3 L1111,1064.2 L1112,1064.2 L1113,1064.2 L1114,1064.2 L1115,1064.2 L1116,1064.1 L1117,1064.1 L1118,1064.1 L1119,1064.1 L1120,1064.1 L1121,1064 L1122,1064 L1123,1064 L1124,1064 L1125,1064 L1126,1064 L1127,1064 L1128,1063.9 L1129,1063.9 L1130,1063.9 L1131,1063.9 L1132,1063.9 L1133,1063.9 L1134,1063.9 L1135,1063.8 L1136,1063.8 L1137,1063.8 L1138,1063.8 L1139,1063.8 L1140,1063.8 L1141,1063.8 L1142,1063.8 L1143,1063.7 L1144,1063.7 L1145,1063.7 L1146,1063.7 L1147,1063.7 L1148,1063.7 L1149,1063.7 L1150,1063.7 L1151,1063.6 L1152,1063.6 L1153,1063.6 L1154,1063.6 L1155,1063.6 L1156,1063.6 L1157,1063.6 L1158,1063.5 L1159,1063.5 L1160,1063.5 L1161,1063.5 L1162,1063.5 L1163,1063.5 L1164,1063.4 L1165,1063.4 L1166,1063.4 L1167,1063.4 L1168,1063.4 L1169,1063.4 L1170,1063.3 L1171,1063.3 L1172,1063.3 L1173,1063.3 L1174,1063.2 L1175,1063.2 L1176,1063.2 L1177,1063.2 L1178,1063.2 L1179,1063.1 L1180,1063.1 L1181,1063.1 L1182,1063 L1183,1063 L1184,1063 L1185,1063 L1186,1062.9 L1187,1062.9 L1188,1062.9 L1189,1062.8 L1190,1062.8 L1191,1062.8 L1192,1062.7 L1193,1062.7 L1194,1062.6 L1195,1062.6 L1196,1062.6 L1197,1062.5 L1198,1062.5 L1199,1062.4 L1200,1062.4 L1201,1062.3 L1202,1062.3 L1203,1062.1 L1204,1062 L1205,1061.9 L1206,1061.7 L1207,1061.5 L1208,1061.3 L1209,1061.1 L1210,1060.8 L1211,1060.6 L1212,1060.3 L1213,1060.1 L1214,1059.8 L1215,1059.5 L1216,1059.3 L1217,1059 L1218,1058.7 L1219,1058.4 L1220,1058.2 L1221,1057.9 L1222,1057.6 L1223,1057.4 L1224,1057.1 L1225,1056.9 L1226,1056.7 L1227,1056.5 L1228,1056.3 L1229,1056.1 L1230,1056 L1231,1055.9 L1232,1055.7 L1233,1055.6 L1234,1055.5 L1235,1055.4 L1236,1055.2 L1237,1055.1 L1238,1055 L1239,1054.9 L1240,1054.8 L1241,1054.6 L1242,1054.5 L1243,1054.4 L1244,1054.3 L1245,1054.2 L1246,1054.1 L1247,1054 L1248,1053.9 L1249,1053.8 L1250,1053.7 L1251,1053.6 L1252,1053.5 L1253,1053.4 L1254,1053.3 L1255,1053.2 L1256,1053.1 L1257,1053 L1258,1053 L1259,1052.9 L1260,1052.8 L1261,1052.7 L1262,1052.6 L1263,1052.5 L1264,1052.4 L1265,1052.4 L1266,1052.3 L1267,1052.2 L1268,1052.1 L1269,1052 L1270,1052 L1271,1051.9 L1272,1051.8 L1273,1051.7 L1274,1051.6 L1275,1051.6 L1276,1051.5 L1277,1051.4 L1278,1051.3 L1279,1051.3 L1280,1051.2 L1281,1051.1 L1282,1051 L1283,1051 L1284,1050.9 L1285,1050.8 L1286,1050.7 L1287,1050.6 L1288,1050.6 L1289,1050.5 L1290,1050.4 L1291,1050.3 L1292,1050.3 L1293,1050.2 L1294,1050.1 L1295,1050 L1296,1049.9 L1297,1049.9 L1298,1049.8 L1299,1049.7 L1300,1049.6 L1301,1049.5 L1302,1049.4 L1303,1049.3 L1304,1049.3 L1305,1049.2 L1306,1049.1 L1307,1049 L1308,1048.9 L1309,1048.8 L1310,1048.8 L1311,1048.7 L1312,1048.6 L1313,1048.5 L1314,1048.4 L1315,1048.4 L1316,1048.3 L1317,1048.2 L1318,1048.1 L1319,1048 L1320,1047.9 L1321,1047.9 L1322,1047.8 L1323,1047.7 L1324,1047.6 L1325,1047.5 L1326,1047.5 L1327,1047.4 L1328,1047.3 L1329,1047.2 L1330,1047.1 L1331,1047.1 L1332,1047 L1333,1046.9 L1334,1046.8 L1335,1046.7 L1336,1046.7 L1337,1046.6 L1338,1046.5 L1339,1046.4 L1340,1046.4 L1341,1046.3 L1342,1046.2 L1343,1046.1 L1344,1046 L1345,1046 L1346,1045.9 L1347,1045.8 L1348,1045.7 L1349,1045.7 L1350,1045.6 L1351,1045.5 L1352,1045.4 L1353,1045.3 L1354,1045.3 L1355,1045.2 L1356,1045.1 L1357,1045 L1358,1045 L1359,1044.9 L1360,1044.8 L1361,1044.7 L1362,1044.7 L1363,1044.6 L1364,1044.5 L1365,1044.4 L1366,1044.4 L1367,1044.3 L1368,1044.2 L1369,1044.1 L1370,1044.1 L1371,1044 L1372,1043.9 L1373,1043.8 L1374,1043.8 L1375,1043.7 L1376,1043.6 L1377,1043.5 L1378,1043.4 L1379,1043.4 L1380,1043.3 L1381,1043.2 L1382,1043.2 L1383,1043.1 L1384,1043 L1385,1042.9 L1386,1042.9 L1387,1042.8 L1388,1042.7 L1389,1042.6 L1390,1042.6 L1391,1042.5 L1392,1042.4 L1393,1042.3 L1394,1042.3 L1395,1042.2 L1396,1042.1 L1397,1042 L1398,1042 L1399,1041.9 L1400,1041.8 L1401,1041.8 L1402,1041.7 L1403,1041.6 L1404,1041.5 L1405,1041.5 L1406,1041.4 L1407,1041.3 L1408,1041.2 L1409,1041.2 L1410,1041.1 L1411,1041 L1412,1041 L1413,1040.9 L1414,1040.8 L1415,1040.7 L1416,1040.7 L1417,1040.6 L1418,1040.5 L1419,1040.5 L1420,1040.4 L1421,1040.3 L1422,1040.3 L1423,1040.2 L1424,1040.1 L1425,1040 L1426,1040 L1427,1039.9 L1428,1039.8 L1429,1039.8 L1430,1039.7 L1431,1039.6 L1432,1039.6 L1433,1039.5 L1434,1039.4 L1435,1039.3 L1436,1039.3 L1437,1039.2 L1438,1039.1 L1439,1039.1 L1440,1039" fill="none" stroke="#ee5555" stroke-linejoin="round"/></defs>
<use href="#p12" stroke-width="3.6" opacity="0.22"/>
<use href="#p12" stroke-width="1.6" opacity="1"/>
<line x1="993.7" y1="841.6" x2="1032.6" y2="792.9" stroke="#333" stroke-width="1.4"/>
<polygon points="1037.6,786.6 1034.5,795.6 1029.5,791.6" fill="#111"/>
<line x1="1254.8" y1="928" x2="1294.9" y2="878.9" stroke="#333" stroke-width="1.4"/>
<polygon points="1300,872.7 1296.8,881.7 1291.8,877.6" fill="#111"/>
<text transform="translate(1040.2,770.8) scale(0.8,1)" x="0" y="0" font-size="21.98" fill="#444" textLength="90.5" lengthAdjust="spacing">Ni 2p 3/2</text>
<text transform="translate(1312.2,861.6) scale(0.8,1)" x="0" y="0" font-size="20.00" fill="#444" textLength="89.7" lengthAdjust="spacing">Ni 2p 1/2</text>
<text x="876.5" y="777.6" font-size="42" fill="#222" text-anchor="start" stroke="#222" stroke-width="0.7">d</text>
<text transform="translate(804.3,1198.6) scale(0.82,1)" x="0" y="0" font-size="22.63" fill="#505050" textLength="36.6" lengthAdjust="spacing">845</text>
<text transform="translate(951.9,1198.6) scale(0.82,1)" x="0" y="0" font-size="22.63" fill="#505050" textLength="36.6" lengthAdjust="spacing">855</text>
<text transform="translate(1099.5,1198.6) scale(0.82,1)" x="0" y="0" font-size="22.63" fill="#505050" textLength="36.6" lengthAdjust="spacing">865</text>
<text transform="translate(1247.2,1198.6) scale(0.82,1)" x="0" y="0" font-size="22.63" fill="#505050" textLength="36.6" lengthAdjust="spacing">875</text>
<text transform="translate(1394.8,1198.6) scale(0.82,1)" x="0" y="0" font-size="22.63" fill="#505050" textLength="36.6" lengthAdjust="spacing">885</text>
<text transform="translate(1023.2,1238.0) scale(0.74,1)" x="0" y="0" font-size="26.3" font-weight="bold" fill="#5e5e5e" textLength="282.2" lengthAdjust="spacing">Binding energy(eV)</text>
<text transform="translate(779.2,982.4) rotate(-90) scale(0.8,1)" x="0" y="0" font-size="26.56" fill="#444" textLength="178.9" lengthAdjust="spacing">Intensity(a.u.)</text>
<rect x="817" y="682.1" width="625" height="1.9" fill="#c8c8c8"/>
<rect x="817" y="684" width="625" height="2.5" fill="#828282"/>
<rect x="817" y="1166.9" width="625" height="1.9" fill="#5c5c5c"/>
<rect x="817" y="682" width="2" height="487" fill="#cccccc"/>
<rect x="819" y="682" width="1.9" height="487" fill="#777777"/>
<rect x="1437.1" y="682" width="1.9" height="487" fill="#d4d4d4"/>
<rect x="1439" y="682" width="3" height="487" fill="#787878"/>
<rect x="818.3" y="1167.8" width="2" height="10" fill="#666666"/>
<rect x="892.1" y="1167.8" width="2" height="6" fill="#666666"/>
<rect x="965.9" y="1167.8" width="2" height="10" fill="#666666"/>
<rect x="1039.7" y="1167.8" width="2" height="6" fill="#666666"/>
<rect x="1113.5" y="1167.8" width="2" height="10" fill="#666666"/>
<rect x="1187.4" y="1167.8" width="2" height="6" fill="#666666"/>
<rect x="1261.2" y="1167.8" width="2" height="10" fill="#666666"/>
<rect x="1335" y="1167.8" width="2" height="6" fill="#666666"/>
<rect x="1408.8" y="1167.8" width="2" height="10" fill="#666666"/>
<defs><path id="p13" d="M85,1763 L86,1763 L87,1763 L88,1763 L89,1762.9 L90,1762.9 L91,1762.9 L92,1762.9 L93,1762.9 L94,1762.9 L95,1762.8 L96,1762.8 L97,1762.8 L98,1762.8 L99,1762.8 L100,1762.8 L101,1762.7 L102,1762.7 L103,1762.7 L104,1762.7 L105,1762.7 L106,1762.7 L107,1762.6 L108,1762.6 L109,1762.6 L110,1762.6 L111,1762.6 L112,1762.6 L113,1762.6 L114,1762.5 L115,1762.5 L116,1762.5 L117,1762.5 L118,1762.5 L119,1762.5 L120,1762.4 L121,1762.4 L122,1762.4 L123,1762.4 L124,1762.4 L125,1762.4 L126,1762.3 L127,1762.3 L128,1762.3 L129,1762.3 L130,1762.3 L131,1762.3 L132,1762.2 L133,1762.2 L134,1762.2 L135,1762.2 L136,1762.2 L137,1762.2 L138,1762.1 L139,1762.1 L140,1762.1 L141,1762.1 L142,1762.1 L143,1762.1 L144,1762.1 L145,1762 L146,1762 L147,1762 L148,1762 L149,1762 L150,1762 L151,1761.9 L152,1761.9 L153,1761.9 L154,1761.9 L155,1761.9 L156,1761.9 L157,1761.8 L158,1761.8 L159,1761.8 L160,1761.8 L161,1761.8 L162,1761.8 L163,1761.7 L164,1761.7 L165,1761.7 L166,1761.7 L167,1761.7 L168,1761.7 L169,1761.7 L170,1761.6 L171,1761.6 L172,1761.6 L173,1761.6 L174,1761.6 L175,1761.6 L176,1761.5 L177,1761.5 L178,1761.5 L179,1761.5 L180,1761.5 L181,1761.5 L182,1761.4 L183,1761.4 L184,1761.4 L185,1761.4 L186,1761.4 L187,1761.4 L188,1761.3 L189,1761.3 L190,1761.3 L191,1761.3 L192,1761.3 L193,1761.3 L194,1761.3 L195,1761.2 L196,1761.2 L197,1761.2 L198,1761.2 L199,1761.2 L200,1761.2 L201,1761.1 L202,1761.1 L203,1761.1 L204,1761.1 L205,1761.1 L206,1761.1 L207,1761 L208,1761 L209,1761 L210,1761 L211,1761 L212,1761 L213,1760.9 L214,1760.9 L215,1760.9 L216,1760.9 L217,1760.9 L218,1760.9 L219,1760.9 L220,1760.8 L221,1760.8 L222,1760.8 L223,1760.8 L224,1760.8 L225,1760.8 L226,1760.7 L227,1760.7 L228,1760.7 L229,1760.7 L230,1760.7 L231,1760.7 L232,1760.6 L233,1760.6 L234,1760.6 L235,1760.6 L236,1760.6 L237,1760.6 L238,1760.5 L239,1760.5 L240,1760.5 L241,1760.5 L242,1760.5 L243,1760.5 L244,1760.4 L245,1760.4 L246,1760.4 L247,1760.4 L248,1760.4 L249,1760.4 L250,1760.4 L251,1760.3 L252,1760.3 L253,1760.3 L254,1760.3 L255,1760.3 L256,1760.3 L257,1760.2 L258,1760.2 L259,1760.2 L260,1760.2 L261,1760.2 L262,1760.2 L263,1760.1 L264,1760.1 L265,1760.1 L266,1760.1 L267,1760.1 L268,1760.1 L269,1760 L270,1760 L271,1760 L272,1760 L273,1760 L274,1760 L275,1760 L276,1759.9 L277,1759.9 L278,1759.9 L279,1759.9 L280,1759.9 L281,1759.9 L282,1759.8 L283,1759.8 L284,1759.8 L285,1759.8 L286,1759.8 L287,1759.8 L288,1759.7 L289,1759.7 L290,1759.7 L291,1759.7 L292,1759.7 L293,1759.7 L294,1759.6 L295,1759.6 L296,1759.6 L297,1759.6 L298,1759.6 L299,1759.6 L300,1759.6 L301,1759.5 L302,1759.5 L303,1759.5 L304,1759.5 L305,1759.5 L306,1759.5 L307,1759.4 L308,1759.4 L309,1759.4 L310,1759.4 L311,1759.4 L312,1759.4 L313,1759.3 L314,1759.3 L315,1759.3 L316,1759.3 L317,1759.3 L318,1759.3 L319,1759.2 L320,1759.2 L321,1759.2 L322,1759.2 L323,1759.2 L324,1759.2 L325,1759.1 L326,1759.1 L327,1759.1 L328,1759.1 L329,1759.1 L330,1759.1 L331,1759.1 L332,1759 L333,1759 L334,1759 L335,1759 L336,1759 L337,1759 L338,1758.9 L339,1758.9 L340,1758.9 L341,1758.9 L342,1758.9 L343,1758.9 L344,1758.8 L345,1758.8 L346,1758.8 L347,1758.8 L348,1758.8 L349,1758.8 L350,1758.7 L351,1758.7 L352,1758.7 L353,1758.7 L354,1758.7 L355,1758.7 L356,1758.7 L357,1758.6 L358,1758.6 L359,1758.6 L360,1758.6 L361,1758.6 L362,1758.6 L363,1758.5 L364,1758.5 L365,1758.5 L366,1758.5 L367,1758.5 L368,1758.5 L369,1758.4 L370,1758.4 L371,1758.4 L372,1758.4 L373,1758.4 L374,1758.4 L375,1758.3 L376,1758.3 L377,1758.3 L378,1758.3 L379,1758.3 L380,1758.3 L381,1758.3 L382,1758.2 L383,1758.2 L384,1758.2 L385,1758.2 L386,1758.2 L387,1758.2 L388,1758.1 L389,1758.1 L390,1758.1 L391,1758.1 L392,1758.1 L393,1758.1 L394,1758 L395,1758 L396,1758 L397,1758 L398,1758 L399,1758 L400,1757.9 L401,1757.9 L402,1757.9 L403,1757.9 L404,1757.9 L405,1757.9 L406,1757.9 L407,1757.8 L408,1757.8 L409,1757.8 L410,1757.8 L411,1757.8 L412,1757.8 L413,1757.7 L414,1757.7 L415,1757.7 L416,1757.7 L417,1757.7 L418,1757.7 L419,1757.6 L420,1757.6 L421,1757.6 L422,1757.6 L423,1757.6 L424,1757.6 L425,1757.5 L426,1757.5 L427,1757.5 L428,1757.5 L429,1757.5 L430,1757.5 L431,1757.4 L432,1757.4 L433,1757.4 L434,1757.4 L435,1757.4 L436,1757.4 L437,1757.4 L438,1757.3 L439,1757.3 L440,1757.3 L441,1757.3 L442,1757.3 L443,1757.3 L444,1757.2 L445,1757.2 L446,1757.2 L447,1757.2 L448,1757.2 L449,1757.2 L450,1757.1 L451,1757.1 L452,1757.1 L453,1757.1 L454,1757.1 L455,1757.1 L456,1757 L457,1757 L458,1757 L459,1757 L460,1757 L461,1757 L462,1757 L463,1756.9 L464,1756.9 L465,1756.9 L466,1756.9 L467,1756.9 L468,1756.9 L469,1756.8 L470,1756.8 L471,1756.8 L472,1756.8 L473,1756.8 L474,1756.8 L475,1756.7 L476,1756.7 L477,1756.7 L478,1756.7 L479,1756.7 L480,1756.7 L481,1756.6 L482,1756.6 L483,1756.6 L484,1756.6 L485,1756.6 L486,1756.6 L487,1756.6 L488,1756.5 L489,1756.5 L490,1756.5 L491,1756.5 L492,1756.5 L493,1756.5 L494,1756.4 L495,1756.4 L496,1756.4 L497,1756.4 L498,1756.4 L499,1756.4 L500,1756.3 L501,1756.3 L502,1756.3 L503,1756.3 L504,1756.3 L505,1756.3 L506,1756.2 L507,1756.2 L508,1756.2 L509,1756.2 L510,1756.2 L511,1756.2 L512,1756.1 L513,1756.1 L514,1756.1 L515,1756.1 L516,1756.1 L517,1756.1 L518,1756.1 L519,1756 L520,1756 L521,1756 L522,1756 L523,1756 L524,1756 L525,1755.9 L526,1755.9 L527,1755.9 L528,1755.9 L529,1755.9 L530,1755.9 L531,1755.8 L532,1755.8 L533,1755.8 L534,1755.8 L535,1755.8 L536,1755.8 L537,1755.7 L538,1755.7 L539,1755.7 L540,1755.7 L541,1755.7 L542,1755.7 L543,1755.7 L544,1755.6 L545,1755.6 L546,1755.6 L547,1755.6 L548,1755.6 L549,1755.6 L550,1755.5 L551,1755.5 L552,1755.5 L553,1755.5 L554,1755.5 L555,1755.5 L556,1755.4 L557,1755.4 L558,1755.4 L559,1755.4 L560,1755.4 L561,1755.4 L562,1755.3 L563,1755.3 L564,1755.3 L565,1755.3 L566,1755.3 L567,1755.3 L568,1755.3 L569,1755.2 L570,1755.2 L571,1755.2 L572,1755.2 L573,1755.2 L574,1755.2 L575,1755.1 L576,1755.1 L577,1755.1 L578,1755.1 L579,1755.1 L580,1755.1 L581,1755 L582,1755 L583,1755 L584,1755 L585,1755 L586,1755 L587,1754.9 L588,1754.9 L589,1754.9 L590,1754.9 L591,1754.9 L592,1754.9 L593,1754.9 L594,1754.8 L595,1754.8 L596,1754.8 L597,1754.8 L598,1754.8 L599,1754.8 L600,1754.7 L601,1754.7 L602,1754.7 L603,1754.7 L604,1754.7 L605,1754.7 L606,1754.6 L607,1754.6 L608,1754.6 L609,1754.6 L610,1754.6 L611,1754.6 L612,1754.5 L613,1754.5 L614,1754.5 L615,1754.5 L616,1754.5 L617,1754.5 L618,1754.4 L619,1754.4 L620,1754.4 L621,1754.4 L622,1754.4 L623,1754.4 L624,1754.4 L625,1754.3 L626,1754.3 L627,1754.3 L628,1754.3 L629,1754.3 L630,1754.3 L631,1754.2 L632,1754.2 L633,1754.2 L634,1754.2 L635,1754.2 L636,1754.2 L637,1754.1 L638,1754.1 L639,1754.1 L640,1754.1 L641,1754.1 L642,1754.1 L643,1754 L644,1754 L645,1754 L646,1754" fill="none" stroke="#ee5555" stroke-linejoin="round"/></defs>
<use href="#p13" stroke-width="4" opacity="0.22"/>
<use href="#p13" stroke-width="2" opacity="1"/>
<defs><path id="p14" d="M85,1762.9 L86,1762.8 L87,1762.8 L88,1762.8 L89,1762.8 L90,1762.7 L91,1762.7 L92,1762.7 L93,1762.7 L94,1762.7 L95,1762.6 L96,1762.6 L97,1762.6 L98,1762.6 L99,1762.6 L100,1762.5 L101,1762.5 L102,1762.5 L103,1762.5 L104,1762.4 L105,1762.4 L106,1762.4 L107,1762.4 L108,1762.4 L109,1762.3 L110,1762.3 L111,1762.3 L112,1762.3 L113,1762.2 L114,1762.2 L115,1762.2 L116,1762.2 L117,1762.2 L118,1762.1 L119,1762.1 L120,1762.1 L121,1762.1 L122,1762 L123,1762 L124,1762 L125,1762 L126,1762 L127,1761.9 L128,1761.9 L129,1761.9 L130,1761.9 L131,1761.8 L132,1761.8 L133,1761.8 L134,1761.8 L135,1761.8 L136,1761.7 L137,1761.7 L138,1761.7 L139,1761.7 L140,1761.6 L141,1761.6 L142,1761.6 L143,1761.6 L144,1761.5 L145,1761.5 L146,1761.5 L147,1761.5 L148,1761.5 L149,1761.4 L150,1761.4 L151,1761.4 L152,1761.4 L153,1761.3 L154,1761.3 L155,1761.3 L156,1761.3 L157,1761.2 L158,1761.2 L159,1761.2 L160,1761.2 L161,1761.1 L162,1761.1 L163,1761.1 L164,1761.1 L165,1761 L166,1761 L167,1761 L168,1761 L169,1760.9 L170,1760.9 L171,1760.9 L172,1760.9 L173,1760.8 L174,1760.8 L175,1760.8 L176,1760.8 L177,1760.7 L178,1760.7 L179,1760.7 L180,1760.7 L181,1760.6 L182,1760.6 L183,1760.6 L184,1760.6 L185,1760.5 L186,1760.5 L187,1760.5 L188,1760.5 L189,1760.4 L190,1760.4 L191,1760.4 L192,1760.4 L193,1760.3 L194,1760.3 L195,1760.3 L196,1760.3 L197,1760.2 L198,1760.2 L199,1760.2 L200,1760.1 L201,1760.1 L202,1760.1 L203,1760.1 L204,1760 L205,1760 L206,1760 L207,1760 L208,1759.9 L209,1759.9 L210,1759.9 L211,1759.8 L212,1759.8 L213,1759.8 L214,1759.8 L215,1759.7 L216,1759.7 L217,1759.7 L218,1759.6 L219,1759.6 L220,1759.6 L221,1759.6 L222,1759.5 L223,1759.5 L224,1759.5 L225,1759.4 L226,1759.4 L227,1759.4 L228,1759.3 L229,1759.3 L230,1759.3 L231,1759.2 L232,1759.2 L233,1759.2 L234,1759.2 L235,1759.1 L236,1759.1 L237,1759.1 L238,1759 L239,1759 L240,1759 L241,1758.9 L242,1758.9 L243,1758.9 L244,1758.8 L245,1758.8 L246,1758.8 L247,1758.7 L248,1758.7 L249,1758.7 L250,1758.6 L251,1758.6 L252,1758.6 L253,1758.5 L254,1758.5 L255,1758.5 L256,1758.4 L257,1758.4 L258,1758.4 L259,1758.3 L260,1758.3 L261,1758.3 L262,1758.2 L263,1758.2 L264,1758.1 L265,1758.1 L266,1758.1 L267,1758 L268,1758 L269,1758 L270,1757.9 L271,1757.9 L272,1757.9 L273,1757.8 L274,1757.8 L275,1757.7 L276,1757.7 L277,1757.7 L278,1757.6 L279,1757.6 L280,1757.5 L281,1757.5 L282,1757.5 L283,1757.4 L284,1757.4 L285,1757.3 L286,1757.3 L287,1757.3 L288,1757.2 L289,1757.2 L290,1757.1 L291,1757.1 L292,1757 L293,1757 L294,1757 L295,1756.9 L296,1756.9 L297,1756.8 L298,1756.8 L299,1756.7 L300,1756.7 L301,1756.6 L302,1756.6 L303,1756.5 L304,1756.5 L305,1756.4 L306,1756.4 L307,1756.4 L308,1756.3 L309,1756.3 L310,1756.2 L311,1756.2 L312,1756.1 L313,1756.1 L314,1756 L315,1756 L316,1755.9 L317,1755.9 L318,1755.8 L319,1755.7 L320,1755.7 L321,1755.6 L322,1755.6 L323,1755.5 L324,1755.5 L325,1755.4 L326,1755.4 L327,1755.3 L328,1755.3 L329,1755.2 L330,1755.1 L331,1755.1 L332,1755 L333,1755 L334,1754.9 L335,1754.8 L336,1754.8 L337,1754.7 L338,1754.7 L339,1754.6 L340,1754.5 L341,1754.5 L342,1754.4 L343,1754.3 L344,1754.3 L345,1754.2 L346,1754.1 L347,1754.1 L348,1754 L349,1753.9 L350,1753.9 L351,1753.8 L352,1753.7 L353,1753.7 L354,1753.6 L355,1753.5 L356,1753.5 L357,1753.4 L358,1753.3 L359,1753.2 L360,1753.2 L361,1753.1 L362,1753 L363,1752.9 L364,1752.8 L365,1752.8 L366,1752.7 L367,1752.6 L368,1752.5 L369,1752.4 L370,1752.4 L371,1752.3 L372,1752.2 L373,1752.1 L374,1752 L375,1751.9 L376,1751.9 L377,1751.8 L378,1751.7 L379,1751.6 L380,1751.5 L381,1751.5 L382,1751.4 L383,1751.4 L384,1751.3 L385,1751.3 L386,1751.3 L387,1751.2 L388,1751.2 L389,1751.2 L390,1751.2 L391,1751.2 L392,1751.1 L393,1751.1 L394,1751.1 L395,1751.1 L396,1751.1 L397,1751 L398,1751 L399,1751 L400,1750.9 L401,1750.9 L402,1750.9 L403,1750.8 L404,1750.8 L405,1750.7 L406,1750.7 L407,1750.6 L408,1750.6 L409,1750.5 L410,1750.5 L411,1750.4 L412,1750.4 L413,1750.3 L414,1750.2 L415,1750.2 L416,1750.1 L417,1750 L418,1749.9 L419,1749.8 L420,1749.7 L421,1749.6 L422,1749.5 L423,1749.3 L424,1749.1 L425,1748.9 L426,1748.7 L427,1748.4 L428,1748 L429,1747.7 L430,1747.4 L431,1747 L432,1746.6 L433,1746.2 L434,1745.8 L435,1745.4 L436,1745 L437,1744.5 L438,1743.9 L439,1743.3 L440,1742.7 L441,1742 L442,1741.4 L443,1740.8 L444,1740.2 L445,1739.6 L446,1738.9 L447,1738.3 L448,1737.6 L449,1737 L450,1736.4 L451,1735.9 L452,1735.5 L453,1735.2 L454,1734.9 L455,1734.6 L456,1734.3 L457,1734.1 L458,1734 L459,1733.9 L460,1733.9 L461,1734.1 L462,1734.4 L463,1734.7 L464,1735.1 L465,1735.5 L466,1736 L467,1736.6 L468,1737.3 L469,1738.2 L470,1739.2 L471,1740.1 L472,1740.9 L473,1741.5 L474,1742 L475,1742.5 L476,1743 L477,1743.4 L478,1743.9 L479,1744.3 L480,1744.6 L481,1745 L482,1745.4 L483,1745.7 L484,1746.1 L485,1746.4 L486,1746.7 L487,1747 L488,1747.3 L489,1747.6 L490,1747.9 L491,1748.2 L492,1748.5 L493,1748.7 L494,1749 L495,1749.3 L496,1749.6 L497,1749.9 L498,1750.2 L499,1750.4 L500,1750.7 L501,1750.9 L502,1751.1 L503,1751.3 L504,1751.5 L505,1751.7 L506,1751.8 L507,1752 L508,1752.1 L509,1752.2 L510,1752.4 L511,1752.5 L512,1752.6 L513,1752.7 L514,1752.8 L515,1752.9 L516,1752.9 L517,1753 L518,1753.1 L519,1753.1 L520,1753.2 L521,1753.3 L522,1753.3 L523,1753.4 L524,1753.4 L525,1753.4 L526,1753.5 L527,1753.5 L528,1753.5 L529,1753.6 L530,1753.6 L531,1753.6 L532,1753.6 L533,1753.6 L534,1753.7 L535,1753.7 L536,1753.7 L537,1753.7 L538,1753.7 L539,1753.7 L540,1753.7 L541,1753.7 L542,1753.7 L543,1753.7 L544,1753.7 L545,1753.7 L546,1753.7 L547,1753.7 L548,1753.7 L549,1753.7 L550,1753.7 L551,1753.7 L552,1753.7 L553,1753.6 L554,1753.6 L555,1753.6 L556,1753.6 L557,1753.6 L558,1753.6 L559,1753.6 L560,1753.6 L561,1753.6 L562,1753.5 L563,1753.5 L564,1753.5 L565,1753.5 L566,1753.5 L567,1753.5 L568,1753.5 L569,1753.4 L570,1753.4 L571,1753.4 L572,1753.4 L573,1753.4 L574,1753.4 L575,1753.3 L576,1753.3 L577,1753.3 L578,1753.3 L579,1753.3 L580,1753.3 L581,1753.2 L582,1753.2 L583,1753.2 L584,1753.2 L585,1753.2 L586,1753.2 L587,1753.1 L588,1753.1 L589,1753.1 L590,1753.1 L591,1753.1 L592,1753 L593,1753 L594,1753 L595,1753 L596,1753 L597,1752.9 L598,1752.9 L599,1752.9 L600,1752.9 L601,1752.9 L602,1752.9 L603,1752.8 L604,1752.8 L605,1752.8 L606,1752.8 L607,1752.8 L608,1752.7 L609,1752.7 L610,1752.7 L611,1752.7 L612,1752.7 L613,1752.6 L614,1752.6 L615,1752.6 L616,1752.6 L617,1752.6 L618,1752.5 L619,1752.5 L620,1752.5 L621,1752.5 L622,1752.5 L623,1752.4 L624,1752.4 L625,1752.4 L626,1752.4 L627,1752.4 L628,1752.4 L629,1752.3 L630,1752.3 L631,1752.3 L632,1752.3 L633,1752.3 L634,1752.2 L635,1752.2 L636,1752.2 L637,1752.2 L638,1752.2 L639,1752.1 L640,1752.1 L641,1752.1 L642,1752.1 L643,1752.1 L644,1752 L645,1752" fill="none" stroke="#2272e0" stroke-linejoin="round"/></defs>
<use href="#p14" stroke-width="4" opacity="0.22"/>
<use href="#p14" stroke-width="2" opacity="1"/>
<defs><path id="p15" d="M140,1761.1 L141,1761.1 L142,1761.1 L143,1761.1 L144,1761.1 L145,1761 L146,1761 L147,1761 L148,1761 L149,1761 L150,1761 L151,1760.9 L152,1760.9 L153,1760.9 L154,1760.9 L155,1760.9 L156,1760.9 L157,1760.8 L158,1760.8 L159,1760.8 L160,1760.8 L161,1760.8 L162,1760.8 L163,1760.7 L164,1760.7 L165,1760.7 L166,1760.7 L167,1760.7 L168,1760.7 L169,1760.7 L170,1760.6 L171,1760.6 L172,1760.6 L173,1760.6 L174,1760.6 L175,1760.6 L176,1760.5 L177,1760.5 L178,1760.5 L179,1760.5 L180,1760.5 L181,1760.5 L182,1760.4 L183,1760.4 L184,1760.4 L185,1760.4 L186,1760.4 L187,1760.4 L188,1760.3 L189,1760.3 L190,1760.3 L191,1760.3 L192,1760.3 L193,1760.3 L194,1760.2 L195,1760.2 L196,1760.2 L197,1760.2 L198,1760.2 L199,1760.2 L200,1760.1 L201,1760.1 L202,1760.1 L203,1760.1 L204,1760.1 L205,1760.1 L206,1760 L207,1760 L208,1760 L209,1760 L210,1760 L211,1760 L212,1759.9 L213,1759.9 L214,1759.9 L215,1759.9 L216,1759.9 L217,1759.9 L218,1759.8 L219,1759.8 L220,1759.8 L221,1759.8 L222,1759.8 L223,1759.8 L224,1759.7 L225,1759.7 L226,1759.7 L227,1759.7 L228,1759.7 L229,1759.7 L230,1759.6 L231,1759.6 L232,1759.6 L233,1759.6 L234,1759.6 L235,1759.5 L236,1759.5 L237,1759.5 L238,1759.5 L239,1759.5 L240,1759.5 L241,1759.4 L242,1759.4 L243,1759.4 L244,1759.4 L245,1759.4 L246,1759.3 L247,1759.3 L248,1759.3 L249,1759.3 L250,1759.2 L251,1759.2 L252,1759.2 L253,1759.2 L254,1759.2 L255,1759.1 L256,1759.1 L257,1759.1 L258,1759.1 L259,1759 L260,1759 L261,1759 L262,1759 L263,1758.9 L264,1758.9 L265,1758.9 L266,1758.9 L267,1758.8 L268,1758.8 L269,1758.8 L270,1758.7 L271,1758.7 L272,1758.7 L273,1758.6 L274,1758.6 L275,1758.6 L276,1758.5 L277,1758.5 L278,1758.4 L279,1758.4 L280,1758.3 L281,1758.3 L282,1758.3 L283,1758.2 L284,1758.2 L285,1758.1 L286,1758 L287,1758 L288,1757.9 L289,1757.9 L290,1757.8 L291,1757.7 L292,1757.7 L293,1757.6 L294,1757.5 L295,1757.4 L296,1757.4 L297,1757.3 L298,1757.2 L299,1757.1 L300,1757 L301,1756.9 L302,1756.8 L303,1756.7 L304,1756.6 L305,1756.5 L306,1756.5 L307,1756.4 L308,1756.3 L309,1756.2 L310,1756.1 L311,1756.1 L312,1756 L313,1755.9 L314,1755.8 L315,1755.8 L316,1755.7 L317,1755.6 L318,1755.5 L319,1755.4 L320,1755.4 L321,1755.3 L322,1755.2 L323,1755.1 L324,1755 L325,1754.9 L326,1754.8 L327,1754.7 L328,1754.6 L329,1754.5 L330,1754.4 L331,1754.3 L332,1754.2 L333,1754 L334,1753.9 L335,1753.8 L336,1753.6 L337,1753.5 L338,1753.3 L339,1753.2 L340,1753 L341,1752.8 L342,1752.6 L343,1752.4 L344,1752.1 L345,1751.8 L346,1751.5 L347,1751.2 L348,1750.9 L349,1750.5 L350,1750.1 L351,1749.7 L352,1749.3 L353,1748.9 L354,1748.4 L355,1748 L356,1747.5 L357,1747 L358,1746.5 L359,1746 L360,1745.5 L361,1745 L362,1744.4 L363,1743.8 L364,1743.1 L365,1742.5 L366,1741.7 L367,1741 L368,1740.1 L369,1739.3 L370,1738.4 L371,1737.4 L372,1736.4 L373,1735.3 L374,1734.1 L375,1732.8 L376,1731.2 L377,1729.4 L378,1727.5 L379,1725.5 L380,1723.5 L381,1721.3 L382,1719.2 L383,1717 L384,1714.7 L385,1712.3 L386,1709.7 L387,1707 L388,1703.9 L389,1700.5 L390,1696.2 L391,1691.3 L392,1686.7 L393,1682.9 L394,1679.6 L395,1676.6 L396,1673.8 L397,1671.4 L398,1669 L399,1666.8 L400,1665 L401,1663.7 L402,1662.6 L403,1661.7 L404,1661 L405,1660.6 L406,1660.6 L407,1661.1 L408,1662.1 L409,1663.3 L410,1664.8 L411,1666.9 L412,1670.5 L413,1674.8 L414,1678.8 L415,1682 L416,1684.9 L417,1687.6 L418,1690.3 L419,1693 L420,1695.8 L421,1698.7 L422,1701.8 L423,1704.8 L424,1707.8 L425,1710.7 L426,1713.4 L427,1716.3 L428,1719 L429,1721.6 L430,1723.8 L431,1725.6 L432,1727.1 L433,1728.4 L434,1729.6 L435,1730.7 L436,1731.7 L437,1732.7 L438,1733.7 L439,1734.7 L440,1735.6 L441,1736.5 L442,1737.4 L443,1738.2 L444,1738.9 L445,1739.6 L446,1740.2 L447,1740.7 L448,1741.2 L449,1741.7 L450,1742.1 L451,1742.5 L452,1742.9 L453,1743.3 L454,1743.7 L455,1744 L456,1744.4 L457,1744.7 L458,1745 L459,1745.4 L460,1745.7 L461,1746 L462,1746.3 L463,1746.5 L464,1746.8 L465,1747.1 L466,1747.4 L467,1747.7 L468,1748 L469,1748.3 L470,1748.6 L471,1748.8 L472,1749.1 L473,1749.4 L474,1749.6 L475,1749.8 L476,1750.1 L477,1750.3 L478,1750.5 L479,1750.7 L480,1750.9 L481,1751 L482,1751.2 L483,1751.4 L484,1751.5 L485,1751.7 L486,1751.8 L487,1752 L488,1752.1 L489,1752.2 L490,1752.3 L491,1752.4 L492,1752.6 L493,1752.7 L494,1752.8 L495,1752.8 L496,1752.9 L497,1753 L498,1753.1 L499,1753.2 L500,1753.3 L501,1753.3 L502,1753.4 L503,1753.4 L504,1753.5 L505,1753.6 L506,1753.6 L507,1753.7 L508,1753.7 L509,1753.8 L510,1753.8 L511,1753.8 L512,1753.9 L513,1753.9 L514,1753.9 L515,1754 L516,1754 L517,1754 L518,1754.1 L519,1754.1 L520,1754.1 L521,1754.1 L522,1754.2 L523,1754.2 L524,1754.2 L525,1754.2 L526,1754.2 L527,1754.2 L528,1754.2 L529,1754.3 L530,1754.3 L531,1754.3 L532,1754.3 L533,1754.3 L534,1754.3 L535,1754.3 L536,1754.3 L537,1754.3 L538,1754.3 L539,1754.3 L540,1754.3 L541,1754.3 L542,1754.3 L543,1754.3 L544,1754.3 L545,1754.3 L546,1754.3 L547,1754.3 L548,1754.3 L549,1754.3 L550,1754.3 L551,1754.3 L552,1754.3 L553,1754.3 L554,1754.3 L555,1754.2 L556,1754.2 L557,1754.2 L558,1754.2 L559,1754.2 L560,1754.2 L561,1754.2 L562,1754.2 L563,1754.2 L564,1754.2 L565,1754.2 L566,1754.1 L567,1754.1 L568,1754.1 L569,1754.1 L570,1754.1 L571,1754.1 L572,1754.1 L573,1754.1 L574,1754.1 L575,1754 L576,1754 L577,1754 L578,1754 L579,1754 L580,1754 L581,1754 L582,1754 L583,1753.9 L584,1753.9 L585,1753.9 L586,1753.9 L587,1753.9 L588,1753.9 L589,1753.9 L590,1753.8 L591,1753.8 L592,1753.8 L593,1753.8 L594,1753.8 L595,1753.8 L596,1753.8 L597,1753.7 L598,1753.7 L599,1753.7 L600,1753.7 L601,1753.7 L602,1753.7 L603,1753.7 L604,1753.6 L605,1753.6 L606,1753.6 L607,1753.6 L608,1753.6 L609,1753.6 L610,1753.6 L611,1753.5 L612,1753.5 L613,1753.5 L614,1753.5 L615,1753.5 L616,1753.5 L617,1753.4 L618,1753.4 L619,1753.4 L620,1753.4 L621,1753.4 L622,1753.4 L623,1753.4 L624,1753.3 L625,1753.3 L626,1753.3 L627,1753.3 L628,1753.3 L629,1753.3 L630,1753.2 L631,1753.2 L632,1753.2 L633,1753.2 L634,1753.2 L635,1753.2 L636,1753.2 L637,1753.1 L638,1753.1 L639,1753.1 L640,1753.1 L641,1753.1 L642,1753.1 L643,1753 L644,1753 L645,1753" fill="none" stroke="#34ac68" stroke-linejoin="round"/></defs>
<use href="#p15" stroke-width="4" opacity="0.22"/>
<use href="#p15" stroke-width="2" opacity="1"/>
<defs><path id="p16" d="M85,1758 L86,1758 L87,1758 L88,1758 L89,1757.9 L90,1757.9 L91,1757.9 L92,1757.9 L93,1757.9 L94,1757.9 L95,1757.9 L96,1757.9 L97,1757.8 L98,1757.8 L99,1757.8 L100,1757.8 L101,1757.8 L102,1757.8 L103,1757.8 L104,1757.8 L105,1757.7 L106,1757.7 L107,1757.7 L108,1757.7 L109,1757.7 L110,1757.7 L111,1757.7 L112,1757.7 L113,1757.6 L114,1757.6 L115,1757.6 L116,1757.6 L117,1757.6 L118,1757.6 L119,1757.6 L120,1757.6 L121,1757.5 L122,1757.5 L123,1757.5 L124,1757.5 L125,1757.5 L126,1757.5 L127,1757.5 L128,1757.5 L129,1757.4 L130,1757.4 L131,1757.4 L132,1757.4 L133,1757.4 L134,1757.4 L135,1757.4 L136,1757.4 L137,1757.3 L138,1757.3 L139,1757.3 L140,1757.3 L141,1757.3 L142,1757.3 L143,1757.3 L144,1757.3 L145,1757.2 L146,1757.2 L147,1757.2 L148,1757.2 L149,1757.2 L150,1757.2 L151,1757.2 L152,1757.2 L153,1757.1 L154,1757.1 L155,1757.1 L156,1757.1 L157,1757.1 L158,1757.1 L159,1757.1 L160,1757 L161,1757 L162,1757 L163,1757 L164,1757 L165,1757 L166,1757 L167,1756.9 L168,1756.9 L169,1756.9 L170,1756.9 L171,1756.9 L172,1756.9 L173,1756.9 L174,1756.8 L175,1756.8 L176,1756.8 L177,1756.8 L178,1756.8 L179,1756.8 L180,1756.8 L181,1756.7 L182,1756.7 L183,1756.7 L184,1756.7 L185,1756.7 L186,1756.6 L187,1756.6 L188,1756.6 L189,1756.6 L190,1756.6 L191,1756.5 L192,1756.5 L193,1756.5 L194,1756.5 L195,1756.5 L196,1756.4 L197,1756.4 L198,1756.4 L199,1756.4 L200,1756.3 L201,1756.3 L202,1756.3 L203,1756.2 L204,1756.2 L205,1756.2 L206,1756.1 L207,1756.1 L208,1756.1 L209,1756 L210,1756 L211,1756 L212,1755.9 L213,1755.9 L214,1755.8 L215,1755.8 L216,1755.7 L217,1755.7 L218,1755.6 L219,1755.5 L220,1755.5 L221,1755.4 L222,1755.3 L223,1755.3 L224,1755.2 L225,1755.1 L226,1755 L227,1754.9 L228,1754.8 L229,1754.7 L230,1754.6 L231,1754.5 L232,1754.4 L233,1754.2 L234,1754.1 L235,1754 L236,1753.9 L237,1753.7 L238,1753.6 L239,1753.5 L240,1753.4 L241,1753.3 L242,1753.1 L243,1753 L244,1752.9 L245,1752.8 L246,1752.7 L247,1752.5 L248,1752.4 L249,1752.2 L250,1752.1 L251,1751.9 L252,1751.8 L253,1751.6 L254,1751.4 L255,1751.2 L256,1751 L257,1750.8 L258,1750.6 L259,1750.4 L260,1750.2 L261,1749.9 L262,1749.7 L263,1749.4 L264,1749.2 L265,1748.9 L266,1748.6 L267,1748.3 L268,1748 L269,1747.7 L270,1747.4 L271,1747.1 L272,1746.7 L273,1746.4 L274,1746 L275,1745.7 L276,1745.3 L277,1744.9 L278,1744.5 L279,1744.1 L280,1743.7 L281,1743.2 L282,1742.7 L283,1742.2 L284,1741.7 L285,1741.1 L286,1740.6 L287,1740 L288,1739.4 L289,1738.7 L290,1738.1 L291,1737.4 L292,1736.7 L293,1735.9 L294,1735.2 L295,1734.3 L296,1733.5 L297,1732.6 L298,1731.6 L299,1730.6 L300,1729.6 L301,1728.5 L302,1727.3 L303,1726.1 L304,1724.8 L305,1723.4 L306,1721.9 L307,1720.3 L308,1718.5 L309,1716.6 L310,1714.5 L311,1712.3 L312,1710 L313,1707.4 L314,1704.5 L315,1701.1 L316,1697.3 L317,1693.1 L318,1688.6 L319,1683.9 L320,1679 L321,1673.7 L322,1667.9 L323,1661.7 L324,1655.1 L325,1648.3 L326,1641.4 L327,1634.5 L328,1627.2 L329,1619.2 L330,1610.1 L331,1598.3 L332,1584.7 L333,1572.6 L334,1562.1 L335,1552.3 L336,1543.1 L337,1534.3 L338,1526.3 L339,1518.4 L340,1510.4 L341,1502 L342,1493.5 L343,1485 L344,1476.7 L345,1468.2 L346,1459.4 L347,1451.8 L348,1446.3 L349,1441.5 L350,1437.4 L351,1434.5 L352,1433.6 L353,1435.1 L354,1438.4 L355,1442.7 L356,1447.3 L357,1451.8 L358,1457.1 L359,1463.6 L360,1471.7 L361,1484.1 L362,1498 L363,1509.6 L364,1519.5 L365,1529.1 L366,1539.5 L367,1552.2 L368,1565.7 L369,1576.7 L370,1585 L371,1592.3 L372,1599.7 L373,1608.5 L374,1618.4 L375,1627.9 L376,1635.7 L377,1642.5 L378,1648.6 L379,1654.4 L380,1660 L381,1665.3 L382,1670.4 L383,1675.2 L384,1679.6 L385,1683.5 L386,1687.2 L387,1690.7 L388,1694 L389,1697 L390,1699.9 L391,1702.5 L392,1705 L393,1707.4 L394,1709.7 L395,1711.9 L396,1713.9 L397,1715.8 L398,1717.5 L399,1719 L400,1720.4 L401,1721.7 L402,1722.9 L403,1724.1 L404,1725.2 L405,1726.3 L406,1727.3 L407,1728.2 L408,1729.1 L409,1729.9 L410,1730.7 L411,1731.4 L412,1732.1 L413,1732.7 L414,1733.4 L415,1734 L416,1734.5 L417,1735.1 L418,1735.6 L419,1736.1 L420,1736.6 L421,1737 L422,1737.5 L423,1737.9 L424,1738.2 L425,1738.6 L426,1738.9 L427,1739.3 L428,1739.6 L429,1739.9 L430,1740.1 L431,1740.4 L432,1740.7 L433,1740.9 L434,1741.2 L435,1741.4 L436,1741.6 L437,1741.9 L438,1742.1 L439,1742.3 L440,1742.5 L441,1742.7 L442,1742.9 L443,1743.1 L444,1743.3 L445,1743.4 L446,1743.6 L447,1743.8 L448,1744 L449,1744.2 L450,1744.3 L451,1744.5 L452,1744.7 L453,1744.9 L454,1745 L455,1745.2 L456,1745.3 L457,1745.5 L458,1745.6 L459,1745.8 L460,1745.9 L461,1746 L462,1746.1 L463,1746.3 L464,1746.4 L465,1746.5 L466,1746.6 L467,1746.7 L468,1746.7 L469,1746.8 L470,1746.9 L471,1746.9 L472,1747 L473,1747.1 L474,1747.1 L475,1747.2 L476,1747.3 L477,1747.3 L478,1747.4 L479,1747.4 L480,1747.5 L481,1747.5 L482,1747.6 L483,1747.6 L484,1747.7 L485,1747.7 L486,1747.8 L487,1747.8 L488,1747.8 L489,1747.9 L490,1747.9 L491,1748 L492,1748 L493,1748 L494,1748.1 L495,1748.1 L496,1748.2 L497,1748.2 L498,1748.2 L499,1748.3 L500,1748.3 L501,1748.3 L502,1748.4 L503,1748.4 L504,1748.4 L505,1748.5 L506,1748.5 L507,1748.5 L508,1748.5 L509,1748.6 L510,1748.6 L511,1748.6 L512,1748.7 L513,1748.7 L514,1748.7 L515,1748.8 L516,1748.8 L517,1748.8 L518,1748.9 L519,1748.9 L520,1748.9 L521,1749 L522,1749 L523,1749 L524,1749.1 L525,1749.1 L526,1749.1 L527,1749.2 L528,1749.2 L529,1749.3 L530,1749.3 L531,1749.3 L532,1749.4 L533,1749.4 L534,1749.5 L535,1749.5 L536,1749.6 L537,1749.6 L538,1749.7 L539,1749.7 L540,1749.8 L541,1749.8 L542,1749.9 L543,1749.9 L544,1750 L545,1750 L546,1750.1 L547,1750.2 L548,1750.2 L549,1750.3 L550,1750.3 L551,1750.4 L552,1750.4 L553,1750.5 L554,1750.6 L555,1750.6 L556,1750.7 L557,1750.7 L558,1750.8 L559,1750.8 L560,1750.9 L561,1751 L562,1751 L563,1751.1 L564,1751.1 L565,1751.1 L566,1751.2 L567,1751.2 L568,1751.2 L569,1751.3 L570,1751.3 L571,1751.3 L572,1751.3 L573,1751.4 L574,1751.4 L575,1751.4 L576,1751.4 L577,1751.4 L578,1751.4 L579,1751.4 L580,1751.5 L581,1751.5 L582,1751.5 L583,1751.5 L584,1751.5 L585,1751.5 L586,1751.5 L587,1751.5 L588,1751.5 L589,1751.5 L590,1751.5 L591,1751.5 L592,1751.5 L593,1751.5 L594,1751.5 L595,1751.5 L596,1751.5 L597,1751.5 L598,1751.5 L599,1751.5 L600,1751.5 L601,1751.5 L602,1751.4 L603,1751.4 L604,1751.4 L605,1751.4 L606,1751.4 L607,1751.4 L608,1751.4 L609,1751.4 L610,1751.4 L611,1751.4 L612,1751.4 L613,1751.4 L614,1751.3 L615,1751.3 L616,1751.3 L617,1751.3 L618,1751.3 L619,1751.3 L620,1751.3 L621,1751.3 L622,1751.3 L623,1751.3 L624,1751.2 L625,1751.2 L626,1751.2 L627,1751.2 L628,1751.2 L629,1751.2 L630,1751.2 L631,1751.2 L632,1751.2 L633,1751.1 L634,1751.1 L635,1751.1 L636,1751.1 L637,1751.1 L638,1751.1 L639,1751.1 L640,1751.1 L641,1751.1 L642,1751 L643,1751 L644,1751 L645,1751" fill="none" stroke="#b07ce0" stroke-linejoin="round"/></defs>
<use href="#p16" stroke-width="4" opacity="0.22"/>
<use href="#p16" stroke-width="2" opacity="1"/>
<defs><path id="p17" d="M85,1760 L86,1760 L87,1760 L88,1760 L89,1759.9 L90,1759.9 L91,1759.9 L92,1759.9 L93,1759.9 L94,1759.9 L95,1759.9 L96,1759.9 L97,1759.8 L98,1759.8 L99,1759.8 L100,1759.8 L101,1759.8 L102,1759.8 L103,1759.8 L104,1759.8 L105,1759.7 L106,1759.7 L107,1759.7 L108,1759.7 L109,1759.7 L110,1759.7 L111,1759.7 L112,1759.7 L113,1759.6 L114,1759.6 L115,1759.6 L116,1759.6 L117,1759.6 L118,1759.6 L119,1759.6 L120,1759.6 L121,1759.5 L122,1759.5 L123,1759.5 L124,1759.5 L125,1759.5 L126,1759.5 L127,1759.5 L128,1759.5 L129,1759.4 L130,1759.4 L131,1759.4 L132,1759.4 L133,1759.4 L134,1759.4 L135,1759.4 L136,1759.3 L137,1759.3 L138,1759.3 L139,1759.3 L140,1759.3 L141,1759.3 L142,1759.3 L143,1759.3 L144,1759.2 L145,1759.2 L146,1759.2 L147,1759.2 L148,1759.2 L149,1759.2 L150,1759.2 L151,1759.1 L152,1759.1 L153,1759.1 L154,1759.1 L155,1759.1 L156,1759.1 L157,1759 L158,1759 L159,1759 L160,1759 L161,1759 L162,1759 L163,1759 L164,1758.9 L165,1758.9 L166,1758.9 L167,1758.9 L168,1758.9 L169,1758.8 L170,1758.8 L171,1758.8 L172,1758.8 L173,1758.8 L174,1758.7 L175,1758.7 L176,1758.7 L177,1758.7 L178,1758.7 L179,1758.6 L180,1758.6 L181,1758.6 L182,1758.6 L183,1758.5 L184,1758.5 L185,1758.5 L186,1758.4 L187,1758.4 L188,1758.4 L189,1758.3 L190,1758.3 L191,1758.3 L192,1758.2 L193,1758.2 L194,1758.2 L195,1758.1 L196,1758.1 L197,1758 L198,1758 L199,1757.9 L200,1757.9 L201,1757.8 L202,1757.8 L203,1757.7 L204,1757.7 L205,1757.6 L206,1757.5 L207,1757.4 L208,1757.4 L209,1757.3 L210,1757.2 L211,1757.1 L212,1757 L213,1756.9 L214,1756.8 L215,1756.7 L216,1756.6 L217,1756.5 L218,1756.4 L219,1756.2 L220,1756.1 L221,1755.9 L222,1755.8 L223,1755.6 L224,1755.5 L225,1755.3 L226,1755.2 L227,1755.1 L228,1755 L229,1754.9 L230,1754.8 L231,1754.7 L232,1754.5 L233,1754.4 L234,1754.2 L235,1754 L236,1753.8 L237,1753.6 L238,1753.3 L239,1753 L240,1752.6 L241,1751.8 L242,1750.6 L243,1749.1 L244,1747.5 L245,1745.7 L246,1743.9 L247,1742.1 L248,1740.1 L249,1738 L250,1735.7 L251,1733.2 L252,1730.6 L253,1727.8 L254,1724.9 L255,1721.8 L256,1718.5 L257,1714.9 L258,1711.2 L259,1707.3 L260,1703.2 L261,1699 L262,1694.7 L263,1690.2 L264,1685.3 L265,1680.1 L266,1674.3 L267,1667.4 L268,1659 L269,1649.8 L270,1641 L271,1633.4 L272,1626.4 L273,1619.6 L274,1613.2 L275,1607.1 L276,1600.9 L277,1595 L278,1589.5 L279,1584.8 L280,1580.6 L281,1576.7 L282,1573.4 L283,1571 L284,1569.5 L285,1568.1 L286,1567.1 L287,1566.6 L288,1566.7 L289,1567.8 L290,1569.6 L291,1571.9 L292,1574.4 L293,1578.4 L294,1583.6 L295,1589.4 L296,1595.3 L297,1601.4 L298,1608 L299,1614.8 L300,1621.7 L301,1628.3 L302,1635 L303,1641.8 L304,1648.5 L305,1655.3 L306,1662.1 L307,1669 L308,1675.7 L309,1682 L310,1688.3 L311,1694.4 L312,1700.2 L313,1705.4 L314,1710.4 L315,1715.2 L316,1719.7 L317,1723.8 L318,1727.3 L319,1730.4 L320,1733.2 L321,1735.8 L322,1738.2 L323,1740.4 L324,1742.2 L325,1743.7 L326,1744.8 L327,1745.8 L328,1746.7 L329,1747.5 L330,1748.2 L331,1748.8 L332,1749.3 L333,1749.8 L334,1750.1 L335,1750.4 L336,1750.6 L337,1750.9 L338,1751.1 L339,1751.3 L340,1751.5 L341,1751.6 L342,1751.8 L343,1751.9 L344,1752.1 L345,1752.2 L346,1752.3 L347,1752.5 L348,1752.6 L349,1752.8 L350,1753 L351,1753.1 L352,1753.3 L353,1753.5 L354,1753.6 L355,1753.7 L356,1753.9 L357,1754 L358,1754.1 L359,1754.2 L360,1754.3 L361,1754.4 L362,1754.5 L363,1754.6 L364,1754.7 L365,1754.8 L366,1754.8 L367,1754.9 L368,1755 L369,1755 L370,1755.1 L371,1755.1 L372,1755.2 L373,1755.2 L374,1755.3 L375,1755.3 L376,1755.4 L377,1755.4 L378,1755.4 L379,1755.5 L380,1755.5 L381,1755.5 L382,1755.6 L383,1755.6 L384,1755.6 L385,1755.6 L386,1755.6 L387,1755.7 L388,1755.7 L389,1755.7 L390,1755.7 L391,1755.7 L392,1755.7 L393,1755.7 L394,1755.7 L395,1755.7 L396,1755.8 L397,1755.8 L398,1755.8 L399,1755.8 L400,1755.8 L401,1755.8 L402,1755.8 L403,1755.8 L404,1755.8 L405,1755.8 L406,1755.8 L407,1755.8 L408,1755.8 L409,1755.8 L410,1755.8 L411,1755.8 L412,1755.8 L413,1755.8 L414,1755.7 L415,1755.7 L416,1755.7 L417,1755.7 L418,1755.7 L419,1755.7 L420,1755.7 L421,1755.7 L422,1755.7 L423,1755.7 L424,1755.7 L425,1755.7 L426,1755.7 L427,1755.7 L428,1755.6 L429,1755.6 L430,1755.6 L431,1755.6 L432,1755.6 L433,1755.6 L434,1755.6 L435,1755.6 L436,1755.6 L437,1755.6 L438,1755.6 L439,1755.5 L440,1755.5 L441,1755.5 L442,1755.5 L443,1755.5 L444,1755.5 L445,1755.5 L446,1755.5 L447,1755.5 L448,1755.4 L449,1755.4 L450,1755.4 L451,1755.4 L452,1755.4 L453,1755.4 L454,1755.4 L455,1755.4 L456,1755.4 L457,1755.3 L458,1755.3 L459,1755.3 L460,1755.3 L461,1755.3 L462,1755.3 L463,1755.3 L464,1755.3 L465,1755.2 L466,1755.2 L467,1755.2 L468,1755.2 L469,1755.2 L470,1755.2 L471,1755.2 L472,1755.2 L473,1755.2 L474,1755.1 L475,1755.1 L476,1755.1 L477,1755.1 L478,1755.1 L479,1755.1 L480,1755.1 L481,1755.1 L482,1755 L483,1755 L484,1755 L485,1755 L486,1755 L487,1755 L488,1755 L489,1755 L490,1754.9 L491,1754.9 L492,1754.9 L493,1754.9 L494,1754.9 L495,1754.9 L496,1754.9 L497,1754.9 L498,1754.8 L499,1754.8 L500,1754.8 L501,1754.8 L502,1754.8 L503,1754.8 L504,1754.8 L505,1754.8 L506,1754.7 L507,1754.7 L508,1754.7 L509,1754.7 L510,1754.7 L511,1754.7 L512,1754.7 L513,1754.7 L514,1754.6 L515,1754.6 L516,1754.6 L517,1754.6 L518,1754.6 L519,1754.6 L520,1754.6 L521,1754.6 L522,1754.5 L523,1754.5 L524,1754.5 L525,1754.5 L526,1754.5 L527,1754.5 L528,1754.5 L529,1754.5 L530,1754.4 L531,1754.4 L532,1754.4 L533,1754.4 L534,1754.4 L535,1754.4 L536,1754.4 L537,1754.4 L538,1754.3 L539,1754.3 L540,1754.3 L541,1754.3 L542,1754.3 L543,1754.3 L544,1754.3 L545,1754.3 L546,1754.2 L547,1754.2 L548,1754.2 L549,1754.2 L550,1754.2 L551,1754.2 L552,1754.2 L553,1754.2 L554,1754.1 L555,1754.1 L556,1754.1 L557,1754.1 L558,1754.1 L559,1754.1 L560,1754.1 L561,1754.1 L562,1754 L563,1754 L564,1754 L565,1754 L566,1754 L567,1754 L568,1754 L569,1754 L570,1753.9 L571,1753.9 L572,1753.9 L573,1753.9 L574,1753.9 L575,1753.9 L576,1753.9 L577,1753.9 L578,1753.8 L579,1753.8 L580,1753.8 L581,1753.8 L582,1753.8 L583,1753.8 L584,1753.8 L585,1753.8 L586,1753.7 L587,1753.7 L588,1753.7 L589,1753.7 L590,1753.7 L591,1753.7 L592,1753.7 L593,1753.7 L594,1753.6 L595,1753.6 L596,1753.6 L597,1753.6 L598,1753.6 L599,1753.6 L600,1753.6 L601,1753.6 L602,1753.5 L603,1753.5 L604,1753.5 L605,1753.5 L606,1753.5 L607,1753.5 L608,1753.5 L609,1753.5 L610,1753.4 L611,1753.4 L612,1753.4 L613,1753.4 L614,1753.4 L615,1753.4 L616,1753.4 L617,1753.4 L618,1753.3 L619,1753.3 L620,1753.3 L621,1753.3 L622,1753.3 L623,1753.3 L624,1753.3 L625,1753.3 L626,1753.2 L627,1753.2 L628,1753.2 L629,1753.2 L630,1753.2 L631,1753.2 L632,1753.2 L633,1753.2 L634,1753.1 L635,1753.1 L636,1753.1 L637,1753.1 L638,1753.1 L639,1753.1 L640,1753.1 L641,1753.1 L642,1753 L643,1753 L644,1753" fill="none" stroke="#d09c10" stroke-linejoin="round"/></defs>
<use href="#p17" stroke-width="4.6" opacity="0.22"/>
<use href="#p17" stroke-width="2.6" opacity="1"/>
<defs><path id="p18" d="M202,1755.6 L203,1755.4 L204,1755.2 L205,1755 L206,1754.8 L207,1754.6 L208,1754.4 L209,1754.2 L210,1753.9 L211,1753.7 L212,1753.4 L213,1753.2 L214,1752.9 L215,1752.6 L216,1752.4 L217,1752.1 L218,1751.9 L219,1751.6 L220,1751.3 L221,1751 L222,1750.7 L223,1750.3 L224,1749.9 L225,1749.5 L226,1749.1 L227,1748.5 L228,1747.9 L229,1747 L230,1746 L231,1744.9 L232,1743.7 L233,1742.4 L234,1741.1 L235,1739.7 L236,1738.3 L237,1736.8 L238,1735.3 L239,1733.7 L240,1732.1 L241,1730.3 L242,1728.4 L243,1726.4 L244,1724.3 L245,1722 L246,1719.7 L247,1717.1 L248,1714.3 L249,1711.3 L250,1708.1 L251,1704.7 L252,1701.1 L253,1697.1 L254,1692.6 L255,1687.7 L256,1682.5 L257,1677 L258,1671.2 L259,1664.9 L260,1658.1 L261,1651.1 L262,1644.2 L263,1637.6 L264,1631 L265,1624.5 L266,1617.9 L267,1611.2 L268,1604.3 L269,1597.5 L270,1590.9 L271,1584.6 L272,1578.7 L273,1573 L274,1567.5 L275,1562.1 L276,1556.3 L277,1550.6 L278,1545.8 L279,1542.5 L280,1540.3 L281,1538.4 L282,1536.7 L283,1535.5 L284,1534.8 L285,1534.7 L286,1535.1 L287,1535.9 L288,1537 L289,1538.3 L290,1539.8 L291,1541.4 L292,1543 L293,1545.2 L294,1547.9 L295,1551.1 L296,1554.6 L297,1558.3 L298,1562.3 L299,1567 L300,1572.2 L301,1577.5 L302,1582.6 L303,1587.7 L304,1592.9 L305,1597.9 L306,1602.8 L307,1607.9 L308,1613 L309,1617.4 L310,1620.2 L311,1621.9 L312,1623.5 L313,1624.7 L314,1625.5 L315,1625.8 L316,1625.5 L317,1624.5 L318,1623 L319,1621.2 L320,1619 L321,1616.6 L322,1613.7 L323,1609.4 L324,1604 L325,1598.2 L326,1592.4 L327,1586.3 L328,1579.6 L329,1572.5 L330,1564.9 L331,1556.4 L332,1547.1 L333,1537.6 L334,1527.9 L335,1517.7 L336,1506.6 L337,1493.7 L338,1481.2 L339,1471.2 L340,1463 L341,1455.4 L342,1447.7 L343,1439.3 L344,1430.8 L345,1422.9 L346,1416 L347,1409.3 L348,1403.1 L349,1398.1 L350,1394.9 L351,1392.5 L352,1390.6 L353,1389.4 L354,1389.1 L355,1389.7 L356,1390.8 L357,1392.5 L358,1394.5 L359,1396.8 L360,1400.7 L361,1406.8 L362,1413.5 L363,1419.6 L364,1425.5 L365,1431.7 L366,1438.3 L367,1445.7 L368,1454.1 L369,1463.5 L370,1473.7 L371,1486.2 L372,1499.8 L373,1509.4 L374,1516.4 L375,1523.6 L376,1532.9 L377,1543.4 L378,1553.6 L379,1563.1 L380,1572.3 L381,1580.6 L382,1587.9 L383,1594.8 L384,1601.3 L385,1608.1 L386,1614.6 L387,1619.7 L388,1623 L389,1625.7 L390,1628 L391,1630 L392,1631.7 L393,1633.2 L394,1634.4 L395,1635.5 L396,1636.5 L397,1637.4 L398,1638.3 L399,1639.1 L400,1640 L401,1641 L402,1642 L403,1643 L404,1643.9 L405,1644.9 L406,1645.9 L407,1646.9 L408,1647.9 L409,1648.9 L410,1650 L411,1651 L412,1652.1 L413,1653.1 L414,1654.2 L415,1655.4 L416,1656.7 L417,1658.3 L418,1660.4 L419,1663.2 L420,1666.4 L421,1669.8 L422,1673.2 L423,1676.4 L424,1679.7 L425,1683 L426,1686.3 L427,1689.5 L428,1692.5 L429,1695.3 L430,1698.1 L431,1700.7 L432,1703.1 L433,1705.3 L434,1707 L435,1708.7 L436,1710.1 L437,1711.5 L438,1712.8 L439,1714 L440,1715.2 L441,1716.3 L442,1717.3 L443,1718.4 L444,1719.4 L445,1720.4 L446,1721.4 L447,1722.3 L448,1723.2 L449,1724 L450,1724.8 L451,1725.5 L452,1726.1 L453,1726.7 L454,1727.1 L455,1727.6 L456,1727.9 L457,1728.3 L458,1728.7 L459,1729 L460,1729.3 L461,1729.6 L462,1730 L463,1730.4 L464,1730.8 L465,1731.2 L466,1731.6 L467,1732 L468,1732.4 L469,1732.8 L470,1733.2 L471,1733.7 L472,1734.2 L473,1734.7 L474,1735.3 L475,1736 L476,1736.7 L477,1737.5 L478,1738.3 L479,1739.1 L480,1739.8 L481,1740.5 L482,1741.2 L483,1741.7 L484,1742.3 L485,1742.8 L486,1743.4 L487,1743.9 L488,1744.4 L489,1744.9 L490,1745.3 L491,1745.7 L492,1746.1 L493,1746.4 L494,1746.7 L495,1746.9 L496,1747.1 L497,1747.3 L498,1747.5 L499,1747.6 L500,1747.8 L501,1748 L502,1748.1 L503,1748.3 L504,1748.4 L505,1748.5 L506,1748.7 L507,1748.8 L508,1748.9 L509,1749 L510,1749.1 L511,1749.2 L512,1749.3 L513,1749.4 L514,1749.5 L515,1749.6 L516,1749.7 L517,1749.8 L518,1749.8 L519,1749.9 L520,1750 L521,1750.1 L522,1750.1 L523,1750.2 L524,1750.3 L525,1750.4 L526,1750.4 L527,1750.5 L528,1750.5 L529,1750.6 L530,1750.7 L531,1750.7 L532,1750.8 L533,1750.8 L534,1750.9 L535,1750.9 L536,1751 L537,1751.1 L538,1751.1 L539,1751.2 L540,1751.2 L541,1751.3 L542,1751.3 L543,1751.3 L544,1751.4 L545,1751.4 L546,1751.5 L547,1751.5 L548,1751.6 L549,1751.6 L550,1751.6 L551,1751.7 L552,1751.7 L553,1751.8 L554,1751.8 L555,1751.8 L556,1751.9 L557,1751.9 L558,1751.9 L559,1752 L560,1752 L561,1752 L562,1752.1 L563,1752.1 L564,1752.1 L565,1752.2 L566,1752.2 L567,1752.2 L568,1752.2 L569,1752.3 L570,1752.3 L571,1752.3 L572,1752.4 L573,1752.4 L574,1752.4 L575,1752.4 L576,1752.5 L577,1752.5 L578,1752.5 L579,1752.5 L580,1752.5 L581,1752.6 L582,1752.6 L583,1752.6 L584,1752.6 L585,1752.7 L586,1752.7 L587,1752.7 L588,1752.7 L589,1752.7 L590,1752.8 L591,1752.8 L592,1752.8 L593,1752.8 L594,1752.9 L595,1752.9 L596,1752.9 L597,1752.9 L598,1753 L599,1753 L600,1753 L601,1753 L602,1753 L603,1753.1 L604,1753.1 L605,1753.1 L606,1753.1 L607,1753.1 L608,1753.1 L609,1753.1 L610,1753.2 L611,1753.2 L612,1753.2 L613,1753.2 L614,1753.2 L615,1753.2 L616,1753.2 L617,1753.2 L618,1753.2 L619,1753.2 L620,1753.2 L621,1753.2 L622,1753.2 L623,1753.2 L624,1753.2 L625,1753.2 L626,1753.1 L627,1753.1 L628,1753.1 L629,1753.1 L630,1753.1 L631,1753.1 L632,1753.1 L633,1753.1 L634,1753.1 L635,1753.1 L636,1753.1 L637,1753.1 L638,1753 L639,1753 L640,1753 L641,1753 L642,1753 L643,1753 L644,1753 L645,1753" fill="none" stroke="#505050" stroke-linejoin="round"/></defs>
<use href="#p18" stroke-width="4" opacity="0.22"/>
<use href="#p18" stroke-width="2" opacity="1"/>
<line x1="363.9" y1="1462.7" x2="387.5" y2="1434.9" stroke="#333" stroke-width="1.4"/>
<polygon points="392.7,1428.8 389.3,1437.7 384.4,1433.6" fill="#111"/>
<line x1="269.1" y1="1649.8" x2="227.4" y2="1616.7" stroke="#333" stroke-width="1.4"/>
<polygon points="221.1,1611.7 230.1,1614.8 226.2,1619.8" fill="#111"/>
<line x1="416.5" y1="1659" x2="447.4" y2="1635.4" stroke="#333" stroke-width="1.4"/>
<polygon points="453.8,1630.6 448.6,1638.6 444.7,1633.5" fill="#111"/>
<line x1="474.2" y1="1734.6" x2="501.5" y2="1717.1" stroke="#333" stroke-width="1.4"/>
<polygon points="508.2,1712.8 502.4,1720.4 498.9,1715" fill="#111"/>
<text transform="translate(401.7,1432.0) scale(0.8,1)" x="0" y="0" font-size="20.00" fill="#444" textLength="110.4" lengthAdjust="spacing">C1s Scan C</text>
<text transform="translate(153.0,1596.0) scale(0.8,1)" x="0" y="0" font-size="22.90" fill="#444" textLength="115.9" lengthAdjust="spacing">C1s Scan D</text>
<text transform="translate(457.9,1632.0) scale(0.8,1)" x="0" y="0" font-size="22.14" fill="#444" textLength="110.5" lengthAdjust="spacing">C1s Scan B</text>
<text transform="translate(513.4,1712.5) scale(0.8,1)" x="0" y="0" font-size="21.83" fill="#444" textLength="114.9" lengthAdjust="spacing">C1s Scan A</text>
<text x="104.5" y="1419.8" font-size="46" fill="#222" text-anchor="start" stroke="#222" stroke-width="0.7">e</text>
<text transform="translate(30.4,1847.9) scale(0.82,1)" x="0" y="0" font-size="22.63" fill="#505050" textLength="40.2" lengthAdjust="spacing">278</text>
<text transform="translate(105.0,1847.9) scale(0.82,1)" x="0" y="0" font-size="22.63" fill="#505050" textLength="40.2" lengthAdjust="spacing">280</text>
<text transform="translate(179.7,1847.9) scale(0.82,1)" x="0" y="0" font-size="22.63" fill="#505050" textLength="40.2" lengthAdjust="spacing">282</text>
<text transform="translate(254.3,1847.9) scale(0.82,1)" x="0" y="0" font-size="22.63" fill="#505050" textLength="40.2" lengthAdjust="spacing">284</text>
<text transform="translate(328.9,1847.9) scale(0.82,1)" x="0" y="0" font-size="22.63" fill="#505050" textLength="40.2" lengthAdjust="spacing">286</text>
<text transform="translate(403.5,1847.9) scale(0.82,1)" x="0" y="0" font-size="22.63" fill="#505050" textLength="40.2" lengthAdjust="spacing">288</text>
<text transform="translate(478.1,1847.9) scale(0.82,1)" x="0" y="0" font-size="22.63" fill="#505050" textLength="40.2" lengthAdjust="spacing">290</text>
<text transform="translate(552.8,1847.9) scale(0.82,1)" x="0" y="0" font-size="22.63" fill="#505050" textLength="40.2" lengthAdjust="spacing">292</text>
<text transform="translate(627.4,1847.9) scale(0.82,1)" x="0" y="0" font-size="22.63" fill="#505050" textLength="40.2" lengthAdjust="spacing">294</text>
<text transform="translate(257.0,1882.3) scale(0.74,1)" x="0" y="0" font-size="25.8" font-weight="bold" fill="#5e5e5e" textLength="287.3" lengthAdjust="spacing">Binding energy(eV)</text>
<text transform="translate(19.9,1671.4) rotate(-90) scale(0.8,1)" x="0" y="0" font-size="27.33" fill="#444" textLength="175.1" lengthAdjust="spacing">Intensity(a.u.)</text>
<rect x="46" y="1335.9" width="637" height="1.6" fill="#e0e0e0"/>
<rect x="46" y="1338" width="637" height="3" fill="#707070"/>
<rect x="46" y="1816" width="637" height="2" fill="#555555"/>
<rect x="46" y="1336" width="2" height="482" fill="#4e4e4e"/>
<rect x="678.1" y="1336" width="1.9" height="482" fill="#777777"/>
<rect x="680" y="1336" width="2.8" height="482" fill="#d4d4d4"/>
<rect x="45.9" y="1817" width="2" height="10" fill="#666666"/>
<rect x="83.2" y="1817" width="2" height="6" fill="#666666"/>
<rect x="120.5" y="1817" width="2" height="10" fill="#666666"/>
<rect x="157.8" y="1817" width="2" height="6" fill="#666666"/>
<rect x="195.2" y="1817" width="2" height="10" fill="#666666"/>
<rect x="232.5" y="1817" width="2" height="6" fill="#666666"/>
<rect x="269.8" y="1817" width="2" height="10" fill="#666666"/>
<rect x="307.1" y="1817" width="2" height="6" fill="#666666"/>
<rect x="344.4" y="1817" width="2" height="10" fill="#666666"/>
<rect x="381.7" y="1817" width="2" height="6" fill="#666666"/>
<rect x="419" y="1817" width="2" height="10" fill="#666666"/>
<rect x="456.3" y="1817" width="2" height="6" fill="#666666"/>
<rect x="493.6" y="1817" width="2" height="10" fill="#666666"/>
<rect x="531" y="1817" width="2" height="6" fill="#666666"/>
<rect x="568.3" y="1817" width="2" height="10" fill="#666666"/>
<rect x="605.6" y="1817" width="2" height="6" fill="#666666"/>
<rect x="642.9" y="1817" width="2" height="10" fill="#666666"/>
<rect x="680.2" y="1817" width="2" height="6" fill="#666666"/>
<polyline points="825.0,1763.8 826.3,1767.9 827.6,1760.3 828.9,1769.5 830.2,1771.4 831.5,1764.9 832.8,1768.4 834.1,1767.6 835.4,1765.0 836.7,1763.1 838.0,1758.3 839.3,1772.1 840.6,1766.2 841.9,1776.4 843.2,1769.6 844.5,1767.4 845.8,1763.6 847.1,1771.8 848.4,1764.1 849.7,1772.4 851.0,1764.5 852.3,1766.8 853.6,1760.0 854.9,1775.4 856.2,1765.6 857.5,1764.5 858.8,1769.2 860.1,1762.4 861.4,1769.1 862.7,1761.3 864.0,1768.2 865.3,1761.8 866.6,1758.7 867.9,1763.6 869.2,1760.1 870.5,1768.2 871.8,1766.1 873.1,1768.0 874.4,1766.4 875.7,1764.6 877.0,1766.1 878.3,1770.2 879.6,1765.3 880.9,1763.0 882.2,1762.1 883.5,1765.1 884.8,1763.0 886.1,1773.5 887.4,1761.3 888.7,1761.7 890.0,1764.8 891.3,1768.6 892.6,1764.9 893.9,1762.2 895.2,1762.8 896.5,1764.6 897.8,1769.9 899.1,1762.1 900.4,1765.6 901.7,1763.5 903.0,1767.3 904.3,1767.5 905.6,1760.1 906.9,1775.4 908.2,1766.6 909.5,1763.8 910.8,1762.2 912.1,1764.6 913.4,1765.7 914.7,1767.9 916.0,1765.4 917.3,1767.3 918.6,1758.8 919.9,1762.1 921.2,1760.9 922.5,1765.5 923.8,1766.5 925.1,1758.7 926.4,1763.7 927.7,1767.1 929.0,1767.6 930.3,1759.3 931.6,1765.8 932.9,1764.7 934.2,1761.4 935.5,1770.8 936.8,1758.2 938.1,1761.3 939.4,1763.9 940.7,1762.8 942.0,1760.4 943.3,1765.6 944.6,1764.7 945.9,1761.2 947.2,1760.2 948.5,1754.7 949.8,1748.9 951.1,1760.7 952.4,1746.4 953.7,1757.6 955.0,1746.8 956.3,1747.2 957.6,1744.9 958.9,1749.0 960.2,1742.9 961.5,1752.1 962.8,1746.5 964.1,1744.4 965.4,1739.9 966.7,1732.3 968.0,1722.5 969.3,1723.3 970.6,1713.4 971.9,1698.1 973.2,1705.6 974.5,1685.7 975.8,1697.2 977.1,1679.4 978.4,1683.2 979.7,1683.5 981.0,1676.4 982.3,1663.5 983.6,1650.6 984.9,1623.9 986.2,1617.8 987.5,1606.6 988.8,1586.2 990.1,1569.6 991.4,1556.2 992.7,1542.7 994.0,1530.3 995.3,1517.4 996.6,1504.7 997.9,1492.8 999.2,1479.3 1000.5,1463.6 1001.8,1448.0 1003.1,1435.3 1004.4,1427.8 1005.7,1421.7 1007.0,1417.9 1008.3,1413.2 1009.6,1406.7 1010.9,1401.0 1012.2,1399.5 1013.5,1398.1 1014.8,1396.3 1016.1,1394.7 1017.4,1395.0 1018.7,1395.8 1020.0,1396.1 1021.3,1402.2 1022.6,1418.5 1023.9,1445.5 1025.2,1460.2 1026.5,1472.8 1027.8,1485.9 1029.1,1499.8 1030.4,1515.2 1031.7,1531.7 1033.0,1545.2 1034.3,1559.7 1035.6,1573.3 1036.9,1586.6 1038.2,1598.4 1039.5,1611.9 1040.8,1625.9 1042.1,1638.7 1043.4,1650.2 1044.7,1663.4 1046.0,1672.6 1047.3,1680.0 1048.6,1687.7 1049.9,1692.7 1051.2,1701.4 1052.5,1706.1 1053.8,1710.1 1055.1,1715.3 1056.4,1719.4 1057.7,1722.5 1059.0,1724.4 1060.3,1718.5 1061.6,1739.8 1062.9,1728.4 1064.2,1732.7 1065.5,1736.9 1066.8,1733.9 1068.1,1740.8 1069.4,1733.0 1070.7,1740.0 1072.0,1730.6 1073.3,1743.1 1074.6,1744.1 1075.9,1743.8 1077.2,1744.1 1078.5,1744.1 1079.8,1746.3 1081.1,1746.4 1082.4,1738.3 1083.7,1745.7 1085.0,1737.0 1086.3,1740.5 1087.6,1736.4 1088.9,1734.5 1090.2,1725.5 1091.5,1722.7 1092.8,1712.5 1094.1,1703.8 1095.4,1702.5 1096.7,1696.3 1098.0,1690.8 1099.3,1685.7 1100.6,1678.1 1101.9,1674.3 1103.2,1666.3 1104.5,1661.8 1105.8,1655.3 1107.1,1649.9 1108.4,1644.6 1109.7,1638.1 1111.0,1631.1 1112.3,1626.9 1113.6,1621.7 1114.9,1616.5 1116.2,1612.6 1117.5,1605.3 1118.8,1601.1 1120.1,1593.1 1121.4,1584.1 1122.7,1582.3 1124.0,1582.0 1125.3,1580.7 1126.6,1581.6 1127.9,1582.9 1129.2,1583.9 1130.5,1585.0 1131.8,1584.5 1133.1,1586.2 1134.4,1588.5 1135.7,1591.3 1137.0,1593.9 1138.3,1598.1 1139.6,1603.8 1140.9,1610.0 1142.2,1616.7 1143.5,1622.9 1144.8,1632.0 1146.1,1641.8 1147.4,1650.4 1148.7,1658.7 1150.0,1664.3 1151.3,1672.3 1152.6,1678.5 1153.9,1683.3 1155.2,1691.6 1156.5,1698.0 1157.8,1708.5 1159.1,1713.6 1160.4,1715.9 1161.7,1719.1 1163.0,1721.4 1164.3,1724.5 1165.6,1727.7 1166.9,1732.9 1168.2,1730.8 1169.5,1736.2 1170.8,1738.9 1172.1,1739.2 1173.4,1738.1 1174.7,1745.3 1176.0,1742.2 1177.3,1752.1 1178.6,1747.3 1179.9,1747.4 1181.2,1759.4 1182.5,1751.7 1183.8,1755.3 1185.1,1751.4 1186.4,1753.6 1187.7,1755.4 1189.0,1753.2 1190.3,1762.3 1191.6,1754.8 1192.9,1752.9 1194.2,1762.6 1195.5,1761.2 1196.8,1749.2 1198.1,1756.3 1199.4,1762.6 1200.7,1755.6 1202.0,1757.5 1203.3,1757.7 1204.6,1749.6 1205.9,1755.0 1207.2,1761.6 1208.5,1764.3 1209.8,1758.2 1211.1,1758.0 1212.4,1760.6 1213.7,1759.0 1215.0,1760.4 1216.3,1754.8 1217.6,1758.3 1218.9,1760.2 1220.2,1760.5 1221.5,1751.7 1222.8,1760.9 1224.1,1757.7 1225.4,1757.4 1226.7,1749.1 1228.0,1755.8 1229.3,1748.6 1230.6,1744.2 1231.9,1754.0 1233.2,1752.9 1234.5,1752.6 1235.8,1752.4 1237.1,1751.1 1238.4,1754.8 1239.7,1752.9 1241.0,1755.4 1242.3,1758.3 1243.6,1750.5 1244.9,1749.9 1246.2,1753.7 1247.5,1741.9 1248.8,1743.5 1250.1,1745.1 1251.4,1737.1 1252.7,1746.5 1254.0,1748.4 1255.3,1736.5 1256.6,1738.0 1257.9,1744.8 1259.2,1747.0 1260.5,1735.8 1261.8,1745.8 1263.1,1744.2 1264.4,1739.1 1265.7,1746.3 1267.0,1747.0 1268.3,1750.7 1269.6,1751.3 1270.9,1751.0 1272.2,1752.5 1273.5,1753.3 1274.8,1756.7 1276.1,1759.3 1277.4,1759.9 1278.7,1753.0 1280.0,1753.8 1281.3,1754.6 1282.6,1763.3 1283.9,1759.8 1285.2,1755.2 1286.5,1753.9 1287.8,1754.7 1289.1,1759.1 1290.4,1754.8 1291.7,1759.4 1293.0,1764.9 1294.3,1758.7 1295.6,1763.2 1296.9,1753.8 1298.2,1761.4 1299.5,1761.2 1300.8,1756.3 1302.1,1765.5 1303.4,1760.0 1304.7,1757.2 1306.0,1758.8 1307.3,1763.8 1308.6,1754.5 1309.9,1760.6 1311.2,1756.2 1312.5,1760.9 1313.8,1757.9 1315.1,1759.7 1316.4,1763.0 1317.7,1760.2 1319.0,1762.2 1320.3,1762.8 1321.6,1761.6 1322.9,1760.9 1324.2,1760.2 1325.5,1762.5 1326.8,1764.8 1328.1,1767.4 1329.4,1767.0 1330.7,1756.0 1332.0,1761.1 1333.3,1761.7 1334.6,1764.3 1335.9,1763.4 1337.2,1753.1 1338.5,1759.6 1339.8,1751.2 1341.1,1755.7 1342.4,1753.5 1343.7,1754.3 1345.0,1762.6 1346.3,1753.7 1347.6,1753.5 1348.9,1755.7 1350.2,1759.2 1351.5,1747.9 1352.8,1761.0 1354.1,1751.1 1355.4,1749.9 1356.7,1754.2 1358.0,1756.1 1359.3,1764.0 1360.6,1756.5 1361.9,1750.3 1363.2,1751.7 1364.5,1748.5 1365.8,1754.8 1367.1,1755.4 1368.4,1750.7 1369.7,1756.5 1371.0,1745.2 1372.3,1750.1 1373.6,1748.3 1374.9,1749.7 1376.2,1745.6 1377.5,1756.0 1378.8,1748.4 1380.1,1751.8 1381.4,1757.2 1382.7,1758.9 1384.0,1757.3 1385.3,1743.7 1386.6,1751.5 1387.9,1751.4 1389.2,1750.2 1390.5,1749.8 1391.8,1750.8 1393.1,1755.5 1394.4,1751.4 1395.7,1747.9 1397.0,1747.1 1398.3,1754.0 1399.6,1746.6 1400.9,1756.4 1402.2,1751.7 1403.5,1751.8 1404.8,1754.8 1406.1,1752.4 1407.4,1756.8 1408.7,1748.8 1410.0,1746.7 1411.3,1761.8 1412.6,1754.4 1413.9,1743.2 1415.2,1760.0 1416.5,1747.2 1417.8,1760.7 1419.1,1759.3 1420.4,1755.1 1421.7,1751.1 1423.0,1747.1 1424.3,1754.0 1425.6,1748.2 1426.9,1753.8 1428.2,1747.9 1429.5,1742.3 1430.8,1745.5 1432.1,1748.1 1433.4,1745.5 1434.7,1747.6 1436.0,1742.9 1437.3,1752.7 1438.6,1743.7 1439.9,1747.5" fill="none" stroke="#555" stroke-width="1.4" stroke-linejoin="miter" opacity="1.0"/>
<defs><path id="p19" d="M824,1771 L825,1771 L826,1771 L827,1771 L828,1770.9 L829,1770.9 L830,1770.9 L831,1770.9 L832,1770.9 L833,1770.9 L834,1770.9 L835,1770.9 L836,1770.8 L837,1770.8 L838,1770.8 L839,1770.8 L840,1770.8 L841,1770.8 L842,1770.8 L843,1770.7 L844,1770.7 L845,1770.7 L846,1770.7 L847,1770.7 L848,1770.7 L849,1770.7 L850,1770.6 L851,1770.6 L852,1770.6 L853,1770.6 L854,1770.6 L855,1770.6 L856,1770.6 L857,1770.5 L858,1770.5 L859,1770.5 L860,1770.5 L861,1770.5 L862,1770.5 L863,1770.5 L864,1770.4 L865,1770.4 L866,1770.4 L867,1770.4 L868,1770.4 L869,1770.4 L870,1770.3 L871,1770.3 L872,1770.3 L873,1770.3 L874,1770.3 L875,1770.3 L876,1770.3 L877,1770.2 L878,1770.2 L879,1770.2 L880,1770.2 L881,1770.2 L882,1770.2 L883,1770.1 L884,1770.1 L885,1770.1 L886,1770.1 L887,1770.1 L888,1770.1 L889,1770 L890,1770 L891,1770 L892,1770 L893,1770 L894,1770 L895,1770 L896,1769.9 L897,1769.9 L898,1769.9 L899,1769.9 L900,1769.9 L901,1769.9 L902,1769.8 L903,1769.8 L904,1769.8 L905,1769.8 L906,1769.8 L907,1769.8 L908,1769.7 L909,1769.7 L910,1769.7 L911,1769.7 L912,1769.7 L913,1769.6 L914,1769.6 L915,1769.6 L916,1769.6 L917,1769.6 L918,1769.6 L919,1769.5 L920,1769.5 L921,1769.5 L922,1769.5 L923,1769.5 L924,1769.5 L925,1769.4 L926,1769.4 L927,1769.4 L928,1769.4 L929,1769.4 L930,1769.4 L931,1769.3 L932,1769.3 L933,1769.3 L934,1769.3 L935,1769.3 L936,1769.2 L937,1769.2 L938,1769.2 L939,1769.2 L940,1769.2 L941,1769.2 L942,1769.1 L943,1769.1 L944,1769.1 L945,1769.1 L946,1769.1 L947,1769.1 L948,1769 L949,1769 L950,1769 L951,1769 L952,1769 L953,1768.9 L954,1768.9 L955,1768.9 L956,1768.9 L957,1768.9 L958,1768.9 L959,1768.8 L960,1768.8 L961,1768.8 L962,1768.8 L963,1768.8 L964,1768.7 L965,1768.7 L966,1768.7 L967,1768.7 L968,1768.7 L969,1768.7 L970,1768.6 L971,1768.6 L972,1768.6 L973,1768.6 L974,1768.6 L975,1768.5 L976,1768.5 L977,1768.5 L978,1768.5 L979,1768.5 L980,1768.4 L981,1768.4 L982,1768.4 L983,1768.4 L984,1768.4 L985,1768.3 L986,1768.3 L987,1768.3 L988,1768.3 L989,1768.2 L990,1768.2 L991,1768.2 L992,1768.2 L993,1768.2 L994,1768.1 L995,1768.1 L996,1768.1 L997,1768.1 L998,1768 L999,1768 L1000,1768 L1001,1768 L1002,1768 L1003,1767.9 L1004,1767.9 L1005,1767.9 L1006,1767.9 L1007,1767.8 L1008,1767.8 L1009,1767.8 L1010,1767.7 L1011,1767.7 L1012,1767.7 L1013,1767.7 L1014,1767.6 L1015,1767.6 L1016,1767.6 L1017,1767.5 L1018,1767.5 L1019,1767.5 L1020,1767.5 L1021,1767.4 L1022,1767.4 L1023,1767.4 L1024,1767.3 L1025,1767.3 L1026,1767.3 L1027,1767.2 L1028,1767.2 L1029,1767.2 L1030,1767.1 L1031,1767.1 L1032,1767.1 L1033,1767 L1034,1767 L1035,1767 L1036,1766.9 L1037,1766.9 L1038,1766.9 L1039,1766.8 L1040,1766.8 L1041,1766.8 L1042,1766.7 L1043,1766.7 L1044,1766.7 L1045,1766.6 L1046,1766.6 L1047,1766.6 L1048,1766.5 L1049,1766.5 L1050,1766.5 L1051,1766.4 L1052,1766.4 L1053,1766.4 L1054,1766.3 L1055,1766.3 L1056,1766.3 L1057,1766.2 L1058,1766.2 L1059,1766.2 L1060,1766.1 L1061,1766.1 L1062,1766.1 L1063,1766 L1064,1766 L1065,1766 L1066,1765.9 L1067,1765.9 L1068,1765.9 L1069,1765.8 L1070,1765.8 L1071,1765.8 L1072,1765.7 L1073,1765.7 L1074,1765.7 L1075,1765.6 L1076,1765.6 L1077,1765.6 L1078,1765.6 L1079,1765.5 L1080,1765.5 L1081,1765.5 L1082,1765.4 L1083,1765.4 L1084,1765.4 L1085,1765.4 L1086,1765.3 L1087,1765.3 L1088,1765.3 L1089,1765.2 L1090,1765.2 L1091,1765.2 L1092,1765.2 L1093,1765.2 L1094,1765.1 L1095,1765.1 L1096,1765.1 L1097,1765.1 L1098,1765 L1099,1765 L1100,1765 L1101,1765 L1102,1765 L1103,1764.9 L1104,1764.9 L1105,1764.9 L1106,1764.9 L1107,1764.9 L1108,1764.8 L1109,1764.8 L1110,1764.8 L1111,1764.8 L1112,1764.8 L1113,1764.8 L1114,1764.7 L1115,1764.7 L1116,1764.7 L1117,1764.7 L1118,1764.7 L1119,1764.7 L1120,1764.6 L1121,1764.6 L1122,1764.6 L1123,1764.6 L1124,1764.6 L1125,1764.6 L1126,1764.5 L1127,1764.5 L1128,1764.5 L1129,1764.5 L1130,1764.5 L1131,1764.5 L1132,1764.4 L1133,1764.4 L1134,1764.4 L1135,1764.4 L1136,1764.4 L1137,1764.4 L1138,1764.4 L1139,1764.3 L1140,1764.3 L1141,1764.3 L1142,1764.3 L1143,1764.3 L1144,1764.3 L1145,1764.3 L1146,1764.2 L1147,1764.2 L1148,1764.2 L1149,1764.2 L1150,1764.2 L1151,1764.2 L1152,1764.2 L1153,1764.1 L1154,1764.1 L1155,1764.1 L1156,1764.1 L1157,1764.1 L1158,1764.1 L1159,1764.1 L1160,1764.1 L1161,1764 L1162,1764 L1163,1764 L1164,1764 L1165,1764 L1166,1764 L1167,1764 L1168,1763.9 L1169,1763.9 L1170,1763.9 L1171,1763.9 L1172,1763.9 L1173,1763.9 L1174,1763.9 L1175,1763.9 L1176,1763.8 L1177,1763.8 L1178,1763.8 L1179,1763.8 L1180,1763.8 L1181,1763.8 L1182,1763.8 L1183,1763.7 L1184,1763.7 L1185,1763.7 L1186,1763.7 L1187,1763.7 L1188,1763.7 L1189,1763.7 L1190,1763.6 L1191,1763.6 L1192,1763.6 L1193,1763.6 L1194,1763.6 L1195,1763.6 L1196,1763.6 L1197,1763.5 L1198,1763.5 L1199,1763.5 L1200,1763.5 L1201,1763.5 L1202,1763.5 L1203,1763.5 L1204,1763.4 L1205,1763.4 L1206,1763.4 L1207,1763.4 L1208,1763.4 L1209,1763.4 L1210,1763.4 L1211,1763.3 L1212,1763.3 L1213,1763.3 L1214,1763.3 L1215,1763.3 L1216,1763.3 L1217,1763.3 L1218,1763.2 L1219,1763.2 L1220,1763.2 L1221,1763.2 L1222,1763.2 L1223,1763.2 L1224,1763.2 L1225,1763.1 L1226,1763.1 L1227,1763.1 L1228,1763.1 L1229,1763.1 L1230,1763.1 L1231,1763.1 L1232,1763 L1233,1763 L1234,1763 L1235,1763 L1236,1763 L1237,1763 L1238,1763 L1239,1763 L1240,1762.9 L1241,1762.9 L1242,1762.9 L1243,1762.9 L1244,1762.9 L1245,1762.9 L1246,1762.9 L1247,1762.8 L1248,1762.8 L1249,1762.8 L1250,1762.8 L1251,1762.8 L1252,1762.8 L1253,1762.8 L1254,1762.7 L1255,1762.7 L1256,1762.7 L1257,1762.7 L1258,1762.7 L1259,1762.7 L1260,1762.7 L1261,1762.6 L1262,1762.6 L1263,1762.6 L1264,1762.6 L1265,1762.6 L1266,1762.6 L1267,1762.6 L1268,1762.5 L1269,1762.5 L1270,1762.5 L1271,1762.5 L1272,1762.5 L1273,1762.5 L1274,1762.4 L1275,1762.4 L1276,1762.4 L1277,1762.4 L1278,1762.4 L1279,1762.4 L1280,1762.4 L1281,1762.3 L1282,1762.3 L1283,1762.3 L1284,1762.3 L1285,1762.3 L1286,1762.3 L1287,1762.2 L1288,1762.2 L1289,1762.2 L1290,1762.2 L1291,1762.2 L1292,1762.1 L1293,1762.1 L1294,1762.1 L1295,1762.1 L1296,1762.1 L1297,1762.1 L1298,1762 L1299,1762 L1300,1762 L1301,1762 L1302,1762 L1303,1761.9 L1304,1761.9 L1305,1761.9 L1306,1761.9 L1307,1761.9 L1308,1761.8 L1309,1761.8 L1310,1761.8 L1311,1761.8 L1312,1761.8 L1313,1761.8 L1314,1761.7 L1315,1761.7 L1316,1761.7 L1317,1761.7 L1318,1761.7 L1319,1761.6 L1320,1761.6 L1321,1761.6 L1322,1761.6 L1323,1761.6 L1324,1761.5 L1325,1761.5 L1326,1761.5 L1327,1761.5 L1328,1761.5 L1329,1761.4 L1330,1761.4 L1331,1761.4 L1332,1761.4 L1333,1761.4 L1334,1761.3 L1335,1761.3 L1336,1761.3 L1337,1761.3 L1338,1761.3 L1339,1761.2 L1340,1761.2 L1341,1761.2 L1342,1761.2 L1343,1761.1 L1344,1761.1 L1345,1761.1 L1346,1761.1 L1347,1761 L1348,1761 L1349,1761 L1350,1761 L1351,1760.9 L1352,1760.9 L1353,1760.9 L1354,1760.9 L1355,1760.8 L1356,1760.8 L1357,1760.8 L1358,1760.7 L1359,1760.7 L1360,1760.7 L1361,1760.7 L1362,1760.6 L1363,1760.6 L1364,1760.6 L1365,1760.5 L1366,1760.5 L1367,1760.5 L1368,1760.4 L1369,1760.4 L1370,1760.4 L1371,1760.3 L1372,1760.3 L1373,1760.3 L1374,1760.2 L1375,1760.2 L1376,1760.2 L1377,1760.1 L1378,1760.1 L1379,1760 L1380,1760 L1381,1760 L1382,1759.9 L1383,1759.9 L1384,1759.8 L1385,1759.8 L1386,1759.7 L1387,1759.7 L1388,1759.6 L1389,1759.6 L1390,1759.5 L1391,1759.5 L1392,1759.4 L1393,1759.4 L1394,1759.3 L1395,1759.2 L1396,1759.2 L1397,1759.1 L1398,1759 L1399,1759 L1400,1758.9 L1401,1758.8 L1402,1758.7 L1403,1758.7 L1404,1758.6 L1405,1758.5 L1406,1758.4 L1407,1758.3 L1408,1758.2 L1409,1758.2 L1410,1758.1 L1411,1758 L1412,1757.9 L1413,1757.8 L1414,1757.7 L1415,1757.6 L1416,1757.5 L1417,1757.3 L1418,1757.2 L1419,1757.1 L1420,1757 L1421,1756.9 L1422,1756.7 L1423,1756.6 L1424,1756.4 L1425,1756.2 L1426,1756 L1427,1755.8 L1428,1755.6 L1429,1755.4 L1430,1755.2 L1431,1754.9 L1432,1754.7 L1433,1754.5 L1434,1754.2 L1435,1753.9 L1436,1753.7 L1437,1753.4 L1438,1753.1 L1439,1752.8 L1440,1752.6 L1441,1752.3 L1442,1752" fill="none" stroke="#ee5555" stroke-linejoin="round"/></defs>
<use href="#p19" stroke-width="3.6" opacity="0.22"/>
<use href="#p19" stroke-width="1.6" opacity="1"/>
<line x1="1038.3" y1="1467.8" x2="1080.9" y2="1437.9" stroke="#333" stroke-width="1.4"/>
<polygon points="1087.5,1433.3 1082,1441.1 1078.3,1435.8" fill="#111"/>
<line x1="1167" y1="1645.6" x2="1210.8" y2="1614.6" stroke="#333" stroke-width="1.4"/>
<polygon points="1217.3,1610 1211.8,1617.8 1208.1,1612.6" fill="#111"/>
<text transform="translate(1103.1,1426.0) scale(0.8,1)" x="0" y="0" font-size="20.46" fill="#444" textLength="103.4" lengthAdjust="spacing">Ca 2p 3/2</text>
<text transform="translate(1230.2,1617.5) scale(0.8,1)" x="0" y="0" font-size="21.53" fill="#444" textLength="103.2" lengthAdjust="spacing">Ca 2p 1/2</text>
<text x="891" y="1429" font-size="44" fill="#222" text-anchor="start" stroke="#222" stroke-width="0.7">f</text>
<text transform="translate(807.6,1850.2) scale(0.82,1)" x="0" y="0" font-size="20.71" fill="#505050" textLength="39.9" lengthAdjust="spacing">340</text>
<text transform="translate(970.8,1850.2) scale(0.82,1)" x="0" y="0" font-size="20.71" fill="#505050" textLength="39.9" lengthAdjust="spacing">345</text>
<text transform="translate(1133.9,1850.2) scale(0.82,1)" x="0" y="0" font-size="20.71" fill="#505050" textLength="39.9" lengthAdjust="spacing">350</text>
<text transform="translate(1297.0,1850.2) scale(0.82,1)" x="0" y="0" font-size="20.71" fill="#505050" textLength="39.9" lengthAdjust="spacing">355</text>
<text transform="translate(1027.9,1889.9) scale(0.74,1)" x="0" y="0" font-size="25.5" font-weight="bold" fill="#5e5e5e" textLength="279.2" lengthAdjust="spacing">Binding energy(eV)</text>
<text transform="translate(796.1,1645.8) rotate(-90) scale(0.8,1)" x="0" y="0" font-size="27.18" fill="#444" textLength="175.1" lengthAdjust="spacing">Intensity(a.u.)</text>
<rect x="821" y="1345.1" width="623" height="2.9" fill="#505050"/>
<rect x="821" y="1818.1" width="623" height="1.8" fill="#999999"/>
<rect x="821" y="1819.9" width="623" height="2.9" fill="#b4b4b4"/>
<rect x="821.2" y="1345" width="2.7" height="478" fill="#d0d0d0"/>
<rect x="823.9" y="1345" width="2.1" height="478" fill="#777777"/>
<rect x="1442" y="1345" width="1.9" height="478" fill="#4a4a4a"/>
<rect x="823" y="1821.8" width="2" height="10" fill="#666666"/>
<rect x="904.5" y="1821.8" width="2" height="6" fill="#666666"/>
<rect x="986.1" y="1821.8" width="2" height="10" fill="#666666"/>
<rect x="1067.7" y="1821.8" width="2" height="6" fill="#666666"/>
<rect x="1149.2" y="1821.8" width="2" height="10" fill="#666666"/>
<rect x="1230.8" y="1821.8" width="2" height="6" fill="#666666"/>
<rect x="1312.3" y="1821.8" width="2" height="10" fill="#666666"/>
<rect x="1393.8" y="1821.8" width="2" height="6" fill="#666666"/>
</svg>
</div></body></html>
